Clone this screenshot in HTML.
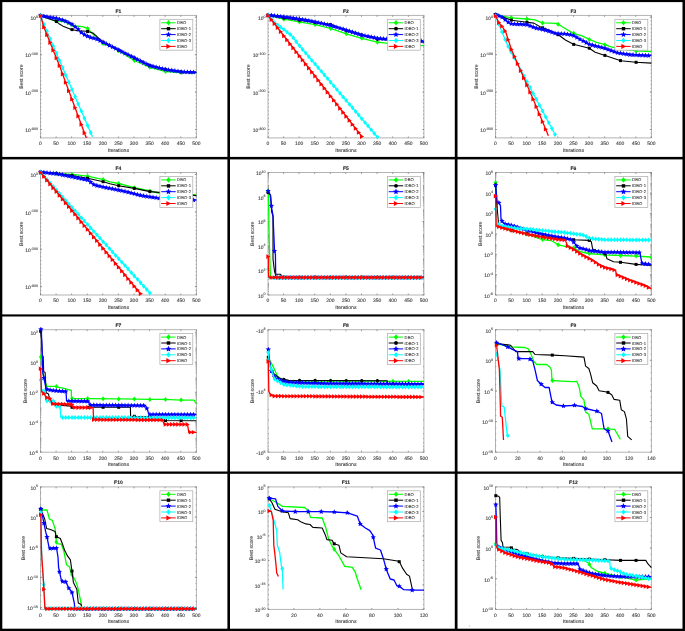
<!DOCTYPE html>
<html><head><meta charset="utf-8"><style>html,body{margin:0;padding:0;background:#fff;width:685px;height:631px;overflow:hidden}svg{will-change:transform}svg text{font-family:"Liberation Sans",sans-serif;text-rendering:geometricPrecision}</style></head><body>
<svg width="685" height="631" viewBox="0 0 685 631" style="position:absolute;left:0;top:0">
<rect x="0" y="0" width="685" height="631" fill="#fff"/>
<g>
<clipPath id="cF1"><rect x="37.5" y="12.4" width="161.9" height="128.5"/></clipPath>
<rect x="40.5" y="15.4" width="155.9" height="122.5" fill="none" stroke="#b0b0b0" stroke-width="0.95"/>
<path d="M40.5 137.9v-1.5M40.5 15.4v1.5M56.1 137.9v-1.5M56.1 15.4v1.5M71.6 137.9v-1.5M71.6 15.4v1.5M87.2 137.9v-1.5M87.2 15.4v1.5M102.8 137.9v-1.5M102.8 15.4v1.5M118.4 137.9v-1.5M118.4 15.4v1.5M134 137.9v-1.5M134 15.4v1.5M149.6 137.9v-1.5M149.6 15.4v1.5M165.2 137.9v-1.5M165.2 15.4v1.5M180.8 137.9v-1.5M180.8 15.4v1.5M196.4 137.9v-1.5M196.4 15.4v1.5M40.5 17.3h1.5M196.4 17.3h-1.5M40.5 54.7h1.5M196.4 54.7h-1.5M40.5 92.1h1.5M196.4 92.1h-1.5M40.5 129.5h1.5M196.4 129.5h-1.5M40.5 136.9h0.8M196.4 136.9h-0.8M40.5 133.2h0.8M196.4 133.2h-0.8M40.5 129.5h0.8M196.4 129.5h-0.8M40.5 125.7h0.8M196.4 125.7h-0.8M40.5 122h0.8M196.4 122h-0.8M40.5 118.2h0.8M196.4 118.2h-0.8M40.5 114.5h0.8M196.4 114.5h-0.8M40.5 110.8h0.8M196.4 110.8h-0.8M40.5 107h0.8M196.4 107h-0.8M40.5 103.3h0.8M196.4 103.3h-0.8M40.5 99.5h0.8M196.4 99.5h-0.8M40.5 95.8h0.8M196.4 95.8h-0.8M40.5 92.1h0.8M196.4 92.1h-0.8M40.5 88.3h0.8M196.4 88.3h-0.8M40.5 84.6h0.8M196.4 84.6h-0.8M40.5 80.9h0.8M196.4 80.9h-0.8M40.5 77.1h0.8M196.4 77.1h-0.8M40.5 73.4h0.8M196.4 73.4h-0.8M40.5 69.6h0.8M196.4 69.6h-0.8M40.5 65.9h0.8M196.4 65.9h-0.8M40.5 62.2h0.8M196.4 62.2h-0.8M40.5 58.4h0.8M196.4 58.4h-0.8M40.5 54.7h0.8M196.4 54.7h-0.8M40.5 50.9h0.8M196.4 50.9h-0.8M40.5 47.2h0.8M196.4 47.2h-0.8M40.5 43.5h0.8M196.4 43.5h-0.8M40.5 39.7h0.8M196.4 39.7h-0.8M40.5 36h0.8M196.4 36h-0.8M40.5 32.3h0.8M196.4 32.3h-0.8M40.5 28.5h0.8M196.4 28.5h-0.8M40.5 24.8h0.8M196.4 24.8h-0.8M40.5 21h0.8M196.4 21h-0.8M40.5 17.3h0.8M196.4 17.3h-0.8" stroke="#777" stroke-width="0.7" fill="none"/>
<text transform="translate(40.5 145.3) scale(0.1)" text-anchor="middle" font-size="50" fill="#3c3c3c" stroke="#3c3c3c" stroke-width="1">0</text>
<text transform="translate(56.1 145.3) scale(0.1)" text-anchor="middle" font-size="50" fill="#3c3c3c" stroke="#3c3c3c" stroke-width="1">50</text>
<text transform="translate(71.6 145.3) scale(0.1)" text-anchor="middle" font-size="50" fill="#3c3c3c" stroke="#3c3c3c" stroke-width="1">100</text>
<text transform="translate(87.2 145.3) scale(0.1)" text-anchor="middle" font-size="50" fill="#3c3c3c" stroke="#3c3c3c" stroke-width="1">150</text>
<text transform="translate(102.8 145.3) scale(0.1)" text-anchor="middle" font-size="50" fill="#3c3c3c" stroke="#3c3c3c" stroke-width="1">200</text>
<text transform="translate(118.4 145.3) scale(0.1)" text-anchor="middle" font-size="50" fill="#3c3c3c" stroke="#3c3c3c" stroke-width="1">250</text>
<text transform="translate(134 145.3) scale(0.1)" text-anchor="middle" font-size="50" fill="#3c3c3c" stroke="#3c3c3c" stroke-width="1">300</text>
<text transform="translate(149.6 145.3) scale(0.1)" text-anchor="middle" font-size="50" fill="#3c3c3c" stroke="#3c3c3c" stroke-width="1">350</text>
<text transform="translate(165.2 145.3) scale(0.1)" text-anchor="middle" font-size="50" fill="#3c3c3c" stroke="#3c3c3c" stroke-width="1">400</text>
<text transform="translate(180.8 145.3) scale(0.1)" text-anchor="middle" font-size="50" fill="#3c3c3c" stroke="#3c3c3c" stroke-width="1">450</text>
<text transform="translate(196.4 145.3) scale(0.1)" text-anchor="middle" font-size="50" fill="#3c3c3c" stroke="#3c3c3c" stroke-width="1">500</text>
<text transform="translate(38 20.1) scale(0.1)" text-anchor="end" font-size="50" fill="#3c3c3c" stroke="#3c3c3c" stroke-width="1">10<tspan font-size="36" dy="-24.5">0</tspan></text>
<text transform="translate(38 57.4) scale(0.1)" text-anchor="end" font-size="50" fill="#3c3c3c" stroke="#3c3c3c" stroke-width="1">10<tspan font-size="36" dy="-24.5">-100</tspan></text>
<text transform="translate(38 94.8) scale(0.1)" text-anchor="end" font-size="50" fill="#3c3c3c" stroke="#3c3c3c" stroke-width="1">10<tspan font-size="36" dy="-24.5">-200</tspan></text>
<text transform="translate(38 132.2) scale(0.1)" text-anchor="end" font-size="50" fill="#3c3c3c" stroke="#3c3c3c" stroke-width="1">10<tspan font-size="36" dy="-24.5">-300</tspan></text>
<text transform="translate(118.4 12.9) scale(0.1)" text-anchor="middle" font-size="50" fill="#222" stroke="#222" stroke-width="1" font-weight="bold">F1</text>
<text transform="translate(118.4 151.9) scale(0.1)" text-anchor="middle" font-size="51.5" fill="#3c3c3c" stroke="#3c3c3c" stroke-width="1">Iterations</text>
<text transform="translate(22.7 76.6) rotate(-90) scale(0.1)" text-anchor="middle" font-size="51.5" fill="#3c3c3c" stroke="#3c3c3c" stroke-width="1">Best score</text>
<g clip-path="url(#cF1)">
<path d="M40.6 15.6L49.7 19L55.5 20.8L63.7 21.5L70.7 24.8L75.4 26L82.4 26.6L87.6 28.4L91.7 33L96.4 37.1L103.4 43.7L110.4 46.3L118.5 50.6L134.3 60.5L150.1 67.3L165.8 71.5L181 72.6L196.4 73" stroke="#00ff00" stroke-width="1.3" fill="none" stroke-linejoin="round"/>
<polygon points="40.6,13.1 42.5,15.6 40.6,18.1 38.7,15.6" fill="#00ff00"/>
<polygon points="56.4,18.4 58.3,20.9 56.4,23.4 54.5,20.9" fill="#00ff00"/>
<polygon points="72,22.6 73.9,25.1 72,27.6 70.1,25.1" fill="#00ff00"/>
<polygon points="87.6,25.9 89.5,28.4 87.6,30.9 85.7,28.4" fill="#00ff00"/>
<polygon points="103.1,41 105,43.5 103.1,46 101.2,43.5" fill="#00ff00"/>
<polygon points="118.7,48.3 120.6,50.8 118.7,53.3 116.8,50.8" fill="#00ff00"/>
<polygon points="134.3,58 136.2,60.5 134.3,63 132.4,60.5" fill="#00ff00"/>
<polygon points="149.9,64.7 151.8,67.2 149.9,69.7 148,67.2" fill="#00ff00"/>
<polygon points="165.5,68.9 167.4,71.4 165.5,73.9 163.6,71.4" fill="#00ff00"/>
<polygon points="181.1,70.1 183,72.6 181.1,75.1 179.2,72.6" fill="#00ff00"/>
<path d="M40.6 15.6L49.7 19L56.1 21.3L59 23.7L63.7 26.6L71.3 29.5L77.7 30.7L87 31.3L92.9 33L97.6 37.1L103.4 42.4L110.4 45.9L117.9 49.7L133.7 57.6L149.4 65.5L165.2 69.4L181 71.8L196.4 72.4" stroke="#000000" stroke-width="1.1" fill="none" stroke-linejoin="round"/>
<rect x="39.1" y="14.1" width="3" height="3" fill="#000000"/>
<rect x="54.9" y="20" width="3" height="3" fill="#000000"/>
<rect x="70.5" y="28.1" width="3" height="3" fill="#000000"/>
<rect x="86.1" y="30" width="3" height="3" fill="#000000"/>
<rect x="101.6" y="40.7" width="3" height="3" fill="#000000"/>
<rect x="117.2" y="48.6" width="3" height="3" fill="#000000"/>
<rect x="132.8" y="56.4" width="3" height="3" fill="#000000"/>
<rect x="148.4" y="64.1" width="3" height="3" fill="#000000"/>
<rect x="164" y="67.9" width="3" height="3" fill="#000000"/>
<rect x="179.6" y="70.3" width="3" height="3" fill="#000000"/>
<path d="M40.6 15.5L49.7 17.3L56.7 18.4L64.9 20.8L71.9 24.3L77.7 28.9L82.4 33.6L89.4 37.1L96.4 38.9L103.4 42.4L110.4 45.9L117.9 49.7L133.7 57.6L149.4 65.5L165.2 69.4L181 71.8L196.4 72.4" stroke="#0000ff" stroke-width="1.3" fill="none" stroke-linejoin="round"/>
<polygon points="40.6,12.7 41.4,14.4 43.3,14.6 41.8,15.9 42.2,17.8 40.6,16.8 39,17.8 39.4,15.9 37.9,14.6 39.8,14.4" fill="#0000ff"/>
<polygon points="43.9,13.4 44.7,15.1 46.6,15.3 45.1,16.6 45.5,18.4 43.9,17.5 42.2,18.4 42.7,16.6 41.2,15.3 43.1,15.1" fill="#0000ff"/>
<polygon points="47,14 47.8,15.7 49.7,15.9 48.2,17.2 48.7,19 47,18.1 45.4,19 45.8,17.2 44.3,15.9 46.2,15.7" fill="#0000ff"/>
<polygon points="50.1,14.6 50.9,16.3 52.8,16.5 51.4,17.8 51.8,19.6 50.1,18.7 48.5,19.6 48.9,17.8 47.5,16.5 49.4,16.3" fill="#0000ff"/>
<polygon points="53.2,15.1 54,16.8 55.9,17 54.5,18.3 54.9,20.1 53.2,19.2 51.6,20.1 52,18.3 50.6,17 52.5,16.8" fill="#0000ff"/>
<polygon points="56.4,15.5 57.1,17.3 59,17.5 57.6,18.7 58,20.6 56.4,19.6 54.7,20.6 55.1,18.7 53.7,17.5 55.6,17.3" fill="#0000ff"/>
<polygon points="59.5,16.4 60.2,18.2 62.1,18.3 60.7,19.6 61.1,21.5 59.5,20.5 57.8,21.5 58.2,19.6 56.8,18.3 58.7,18.2" fill="#0000ff"/>
<polygon points="62.6,17.3 63.4,19.1 65.3,19.3 63.8,20.5 64.2,22.4 62.6,21.4 61,22.4 61.4,20.5 59.9,19.3 61.8,19.1" fill="#0000ff"/>
<polygon points="65.7,18.4 66.5,20.2 68.4,20.3 67,21.6 67.4,23.5 65.7,22.5 64.1,23.5 64.5,21.6 63.1,20.3 65,20.2" fill="#0000ff"/>
<polygon points="68.8,20 69.6,21.7 71.5,21.9 70.1,23.2 70.5,25 68.8,24.1 67.2,25 67.6,23.2 66.2,21.9 68.1,21.7" fill="#0000ff"/>
<polygon points="72,21.5 72.7,23.3 74.6,23.5 73.2,24.7 73.6,26.6 72,25.6 70.3,26.6 70.7,24.7 69.3,23.5 71.2,23.3" fill="#0000ff"/>
<polygon points="75.1,24 75.8,25.8 77.7,26 76.3,27.2 76.7,29.1 75.1,28.1 73.4,29.1 73.8,27.2 72.4,26 74.3,25.8" fill="#0000ff"/>
<polygon points="78.2,26.6 79,28.3 80.9,28.5 79.4,29.8 79.8,31.7 78.2,30.7 76.6,31.7 77,29.8 75.5,28.5 77.4,28.3" fill="#0000ff"/>
<polygon points="81.3,29.7 82.1,31.5 84,31.7 82.6,32.9 83,34.8 81.3,33.8 79.7,34.8 80.1,32.9 78.7,31.7 80.6,31.5" fill="#0000ff"/>
<polygon points="84.4,31.8 85.2,33.6 87.1,33.8 85.7,35 86.1,36.9 84.4,35.9 82.8,36.9 83.2,35 81.8,33.8 83.7,33.6" fill="#0000ff"/>
<polygon points="87.6,33.4 88.3,35.1 90.2,35.3 88.8,36.6 89.2,38.4 87.6,37.5 85.9,38.4 86.3,36.6 84.9,35.3 86.8,35.1" fill="#0000ff"/>
<polygon points="90.7,34.6 91.4,36.4 93.3,36.6 91.9,37.8 92.3,39.7 90.7,38.7 89,39.7 89.4,37.8 88,36.6 89.9,36.4" fill="#0000ff"/>
<polygon points="93.8,35.4 94.6,37.2 96.5,37.4 95,38.6 95.4,40.5 93.8,39.5 92.1,40.5 92.6,38.6 91.1,37.4 93,37.2" fill="#0000ff"/>
<polygon points="96.9,36.4 97.7,38.1 99.6,38.3 98.1,39.6 98.6,41.4 96.9,40.5 95.3,41.4 95.7,39.6 94.2,38.3 96.1,38.1" fill="#0000ff"/>
<polygon points="100,37.9 100.8,39.7 102.7,39.8 101.3,41.1 101.7,43 100,42 98.4,43 98.8,41.1 97.4,39.8 99.3,39.7" fill="#0000ff"/>
<polygon points="103.1,39.5 103.9,41.2 105.8,41.4 104.4,42.7 104.8,44.5 103.1,43.6 101.5,44.5 101.9,42.7 100.5,41.4 102.4,41.2" fill="#0000ff"/>
<polygon points="106.3,41 107,42.8 108.9,43 107.5,44.2 107.9,46.1 106.3,45.1 104.6,46.1 105,44.2 103.6,43 105.5,42.8" fill="#0000ff"/>
<polygon points="109.4,42.6 110.1,44.3 112,44.5 110.6,45.8 111,47.7 109.4,46.7 107.7,47.7 108.1,45.8 106.7,44.5 108.6,44.3" fill="#0000ff"/>
<polygon points="112.5,44.2 113.3,45.9 115.2,46.1 113.7,47.4 114.2,49.2 112.5,48.3 110.9,49.2 111.3,47.4 109.8,46.1 111.7,45.9" fill="#0000ff"/>
<polygon points="115.6,45.7 116.4,47.5 118.3,47.7 116.9,48.9 117.3,50.8 115.6,49.8 114,50.8 114.4,48.9 113,47.7 114.9,47.5" fill="#0000ff"/>
<polygon points="118.7,47.3 119.5,49.1 121.4,49.3 120,50.5 120.4,52.4 118.7,51.4 117.1,52.4 117.5,50.5 116.1,49.3 118,49.1" fill="#0000ff"/>
<polygon points="121.9,48.9 122.6,50.6 124.5,50.8 123.1,52.1 123.5,53.9 121.9,53 120.2,53.9 120.6,52.1 119.2,50.8 121.1,50.6" fill="#0000ff"/>
<polygon points="125,50.4 125.7,52.2 127.6,52.4 126.2,53.6 126.6,55.5 125,54.5 123.3,55.5 123.7,53.6 122.3,52.4 124.2,52.2" fill="#0000ff"/>
<polygon points="128.1,52 128.9,53.7 130.8,53.9 129.3,55.2 129.7,57.1 128.1,56.1 126.5,57.1 126.9,55.2 125.4,53.9 127.3,53.7" fill="#0000ff"/>
<polygon points="131.2,53.6 132,55.3 133.9,55.5 132.5,56.8 132.9,58.6 131.2,57.7 129.6,58.6 130,56.8 128.6,55.5 130.5,55.3" fill="#0000ff"/>
<polygon points="134.3,55.1 135.1,56.9 137,57.1 135.6,58.3 136,60.2 134.3,59.2 132.7,60.2 133.1,58.3 131.7,57.1 133.6,56.9" fill="#0000ff"/>
<polygon points="137.5,56.7 138.2,58.4 140.1,58.6 138.7,59.9 139.1,61.8 137.5,60.8 135.8,61.8 136.2,59.9 134.8,58.6 136.7,58.4" fill="#0000ff"/>
<polygon points="140.6,58.3 141.3,60 143.2,60.2 141.8,61.5 142.2,63.3 140.6,62.4 138.9,63.3 139.3,61.5 137.9,60.2 139.8,60" fill="#0000ff"/>
<polygon points="143.7,59.8 144.5,61.6 146.4,61.8 144.9,63 145.3,64.9 143.7,63.9 142,64.9 142.5,63 141,61.8 142.9,61.6" fill="#0000ff"/>
<polygon points="146.8,61.4 147.6,63.1 149.5,63.3 148,64.6 148.5,66.5 146.8,65.5 145.2,66.5 145.6,64.6 144.1,63.3 146,63.1" fill="#0000ff"/>
<polygon points="149.9,62.8 150.7,64.6 152.6,64.8 151.2,66 151.6,67.9 149.9,66.9 148.3,67.9 148.7,66 147.3,64.8 149.2,64.6" fill="#0000ff"/>
<polygon points="153,63.6 153.8,65.3 155.7,65.5 154.3,66.8 154.7,68.7 153,67.7 151.4,68.7 151.8,66.8 150.4,65.5 152.3,65.3" fill="#0000ff"/>
<polygon points="156.2,64.4 156.9,66.1 158.8,66.3 157.4,67.6 157.8,69.4 156.2,68.5 154.5,69.4 154.9,67.6 153.5,66.3 155.4,66.1" fill="#0000ff"/>
<polygon points="159.3,65.1 160.1,66.9 161.9,67.1 160.5,68.3 160.9,70.2 159.3,69.2 157.6,70.2 158,68.3 156.6,67.1 158.5,66.9" fill="#0000ff"/>
<polygon points="162.4,65.9 163.2,67.7 165.1,67.8 163.6,69.1 164.1,71 162.4,70 160.8,71 161.2,69.1 159.7,67.8 161.6,67.7" fill="#0000ff"/>
<polygon points="165.5,66.6 166.3,68.4 168.2,68.6 166.8,69.9 167.2,71.7 165.5,70.7 163.9,71.7 164.3,69.9 162.9,68.6 164.8,68.4" fill="#0000ff"/>
<polygon points="168.6,67.1 169.4,68.9 171.3,69.1 169.9,70.3 170.3,72.2 168.6,71.2 167,72.2 167.4,70.3 166,69.1 167.9,68.9" fill="#0000ff"/>
<polygon points="171.8,67.6 172.5,69.3 174.4,69.5 173,70.8 173.4,72.7 171.8,71.7 170.1,72.7 170.5,70.8 169.1,69.5 171,69.3" fill="#0000ff"/>
<polygon points="174.9,68.1 175.6,69.8 177.5,70 176.1,71.3 176.5,73.1 174.9,72.2 173.2,73.1 173.6,71.3 172.2,70 174.1,69.8" fill="#0000ff"/>
<polygon points="178,68.5 178.8,70.3 180.7,70.5 179.2,71.7 179.6,73.6 178,72.6 176.4,73.6 176.8,71.7 175.3,70.5 177.2,70.3" fill="#0000ff"/>
<polygon points="181.1,69 181.9,70.8 183.8,70.9 182.4,72.2 182.8,74.1 181.1,73.1 179.5,74.1 179.9,72.2 178.5,70.9 180.4,70.8" fill="#0000ff"/>
<polygon points="184.2,69.1 185,70.9 186.9,71.1 185.5,72.3 185.9,74.2 184.2,73.2 182.6,74.2 183,72.3 181.6,71.1 183.5,70.9" fill="#0000ff"/>
<polygon points="187.4,69.2 188.1,71 190,71.2 188.6,72.4 189,74.3 187.4,73.3 185.7,74.3 186.1,72.4 184.7,71.2 186.6,71" fill="#0000ff"/>
<polygon points="190.5,69.4 191.2,71.1 193.1,71.3 191.7,72.6 192.1,74.4 190.5,73.5 188.8,74.4 189.2,72.6 187.8,71.3 189.7,71.1" fill="#0000ff"/>
<polygon points="193.6,69.5 194.4,71.2 196.3,71.4 194.8,72.7 195.2,74.6 193.6,73.6 191.9,74.6 192.4,72.7 190.9,71.4 192.8,71.2" fill="#0000ff"/>
<path d="M40.6 15.8L45 27L62.1 66.5L75.4 97.5L92.5 136.7" stroke="#00ffff" stroke-width="1.3" fill="none" stroke-linejoin="round"/>
<polygon points="40.6,13.3 42.5,15.8 40.6,18.3 38.7,15.8" fill="#00ffff"/>
<polygon points="43.9,21.7 45.8,24.2 43.9,26.7 42,24.2" fill="#00ffff"/>
<polygon points="47,29.1 48.9,31.6 47,34.1 45.1,31.6" fill="#00ffff"/>
<polygon points="50.1,36.3 52,38.8 50.1,41.3 48.2,38.8" fill="#00ffff"/>
<polygon points="53.2,43.6 55.1,46.1 53.2,48.6 51.3,46.1" fill="#00ffff"/>
<polygon points="56.4,50.8 58.3,53.3 56.4,55.8 54.5,53.3" fill="#00ffff"/>
<polygon points="59.5,58 61.4,60.5 59.5,63 57.6,60.5" fill="#00ffff"/>
<polygon points="62.6,65.2 64.5,67.7 62.6,70.2 60.7,67.7" fill="#00ffff"/>
<polygon points="65.7,72.4 67.6,74.9 65.7,77.4 63.8,74.9" fill="#00ffff"/>
<polygon points="68.8,79.7 70.7,82.2 68.8,84.7 66.9,82.2" fill="#00ffff"/>
<polygon points="72,87 73.9,89.5 72,92 70.1,89.5" fill="#00ffff"/>
<polygon points="75.1,94.3 77,96.8 75.1,99.3 73.2,96.8" fill="#00ffff"/>
<polygon points="78.2,101.4 80.1,103.9 78.2,106.4 76.3,103.9" fill="#00ffff"/>
<polygon points="81.3,108.6 83.2,111.1 81.3,113.6 79.4,111.1" fill="#00ffff"/>
<polygon points="84.4,115.7 86.3,118.2 84.4,120.7 82.5,118.2" fill="#00ffff"/>
<polygon points="87.6,122.9 89.5,125.4 87.6,127.9 85.7,125.4" fill="#00ffff"/>
<polygon points="90.7,130 92.6,132.5 90.7,135 88.8,132.5" fill="#00ffff"/>
<path d="M40.6 15.8L43.8 27L59.5 65.7L86.3 137.9" stroke="#ff0000" stroke-width="1.3" fill="none" stroke-linejoin="round"/>
<polygon points="42.9,15.8 38.8,13.5 38.8,18.1" fill="#ff0000"/>
<polygon points="46.2,27.2 42.1,24.9 42.1,29.5" fill="#ff0000"/>
<polygon points="49.3,34.9 45.2,32.6 45.2,37.2" fill="#ff0000"/>
<polygon points="52.4,42.6 48.3,40.3 48.3,44.9" fill="#ff0000"/>
<polygon points="55.5,50.3 51.4,48 51.4,52.6" fill="#ff0000"/>
<polygon points="58.7,58 54.6,55.7 54.6,60.3" fill="#ff0000"/>
<polygon points="61.8,65.7 57.7,63.4 57.7,68" fill="#ff0000"/>
<polygon points="64.9,74.1 60.8,71.8 60.8,76.4" fill="#ff0000"/>
<polygon points="68,82.5 63.9,80.2 63.9,84.8" fill="#ff0000"/>
<polygon points="71.1,90.9 67,88.6 67,93.2" fill="#ff0000"/>
<polygon points="74.3,99.3 70.2,97 70.2,101.6" fill="#ff0000"/>
<polygon points="77.4,107.7 73.3,105.4 73.3,110" fill="#ff0000"/>
<polygon points="80.5,116.1 76.4,113.8 76.4,118.4" fill="#ff0000"/>
<polygon points="83.6,124.5 79.5,122.2 79.5,126.8" fill="#ff0000"/>
<polygon points="86.7,132.9 82.6,130.6 82.6,135.2" fill="#ff0000"/>
</g>
<rect x="159.9" y="19.3" width="32.9" height="30.9" fill="#fff" stroke="#aaa" stroke-width="0.7"/>
<path d="M161.2 22.8H175.7" stroke="#00ff00" stroke-width="1"/>
<polygon points="168.5,20 170.6,22.8 168.5,25.6 166.3,22.8" fill="#00ff00"/>
<text transform="translate(177.1 24.3) scale(0.1)" text-anchor="start" font-size="42" fill="#3c3c3c" stroke="#3c3c3c" stroke-width="1">DBO</text>
<path d="M161.2 28.7H175.7" stroke="#000000" stroke-width="1"/>
<rect x="166.8" y="27" width="3.4" height="3.4" fill="#000000"/>
<text transform="translate(177.1 30.2) scale(0.1)" text-anchor="start" font-size="42" fill="#3c3c3c" stroke="#3c3c3c" stroke-width="1">IDBO-1</text>
<path d="M161.2 34.6H175.7" stroke="#0000ff" stroke-width="1"/>
<polygon points="168.5,31.4 169.3,33.4 171.4,33.6 169.8,35 170.3,37.1 168.5,36 166.6,37.1 167.1,35 165.5,33.6 167.6,33.4" fill="#0000ff"/>
<text transform="translate(177.1 36.1) scale(0.1)" text-anchor="start" font-size="42" fill="#3c3c3c" stroke="#3c3c3c" stroke-width="1">IDBO-2</text>
<path d="M161.2 40.5H175.7" stroke="#00ffff" stroke-width="1"/>
<polygon points="168.5,37.7 170.6,40.5 168.5,43.3 166.3,40.5" fill="#00ffff"/>
<text transform="translate(177.1 42) scale(0.1)" text-anchor="start" font-size="42" fill="#3c3c3c" stroke="#3c3c3c" stroke-width="1">IDBO-3</text>
<path d="M161.2 46.4H175.7" stroke="#ff0000" stroke-width="1"/>
<polygon points="171,46.4 166.4,43.8 166.4,48.9" fill="#ff0000"/>
<text transform="translate(177.1 47.9) scale(0.1)" text-anchor="start" font-size="42" fill="#3c3c3c" stroke="#3c3c3c" stroke-width="1">IDBO</text>
</g>
<g>
<clipPath id="cF2"><rect x="265" y="12.4" width="161.9" height="128.5"/></clipPath>
<rect x="268" y="15.4" width="155.9" height="122.5" fill="none" stroke="#b0b0b0" stroke-width="0.95"/>
<path d="M268 137.9v-1.5M268 15.4v1.5M283.6 137.9v-1.5M283.6 15.4v1.5M299.1 137.9v-1.5M299.1 15.4v1.5M314.7 137.9v-1.5M314.7 15.4v1.5M330.3 137.9v-1.5M330.3 15.4v1.5M345.9 137.9v-1.5M345.9 15.4v1.5M361.5 137.9v-1.5M361.5 15.4v1.5M377.1 137.9v-1.5M377.1 15.4v1.5M392.7 137.9v-1.5M392.7 15.4v1.5M408.3 137.9v-1.5M408.3 15.4v1.5M423.9 137.9v-1.5M423.9 15.4v1.5M268 17.3h1.5M423.9 17.3h-1.5M268 54.7h1.5M423.9 54.7h-1.5M268 92.1h1.5M423.9 92.1h-1.5M268 129.5h1.5M423.9 129.5h-1.5M268 136.9h0.8M423.9 136.9h-0.8M268 133.2h0.8M423.9 133.2h-0.8M268 129.5h0.8M423.9 129.5h-0.8M268 125.7h0.8M423.9 125.7h-0.8M268 122h0.8M423.9 122h-0.8M268 118.2h0.8M423.9 118.2h-0.8M268 114.5h0.8M423.9 114.5h-0.8M268 110.8h0.8M423.9 110.8h-0.8M268 107h0.8M423.9 107h-0.8M268 103.3h0.8M423.9 103.3h-0.8M268 99.5h0.8M423.9 99.5h-0.8M268 95.8h0.8M423.9 95.8h-0.8M268 92.1h0.8M423.9 92.1h-0.8M268 88.3h0.8M423.9 88.3h-0.8M268 84.6h0.8M423.9 84.6h-0.8M268 80.9h0.8M423.9 80.9h-0.8M268 77.1h0.8M423.9 77.1h-0.8M268 73.4h0.8M423.9 73.4h-0.8M268 69.6h0.8M423.9 69.6h-0.8M268 65.9h0.8M423.9 65.9h-0.8M268 62.2h0.8M423.9 62.2h-0.8M268 58.4h0.8M423.9 58.4h-0.8M268 54.7h0.8M423.9 54.7h-0.8M268 50.9h0.8M423.9 50.9h-0.8M268 47.2h0.8M423.9 47.2h-0.8M268 43.5h0.8M423.9 43.5h-0.8M268 39.7h0.8M423.9 39.7h-0.8M268 36h0.8M423.9 36h-0.8M268 32.3h0.8M423.9 32.3h-0.8M268 28.5h0.8M423.9 28.5h-0.8M268 24.8h0.8M423.9 24.8h-0.8M268 21h0.8M423.9 21h-0.8M268 17.3h0.8M423.9 17.3h-0.8" stroke="#777" stroke-width="0.7" fill="none"/>
<text transform="translate(268 145.3) scale(0.1)" text-anchor="middle" font-size="50" fill="#3c3c3c" stroke="#3c3c3c" stroke-width="1">0</text>
<text transform="translate(283.6 145.3) scale(0.1)" text-anchor="middle" font-size="50" fill="#3c3c3c" stroke="#3c3c3c" stroke-width="1">50</text>
<text transform="translate(299.1 145.3) scale(0.1)" text-anchor="middle" font-size="50" fill="#3c3c3c" stroke="#3c3c3c" stroke-width="1">100</text>
<text transform="translate(314.7 145.3) scale(0.1)" text-anchor="middle" font-size="50" fill="#3c3c3c" stroke="#3c3c3c" stroke-width="1">150</text>
<text transform="translate(330.3 145.3) scale(0.1)" text-anchor="middle" font-size="50" fill="#3c3c3c" stroke="#3c3c3c" stroke-width="1">200</text>
<text transform="translate(345.9 145.3) scale(0.1)" text-anchor="middle" font-size="50" fill="#3c3c3c" stroke="#3c3c3c" stroke-width="1">250</text>
<text transform="translate(361.5 145.3) scale(0.1)" text-anchor="middle" font-size="50" fill="#3c3c3c" stroke="#3c3c3c" stroke-width="1">300</text>
<text transform="translate(377.1 145.3) scale(0.1)" text-anchor="middle" font-size="50" fill="#3c3c3c" stroke="#3c3c3c" stroke-width="1">350</text>
<text transform="translate(392.7 145.3) scale(0.1)" text-anchor="middle" font-size="50" fill="#3c3c3c" stroke="#3c3c3c" stroke-width="1">400</text>
<text transform="translate(408.3 145.3) scale(0.1)" text-anchor="middle" font-size="50" fill="#3c3c3c" stroke="#3c3c3c" stroke-width="1">450</text>
<text transform="translate(423.9 145.3) scale(0.1)" text-anchor="middle" font-size="50" fill="#3c3c3c" stroke="#3c3c3c" stroke-width="1">500</text>
<text transform="translate(265.5 20.1) scale(0.1)" text-anchor="end" font-size="50" fill="#3c3c3c" stroke="#3c3c3c" stroke-width="1">10<tspan font-size="36" dy="-24.5">0</tspan></text>
<text transform="translate(265.5 57.4) scale(0.1)" text-anchor="end" font-size="50" fill="#3c3c3c" stroke="#3c3c3c" stroke-width="1">10<tspan font-size="36" dy="-24.5">-100</tspan></text>
<text transform="translate(265.5 94.8) scale(0.1)" text-anchor="end" font-size="50" fill="#3c3c3c" stroke="#3c3c3c" stroke-width="1">10<tspan font-size="36" dy="-24.5">-200</tspan></text>
<text transform="translate(265.5 132.2) scale(0.1)" text-anchor="end" font-size="50" fill="#3c3c3c" stroke="#3c3c3c" stroke-width="1">10<tspan font-size="36" dy="-24.5">-300</tspan></text>
<text transform="translate(345.9 12.9) scale(0.1)" text-anchor="middle" font-size="50" fill="#222" stroke="#222" stroke-width="1" font-weight="bold">F2</text>
<text transform="translate(345.9 151.9) scale(0.1)" text-anchor="middle" font-size="51.5" fill="#3c3c3c" stroke="#3c3c3c" stroke-width="1">Iterations</text>
<text transform="translate(250.2 76.6) rotate(-90) scale(0.1)" text-anchor="middle" font-size="51.5" fill="#3c3c3c" stroke="#3c3c3c" stroke-width="1">Best score</text>
<g clip-path="url(#cF2)">
<path d="M268.1 15.3L283.7 19.2L298.9 21.9L315.2 24.6L330.4 28.4L346.4 33.8L361.8 38.3L377.3 42.2L392.9 43.8L408.4 44.8L424.1 45.7" stroke="#00ff00" stroke-width="1.3" fill="none" stroke-linejoin="round"/>
<polygon points="268.1,12.8 270,15.3 268.1,17.8 266.2,15.3" fill="#00ff00"/>
<polygon points="283.9,16.7 285.8,19.2 283.9,21.7 282,19.2" fill="#00ff00"/>
<polygon points="299.5,19.5 301.4,22 299.5,24.5 297.6,22" fill="#00ff00"/>
<polygon points="315.1,22.1 317,24.6 315.1,27.1 313.2,24.6" fill="#00ff00"/>
<polygon points="330.6,26 332.5,28.5 330.6,31 328.7,28.5" fill="#00ff00"/>
<polygon points="346.2,31.2 348.1,33.7 346.2,36.2 344.3,33.7" fill="#00ff00"/>
<polygon points="361.8,35.8 363.7,38.3 361.8,40.8 359.9,38.3" fill="#00ff00"/>
<polygon points="377.4,39.7 379.3,42.2 377.4,44.7 375.5,42.2" fill="#00ff00"/>
<polygon points="393,41.3 394.9,43.8 393,46.3 391.1,43.8" fill="#00ff00"/>
<polygon points="408.6,42.3 410.5,44.8 408.6,47.3 406.7,44.8" fill="#00ff00"/>
<path d="M268.1 15.3L283.7 18L298.9 20.2L315.2 22.5L330.4 24.3L346.4 30.8L361.8 34.9L377.3 39.2L392.9 40.5L408.4 41.5L424.1 42.2" stroke="#000000" stroke-width="1.1" fill="none" stroke-linejoin="round"/>
<circle cx="268.1" cy="15.3" r="1.7" fill="#000000"/>
<circle cx="283.9" cy="18" r="1.7" fill="#000000"/>
<circle cx="299.5" cy="20.3" r="1.7" fill="#000000"/>
<circle cx="315.1" cy="22.5" r="1.7" fill="#000000"/>
<circle cx="330.6" cy="24.4" r="1.7" fill="#000000"/>
<circle cx="346.2" cy="30.7" r="1.7" fill="#000000"/>
<circle cx="361.8" cy="34.9" r="1.7" fill="#000000"/>
<circle cx="377.4" cy="39.2" r="1.7" fill="#000000"/>
<circle cx="393" cy="40.5" r="1.7" fill="#000000"/>
<circle cx="408.6" cy="41.5" r="1.7" fill="#000000"/>
<path d="M268.1 15L282.5 16.7L300 19L315.2 21.9L330.4 25.4L344.4 29.5L347.7 30.6L361.8 35.1L377.3 38.3L386.2 39L400 40L420.9 40.9L424.1 41.3" stroke="#0000ff" stroke-width="1.3" fill="none" stroke-linejoin="round"/>
<polygon points="268.1,12.2 268.9,13.9 270.8,14.1 269.3,15.4 269.7,17.3 268.1,16.3 266.5,17.3 266.9,15.4 265.4,14.1 267.3,13.9" fill="#0000ff"/>
<polygon points="271.4,12.6 272.2,14.3 274.1,14.5 272.6,15.8 273,17.7 271.4,16.7 269.7,17.7 270.2,15.8 268.7,14.5 270.6,14.3" fill="#0000ff"/>
<polygon points="274.5,13 275.3,14.7 277.2,14.9 275.7,16.2 276.2,18 274.5,17.1 272.9,18 273.3,16.2 271.8,14.9 273.7,14.7" fill="#0000ff"/>
<polygon points="277.6,13.3 278.4,15.1 280.3,15.3 278.9,16.5 279.3,18.4 277.6,17.4 276,18.4 276.4,16.5 275,15.3 276.9,15.1" fill="#0000ff"/>
<polygon points="280.7,13.7 281.5,15.4 283.4,15.6 282,16.9 282.4,18.8 280.7,17.8 279.1,18.8 279.5,16.9 278.1,15.6 280,15.4" fill="#0000ff"/>
<polygon points="283.9,14.1 284.6,15.8 286.5,16 285.1,17.3 285.5,19.1 283.9,18.2 282.2,19.1 282.6,17.3 281.2,16 283.1,15.8" fill="#0000ff"/>
<polygon points="287,14.5 287.7,16.2 289.6,16.4 288.2,17.7 288.6,19.6 287,18.6 285.3,19.6 285.7,17.7 284.3,16.4 286.2,16.2" fill="#0000ff"/>
<polygon points="290.1,14.9 290.9,16.6 292.8,16.8 291.3,18.1 291.7,20 290.1,19 288.5,20 288.9,18.1 287.4,16.8 289.3,16.6" fill="#0000ff"/>
<polygon points="293.2,15.3 294,17.1 295.9,17.2 294.5,18.5 294.9,20.4 293.2,19.4 291.6,20.4 292,18.5 290.6,17.2 292.5,17.1" fill="#0000ff"/>
<polygon points="296.3,15.7 297.1,17.5 299,17.7 297.6,18.9 298,20.8 296.3,19.8 294.7,20.8 295.1,18.9 293.7,17.7 295.6,17.5" fill="#0000ff"/>
<polygon points="299.5,16.1 300.2,17.9 302.1,18.1 300.7,19.3 301.1,21.2 299.5,20.2 297.8,21.2 298.2,19.3 296.8,18.1 298.7,17.9" fill="#0000ff"/>
<polygon points="302.6,16.7 303.3,18.4 305.2,18.6 303.8,19.9 304.2,21.8 302.6,20.8 300.9,21.8 301.3,19.9 299.9,18.6 301.8,18.4" fill="#0000ff"/>
<polygon points="305.7,17.3 306.5,19 308.4,19.2 306.9,20.5 307.3,22.4 305.7,21.4 304.1,22.4 304.5,20.5 303,19.2 304.9,19" fill="#0000ff"/>
<polygon points="308.8,17.9 309.6,19.6 311.5,19.8 310.1,21.1 310.5,22.9 308.8,22 307.2,22.9 307.6,21.1 306.2,19.8 308.1,19.6" fill="#0000ff"/>
<polygon points="311.9,18.5 312.7,20.2 314.6,20.4 313.2,21.7 313.6,23.5 311.9,22.6 310.3,23.5 310.7,21.7 309.3,20.4 311.2,20.2" fill="#0000ff"/>
<polygon points="315.1,19.1 315.8,20.8 317.7,21 316.3,22.3 316.7,24.1 315.1,23.2 313.4,24.1 313.8,22.3 312.4,21 314.3,20.8" fill="#0000ff"/>
<polygon points="318.2,19.8 318.9,21.5 320.8,21.7 319.4,23 319.8,24.8 318.2,23.9 316.5,24.8 316.9,23 315.5,21.7 317.4,21.5" fill="#0000ff"/>
<polygon points="321.3,20.5 322.1,22.3 324,22.4 322.5,23.7 322.9,25.6 321.3,24.6 319.6,25.6 320.1,23.7 318.6,22.4 320.5,22.3" fill="#0000ff"/>
<polygon points="324.4,21.2 325.2,23 327.1,23.2 325.6,24.4 326.1,26.3 324.4,25.3 322.8,26.3 323.2,24.4 321.7,23.2 323.6,23" fill="#0000ff"/>
<polygon points="327.5,21.9 328.3,23.7 330.2,23.9 328.8,25.1 329.2,27 327.5,26 325.9,27 326.3,25.1 324.9,23.9 326.8,23.7" fill="#0000ff"/>
<polygon points="330.6,22.7 331.4,24.4 333.3,24.6 331.9,25.9 332.3,27.7 330.6,26.8 329,27.7 329.4,25.9 328,24.6 329.9,24.4" fill="#0000ff"/>
<polygon points="333.8,23.6 334.5,25.3 336.4,25.5 335,26.8 335.4,28.7 333.8,27.7 332.1,28.7 332.5,26.8 331.1,25.5 333,25.3" fill="#0000ff"/>
<polygon points="336.9,24.5 337.6,26.2 339.5,26.4 338.1,27.7 338.5,29.6 336.9,28.6 335.2,29.6 335.6,27.7 334.2,26.4 336.1,26.2" fill="#0000ff"/>
<polygon points="340,25.4 340.8,27.2 342.7,27.3 341.2,28.6 341.7,30.5 340,29.5 338.4,30.5 338.8,28.6 337.3,27.3 339.2,27.2" fill="#0000ff"/>
<polygon points="343.1,26.3 343.9,28.1 345.8,28.3 344.4,29.5 344.8,31.4 343.1,30.4 341.5,31.4 341.9,29.5 340.5,28.3 342.4,28.1" fill="#0000ff"/>
<polygon points="346.2,27.3 347,29.1 348.9,29.2 347.5,30.5 347.9,32.4 346.2,31.4 344.6,32.4 345,30.5 343.6,29.2 345.5,29.1" fill="#0000ff"/>
<polygon points="349.4,28.3 350.1,30.1 352,30.3 350.6,31.5 351,33.4 349.4,32.4 347.7,33.4 348.1,31.5 346.7,30.3 348.6,30.1" fill="#0000ff"/>
<polygon points="352.5,29.3 353.2,31.1 355.1,31.3 353.7,32.5 354.1,34.4 352.5,33.4 350.8,34.4 351.2,32.5 349.8,31.3 351.7,31.1" fill="#0000ff"/>
<polygon points="355.6,30.3 356.4,32.1 358.3,32.3 356.8,33.5 357.2,35.4 355.6,34.4 354,35.4 354.4,33.5 352.9,32.3 354.8,32.1" fill="#0000ff"/>
<polygon points="358.7,31.3 359.5,33.1 361.4,33.3 360,34.5 360.4,36.4 358.7,35.4 357.1,36.4 357.5,34.5 356.1,33.3 358,33.1" fill="#0000ff"/>
<polygon points="361.8,32.3 362.6,34.1 364.5,34.2 363.1,35.5 363.5,37.4 361.8,36.4 360.2,37.4 360.6,35.5 359.2,34.2 361.1,34.1" fill="#0000ff"/>
<polygon points="365,33 365.7,34.7 367.6,34.9 366.2,36.2 366.6,38 365,37.1 363.3,38 363.7,36.2 362.3,34.9 364.2,34.7" fill="#0000ff"/>
<polygon points="368.1,33.6 368.8,35.3 370.7,35.5 369.3,36.8 369.7,38.7 368.1,37.7 366.4,38.7 366.8,36.8 365.4,35.5 367.3,35.3" fill="#0000ff"/>
<polygon points="371.2,34.2 372,36 373.9,36.2 372.4,37.4 372.8,39.3 371.2,38.3 369.5,39.3 370,37.4 368.5,36.2 370.4,36" fill="#0000ff"/>
<polygon points="374.3,34.9 375.1,36.6 377,36.8 375.5,38.1 376,39.9 374.3,39 372.7,39.9 373.1,38.1 371.6,36.8 373.5,36.6" fill="#0000ff"/>
<polygon points="377.4,35.5 378.2,37.3 380.1,37.4 378.7,38.7 379.1,40.6 377.4,39.6 375.8,40.6 376.2,38.7 374.8,37.4 376.7,37.3" fill="#0000ff"/>
<polygon points="380.5,35.8 381.3,37.5 383.2,37.7 381.8,39 382.2,40.8 380.5,39.9 378.9,40.8 379.3,39 377.9,37.7 379.8,37.5" fill="#0000ff"/>
<polygon points="383.7,36 384.4,37.7 386.3,37.9 384.9,39.2 385.3,41.1 383.7,40.1 382,41.1 382.4,39.2 381,37.9 382.9,37.7" fill="#0000ff"/>
<polygon points="386.8,36.2 387.6,38 389.4,38.2 388,39.4 388.4,41.3 386.8,40.3 385.1,41.3 385.5,39.4 384.1,38.2 386,38" fill="#0000ff"/>
<polygon points="389.9,36.5 390.7,38.2 392.6,38.4 391.1,39.7 391.6,41.5 389.9,40.6 388.3,41.5 388.7,39.7 387.2,38.4 389.1,38.2" fill="#0000ff"/>
<polygon points="393,36.7 393.8,38.4 395.7,38.6 394.3,39.9 394.7,41.8 393,40.8 391.4,41.8 391.8,39.9 390.4,38.6 392.3,38.4" fill="#0000ff"/>
<polygon points="396.1,36.9 396.9,38.7 398.8,38.9 397.4,40.1 397.8,42 396.1,41 394.5,42 394.9,40.1 393.5,38.9 395.4,38.7" fill="#0000ff"/>
<polygon points="399.3,37.1 400,38.9 401.9,39.1 400.5,40.3 400.9,42.2 399.3,41.2 397.6,42.2 398,40.3 396.6,39.1 398.5,38.9" fill="#0000ff"/>
<polygon points="402.4,37.3 403.1,39.1 405,39.2 403.6,40.5 404,42.4 402.4,41.4 400.7,42.4 401.1,40.5 399.7,39.2 401.6,39.1" fill="#0000ff"/>
<polygon points="405.5,37.4 406.3,39.2 408.2,39.4 406.7,40.6 407.1,42.5 405.5,41.5 403.9,42.5 404.3,40.6 402.8,39.4 404.7,39.2" fill="#0000ff"/>
<polygon points="408.6,37.6 409.4,39.3 411.3,39.5 409.9,40.8 410.3,42.6 408.6,41.7 407,42.6 407.4,40.8 406,39.5 407.9,39.3" fill="#0000ff"/>
<polygon points="411.7,37.7 412.5,39.5 414.4,39.6 413,40.9 413.4,42.8 411.7,41.8 410.1,42.8 410.5,40.9 409.1,39.6 411,39.5" fill="#0000ff"/>
<polygon points="414.9,37.8 415.6,39.6 417.5,39.8 416.1,41 416.5,42.9 414.9,41.9 413.2,42.9 413.6,41 412.2,39.8 414.1,39.6" fill="#0000ff"/>
<polygon points="418,38 418.7,39.7 420.6,39.9 419.2,41.2 419.6,43 418,42.1 416.3,43 416.7,41.2 415.3,39.9 417.2,39.7" fill="#0000ff"/>
<polygon points="421.1,38.1 421.9,39.9 423.8,40.1 422.3,41.3 422.7,43.2 421.1,42.2 419.4,43.2 419.9,41.3 418.4,40.1 420.3,39.9" fill="#0000ff"/>
<path d="M268.1 15.5L274.3 22.5L283.7 29.5L291.4 35.4L298.8 45L377.9 137.6" stroke="#00ffff" stroke-width="1.3" fill="none" stroke-linejoin="round"/>
<polygon points="268.1,13 270,15.5 268.1,18 266.2,15.5" fill="#00ffff"/>
<polygon points="271.4,16.7 273.3,19.2 271.4,21.7 269.5,19.2" fill="#00ffff"/>
<polygon points="274.5,20.2 276.4,22.7 274.5,25.2 272.6,22.7" fill="#00ffff"/>
<polygon points="277.6,22.5 279.5,25 277.6,27.5 275.7,25" fill="#00ffff"/>
<polygon points="280.7,24.8 282.6,27.3 280.7,29.8 278.8,27.3" fill="#00ffff"/>
<polygon points="283.9,27.1 285.8,29.6 283.9,32.1 282,29.6" fill="#00ffff"/>
<polygon points="287,29.5 288.9,32 287,34.5 285.1,32" fill="#00ffff"/>
<polygon points="290.1,31.9 292,34.4 290.1,36.9 288.2,34.4" fill="#00ffff"/>
<polygon points="293.2,35.3 295.1,37.8 293.2,40.3 291.3,37.8" fill="#00ffff"/>
<polygon points="296.3,39.3 298.2,41.8 296.3,44.3 294.4,41.8" fill="#00ffff"/>
<polygon points="299.5,43.3 301.4,45.8 299.5,48.3 297.6,45.8" fill="#00ffff"/>
<polygon points="302.6,46.9 304.5,49.4 302.6,51.9 300.7,49.4" fill="#00ffff"/>
<polygon points="305.7,50.6 307.6,53.1 305.7,55.6 303.8,53.1" fill="#00ffff"/>
<polygon points="308.8,54.2 310.7,56.7 308.8,59.2 306.9,56.7" fill="#00ffff"/>
<polygon points="311.9,57.9 313.8,60.4 311.9,62.9 310,60.4" fill="#00ffff"/>
<polygon points="315.1,61.5 317,64 315.1,66.5 313.2,64" fill="#00ffff"/>
<polygon points="318.2,65.2 320.1,67.7 318.2,70.2 316.3,67.7" fill="#00ffff"/>
<polygon points="321.3,68.8 323.2,71.3 321.3,73.8 319.4,71.3" fill="#00ffff"/>
<polygon points="324.4,72.5 326.3,75 324.4,77.5 322.5,75" fill="#00ffff"/>
<polygon points="327.5,76.1 329.4,78.6 327.5,81.1 325.6,78.6" fill="#00ffff"/>
<polygon points="330.6,79.8 332.5,82.3 330.6,84.8 328.7,82.3" fill="#00ffff"/>
<polygon points="333.8,83.4 335.7,85.9 333.8,88.4 331.9,85.9" fill="#00ffff"/>
<polygon points="336.9,87.1 338.8,89.6 336.9,92.1 335,89.6" fill="#00ffff"/>
<polygon points="340,90.7 341.9,93.2 340,95.7 338.1,93.2" fill="#00ffff"/>
<polygon points="343.1,94.4 345,96.9 343.1,99.4 341.2,96.9" fill="#00ffff"/>
<polygon points="346.2,98 348.1,100.5 346.2,103 344.3,100.5" fill="#00ffff"/>
<polygon points="349.4,101.7 351.3,104.2 349.4,106.7 347.5,104.2" fill="#00ffff"/>
<polygon points="352.5,105.3 354.4,107.8 352.5,110.3 350.6,107.8" fill="#00ffff"/>
<polygon points="355.6,109 357.5,111.5 355.6,114 353.7,111.5" fill="#00ffff"/>
<polygon points="358.7,112.6 360.6,115.1 358.7,117.6 356.8,115.1" fill="#00ffff"/>
<polygon points="361.8,116.3 363.7,118.8 361.8,121.3 359.9,118.8" fill="#00ffff"/>
<polygon points="365,119.9 366.9,122.4 365,124.9 363.1,122.4" fill="#00ffff"/>
<polygon points="368.1,123.6 370,126.1 368.1,128.6 366.2,126.1" fill="#00ffff"/>
<polygon points="371.2,127.2 373.1,129.7 371.2,132.2 369.3,129.7" fill="#00ffff"/>
<polygon points="374.3,130.9 376.2,133.4 374.3,135.9 372.4,133.4" fill="#00ffff"/>
<polygon points="377.4,134.5 379.3,137 377.4,139.5 375.5,137" fill="#00ffff"/>
<path d="M268.1 15.5L362.1 136.9" stroke="#ff0000" stroke-width="1.3" fill="none" stroke-linejoin="round"/>
<polygon points="270.4,15.5 266.3,13.2 266.3,17.8" fill="#ff0000"/>
<polygon points="273.7,19.7 269.6,17.4 269.6,22" fill="#ff0000"/>
<polygon points="276.8,23.8 272.7,21.5 272.7,26.1" fill="#ff0000"/>
<polygon points="279.9,27.8 275.8,25.5 275.8,30.1" fill="#ff0000"/>
<polygon points="283,31.8 278.9,29.5 278.9,34.1" fill="#ff0000"/>
<polygon points="286.2,35.9 282.1,33.6 282.1,38.2" fill="#ff0000"/>
<polygon points="289.3,39.9 285.2,37.6 285.2,42.2" fill="#ff0000"/>
<polygon points="292.4,43.9 288.3,41.6 288.3,46.2" fill="#ff0000"/>
<polygon points="295.5,47.9 291.4,45.6 291.4,50.2" fill="#ff0000"/>
<polygon points="298.6,52 294.5,49.7 294.5,54.3" fill="#ff0000"/>
<polygon points="301.8,56 297.7,53.7 297.7,58.3" fill="#ff0000"/>
<polygon points="304.9,60 300.8,57.7 300.8,62.3" fill="#ff0000"/>
<polygon points="308,64.1 303.9,61.8 303.9,66.4" fill="#ff0000"/>
<polygon points="311.1,68.1 307,65.8 307,70.4" fill="#ff0000"/>
<polygon points="314.2,72.1 310.1,69.8 310.1,74.4" fill="#ff0000"/>
<polygon points="317.4,76.1 313.3,73.8 313.3,78.4" fill="#ff0000"/>
<polygon points="320.5,80.2 316.4,77.9 316.4,82.5" fill="#ff0000"/>
<polygon points="323.6,84.2 319.5,81.9 319.5,86.5" fill="#ff0000"/>
<polygon points="326.7,88.2 322.6,85.9 322.6,90.5" fill="#ff0000"/>
<polygon points="329.8,92.3 325.7,90 325.7,94.6" fill="#ff0000"/>
<polygon points="332.9,96.3 328.8,94 328.8,98.6" fill="#ff0000"/>
<polygon points="336.1,100.3 332,98 332,102.6" fill="#ff0000"/>
<polygon points="339.2,104.3 335.1,102 335.1,106.6" fill="#ff0000"/>
<polygon points="342.3,108.4 338.2,106.1 338.2,110.7" fill="#ff0000"/>
<polygon points="345.4,112.4 341.3,110.1 341.3,114.7" fill="#ff0000"/>
<polygon points="348.5,116.4 344.4,114.1 344.4,118.7" fill="#ff0000"/>
<polygon points="351.7,120.4 347.6,118.1 347.6,122.7" fill="#ff0000"/>
<polygon points="354.8,124.5 350.7,122.2 350.7,126.8" fill="#ff0000"/>
<polygon points="357.9,128.5 353.8,126.2 353.8,130.8" fill="#ff0000"/>
<polygon points="361,132.5 356.9,130.2 356.9,134.8" fill="#ff0000"/>
<polygon points="364.1,136.6 360,134.3 360,138.9" fill="#ff0000"/>
</g>
<rect x="387.4" y="19.3" width="32.9" height="30.9" fill="#fff" stroke="#aaa" stroke-width="0.7"/>
<path d="M388.7 22.8H403.2" stroke="#00ff00" stroke-width="1"/>
<polygon points="396,20 398.1,22.8 396,25.6 393.8,22.8" fill="#00ff00"/>
<text transform="translate(404.6 24.3) scale(0.1)" text-anchor="start" font-size="42" fill="#3c3c3c" stroke="#3c3c3c" stroke-width="1">DBO</text>
<path d="M388.7 28.7H403.2" stroke="#000000" stroke-width="1"/>
<circle cx="396" cy="28.7" r="1.9" fill="#000000"/>
<text transform="translate(404.6 30.2) scale(0.1)" text-anchor="start" font-size="42" fill="#3c3c3c" stroke="#3c3c3c" stroke-width="1">IDBO-1</text>
<path d="M388.7 34.6H403.2" stroke="#0000ff" stroke-width="1"/>
<polygon points="396,31.4 396.8,33.4 398.9,33.6 397.3,35 397.8,37.1 396,36 394.1,37.1 394.6,35 393,33.6 395.1,33.4" fill="#0000ff"/>
<text transform="translate(404.6 36.1) scale(0.1)" text-anchor="start" font-size="42" fill="#3c3c3c" stroke="#3c3c3c" stroke-width="1">IDBO-2</text>
<path d="M388.7 40.5H403.2" stroke="#00ffff" stroke-width="1"/>
<polygon points="396,37.7 398.1,40.5 396,43.3 393.8,40.5" fill="#00ffff"/>
<text transform="translate(404.6 42) scale(0.1)" text-anchor="start" font-size="42" fill="#3c3c3c" stroke="#3c3c3c" stroke-width="1">IDBO-3</text>
<path d="M388.7 46.4H403.2" stroke="#ff0000" stroke-width="1"/>
<polygon points="398.5,46.4 393.9,43.8 393.9,48.9" fill="#ff0000"/>
<text transform="translate(404.6 47.9) scale(0.1)" text-anchor="start" font-size="42" fill="#3c3c3c" stroke="#3c3c3c" stroke-width="1">IDBO</text>
</g>
<g>
<clipPath id="cF3"><rect x="492.5" y="12.4" width="161.9" height="128.5"/></clipPath>
<rect x="495.5" y="15.4" width="155.9" height="122.5" fill="none" stroke="#b0b0b0" stroke-width="0.95"/>
<path d="M495.5 137.9v-1.5M495.5 15.4v1.5M511.1 137.9v-1.5M511.1 15.4v1.5M526.6 137.9v-1.5M526.6 15.4v1.5M542.2 137.9v-1.5M542.2 15.4v1.5M557.8 137.9v-1.5M557.8 15.4v1.5M573.4 137.9v-1.5M573.4 15.4v1.5M589 137.9v-1.5M589 15.4v1.5M604.6 137.9v-1.5M604.6 15.4v1.5M620.2 137.9v-1.5M620.2 15.4v1.5M635.8 137.9v-1.5M635.8 15.4v1.5M651.4 137.9v-1.5M651.4 15.4v1.5M495.5 17.3h1.5M651.4 17.3h-1.5M495.5 54.7h1.5M651.4 54.7h-1.5M495.5 92.1h1.5M651.4 92.1h-1.5M495.5 129.5h1.5M651.4 129.5h-1.5M495.5 136.9h0.8M651.4 136.9h-0.8M495.5 133.2h0.8M651.4 133.2h-0.8M495.5 129.5h0.8M651.4 129.5h-0.8M495.5 125.7h0.8M651.4 125.7h-0.8M495.5 122h0.8M651.4 122h-0.8M495.5 118.2h0.8M651.4 118.2h-0.8M495.5 114.5h0.8M651.4 114.5h-0.8M495.5 110.8h0.8M651.4 110.8h-0.8M495.5 107h0.8M651.4 107h-0.8M495.5 103.3h0.8M651.4 103.3h-0.8M495.5 99.5h0.8M651.4 99.5h-0.8M495.5 95.8h0.8M651.4 95.8h-0.8M495.5 92.1h0.8M651.4 92.1h-0.8M495.5 88.3h0.8M651.4 88.3h-0.8M495.5 84.6h0.8M651.4 84.6h-0.8M495.5 80.9h0.8M651.4 80.9h-0.8M495.5 77.1h0.8M651.4 77.1h-0.8M495.5 73.4h0.8M651.4 73.4h-0.8M495.5 69.6h0.8M651.4 69.6h-0.8M495.5 65.9h0.8M651.4 65.9h-0.8M495.5 62.2h0.8M651.4 62.2h-0.8M495.5 58.4h0.8M651.4 58.4h-0.8M495.5 54.7h0.8M651.4 54.7h-0.8M495.5 50.9h0.8M651.4 50.9h-0.8M495.5 47.2h0.8M651.4 47.2h-0.8M495.5 43.5h0.8M651.4 43.5h-0.8M495.5 39.7h0.8M651.4 39.7h-0.8M495.5 36h0.8M651.4 36h-0.8M495.5 32.3h0.8M651.4 32.3h-0.8M495.5 28.5h0.8M651.4 28.5h-0.8M495.5 24.8h0.8M651.4 24.8h-0.8M495.5 21h0.8M651.4 21h-0.8M495.5 17.3h0.8M651.4 17.3h-0.8" stroke="#777" stroke-width="0.7" fill="none"/>
<text transform="translate(495.5 145.3) scale(0.1)" text-anchor="middle" font-size="50" fill="#3c3c3c" stroke="#3c3c3c" stroke-width="1">0</text>
<text transform="translate(511.1 145.3) scale(0.1)" text-anchor="middle" font-size="50" fill="#3c3c3c" stroke="#3c3c3c" stroke-width="1">50</text>
<text transform="translate(526.6 145.3) scale(0.1)" text-anchor="middle" font-size="50" fill="#3c3c3c" stroke="#3c3c3c" stroke-width="1">100</text>
<text transform="translate(542.2 145.3) scale(0.1)" text-anchor="middle" font-size="50" fill="#3c3c3c" stroke="#3c3c3c" stroke-width="1">150</text>
<text transform="translate(557.8 145.3) scale(0.1)" text-anchor="middle" font-size="50" fill="#3c3c3c" stroke="#3c3c3c" stroke-width="1">200</text>
<text transform="translate(573.4 145.3) scale(0.1)" text-anchor="middle" font-size="50" fill="#3c3c3c" stroke="#3c3c3c" stroke-width="1">250</text>
<text transform="translate(589 145.3) scale(0.1)" text-anchor="middle" font-size="50" fill="#3c3c3c" stroke="#3c3c3c" stroke-width="1">300</text>
<text transform="translate(604.6 145.3) scale(0.1)" text-anchor="middle" font-size="50" fill="#3c3c3c" stroke="#3c3c3c" stroke-width="1">350</text>
<text transform="translate(620.2 145.3) scale(0.1)" text-anchor="middle" font-size="50" fill="#3c3c3c" stroke="#3c3c3c" stroke-width="1">400</text>
<text transform="translate(635.8 145.3) scale(0.1)" text-anchor="middle" font-size="50" fill="#3c3c3c" stroke="#3c3c3c" stroke-width="1">450</text>
<text transform="translate(651.4 145.3) scale(0.1)" text-anchor="middle" font-size="50" fill="#3c3c3c" stroke="#3c3c3c" stroke-width="1">500</text>
<text transform="translate(493 20.1) scale(0.1)" text-anchor="end" font-size="50" fill="#3c3c3c" stroke="#3c3c3c" stroke-width="1">10<tspan font-size="36" dy="-24.5">0</tspan></text>
<text transform="translate(493 57.4) scale(0.1)" text-anchor="end" font-size="50" fill="#3c3c3c" stroke="#3c3c3c" stroke-width="1">10<tspan font-size="36" dy="-24.5">-100</tspan></text>
<text transform="translate(493 94.8) scale(0.1)" text-anchor="end" font-size="50" fill="#3c3c3c" stroke="#3c3c3c" stroke-width="1">10<tspan font-size="36" dy="-24.5">-200</tspan></text>
<text transform="translate(493 132.2) scale(0.1)" text-anchor="end" font-size="50" fill="#3c3c3c" stroke="#3c3c3c" stroke-width="1">10<tspan font-size="36" dy="-24.5">-300</tspan></text>
<text transform="translate(573.4 12.9) scale(0.1)" text-anchor="middle" font-size="50" fill="#222" stroke="#222" stroke-width="1" font-weight="bold">F3</text>
<text transform="translate(573.4 151.9) scale(0.1)" text-anchor="middle" font-size="51.5" fill="#3c3c3c" stroke="#3c3c3c" stroke-width="1">Iterations</text>
<text transform="translate(477.7 76.6) rotate(-90) scale(0.1)" text-anchor="middle" font-size="51.5" fill="#3c3c3c" stroke="#3c3c3c" stroke-width="1">Best score</text>
<g clip-path="url(#cF3)">
<path d="M495.6 14.5L511.1 17.8L526.9 19L535 19.9L539.7 21.9L542.6 22.9L556.1 23.4L558.4 24.3L563.1 27.2L572.9 33.1L582.1 35.8L589.3 39.4L596.5 42.3L605.1 44.7L611 46.9L620 48.5L636 50.9L651.4 51.5" stroke="#00ff00" stroke-width="1.3" fill="none" stroke-linejoin="round"/>
<polygon points="495.6,12 497.5,14.5 495.6,17 493.7,14.5" fill="#00ff00"/>
<polygon points="511.4,15.3 513.3,17.8 511.4,20.3 509.5,17.8" fill="#00ff00"/>
<polygon points="527,16.5 528.9,19 527,21.5 525.1,19" fill="#00ff00"/>
<polygon points="542.6,20.4 544.5,22.9 542.6,25.4 540.7,22.9" fill="#00ff00"/>
<polygon points="558.1,21.7 560,24.2 558.1,26.7 556.2,24.2" fill="#00ff00"/>
<polygon points="573.7,30.8 575.6,33.3 573.7,35.8 571.8,33.3" fill="#00ff00"/>
<polygon points="589.3,36.9 591.2,39.4 589.3,41.9 587.4,39.4" fill="#00ff00"/>
<polygon points="604.9,42.2 606.8,44.7 604.9,47.2 603,44.7" fill="#00ff00"/>
<polygon points="620.5,46.1 622.4,48.6 620.5,51.1 618.6,48.6" fill="#00ff00"/>
<polygon points="636.1,48.4 638,50.9 636.1,53.4 634.2,50.9" fill="#00ff00"/>
<path d="M495.6 14.5L511.7 20.2L526.9 22.3L533.9 23.1L540.9 27.2L549.1 30.1L558.4 34.8L565.4 40L573.5 44.3L589.3 48.2L595.2 52.2L605.1 55.5L620.8 60.7L636 62.3L651.4 63.1" stroke="#000000" stroke-width="1.1" fill="none" stroke-linejoin="round"/>
<rect x="494.1" y="13" width="3" height="3" fill="#000000"/>
<rect x="509.9" y="18.6" width="3" height="3" fill="#000000"/>
<rect x="525.5" y="20.8" width="3" height="3" fill="#000000"/>
<rect x="541.1" y="26.3" width="3" height="3" fill="#000000"/>
<rect x="556.6" y="33.2" width="3" height="3" fill="#000000"/>
<rect x="572.2" y="42.9" width="3" height="3" fill="#000000"/>
<rect x="587.8" y="46.7" width="3" height="3" fill="#000000"/>
<rect x="603.4" y="53.9" width="3" height="3" fill="#000000"/>
<rect x="619" y="59.1" width="3" height="3" fill="#000000"/>
<rect x="634.6" y="60.8" width="3" height="3" fill="#000000"/>
<path d="M495.6 14.5L502.3 17.3L509.9 23.7L526.9 24.6L535 27.8L545.6 30.1L556.1 33.6L565 33.8L572.9 35.1L580.8 39.7L589.3 44.3L604.4 48.2L617.6 52.8L630.7 54.8L651.4 55.7" stroke="#0000ff" stroke-width="1.3" fill="none" stroke-linejoin="round"/>
<polygon points="495.6,11.7 496.4,13.4 498.3,13.6 496.8,14.9 497.2,16.8 495.6,15.8 494,16.8 494.4,14.9 492.9,13.6 494.8,13.4" fill="#0000ff"/>
<polygon points="498.9,13.1 499.7,14.8 501.6,15 500.1,16.3 500.5,18.1 498.9,17.2 497.2,18.1 497.7,16.3 496.2,15 498.1,14.8" fill="#0000ff"/>
<polygon points="502,14.4 502.8,16.1 504.7,16.3 503.2,17.6 503.7,19.4 502,18.5 500.4,19.4 500.8,17.6 499.3,16.3 501.2,16.1" fill="#0000ff"/>
<polygon points="505.1,16.9 505.9,18.6 507.8,18.8 506.4,20.1 506.8,21.9 505.1,21 503.5,21.9 503.9,20.1 502.5,18.8 504.4,18.6" fill="#0000ff"/>
<polygon points="508.2,19.5 509,21.3 510.9,21.4 509.5,22.7 509.9,24.6 508.2,23.6 506.6,24.6 507,22.7 505.6,21.4 507.5,21.3" fill="#0000ff"/>
<polygon points="511.4,21 512.1,22.7 514,22.9 512.6,24.2 513,26 511.4,25.1 509.7,26 510.1,24.2 508.7,22.9 510.6,22.7" fill="#0000ff"/>
<polygon points="514.5,21.1 515.2,22.9 517.1,23.1 515.7,24.3 516.1,26.2 514.5,25.2 512.8,26.2 513.2,24.3 511.8,23.1 513.7,22.9" fill="#0000ff"/>
<polygon points="517.6,21.3 518.4,23.1 520.3,23.2 518.8,24.5 519.2,26.4 517.6,25.4 516,26.4 516.4,24.5 514.9,23.2 516.8,23.1" fill="#0000ff"/>
<polygon points="520.7,21.5 521.5,23.2 523.4,23.4 522,24.7 522.4,26.5 520.7,25.6 519.1,26.5 519.5,24.7 518.1,23.4 520,23.2" fill="#0000ff"/>
<polygon points="523.8,21.6 524.6,23.4 526.5,23.6 525.1,24.8 525.5,26.7 523.8,25.7 522.2,26.7 522.6,24.8 521.2,23.6 523.1,23.4" fill="#0000ff"/>
<polygon points="527,21.8 527.7,23.6 529.6,23.8 528.2,25 528.6,26.9 527,25.9 525.3,26.9 525.7,25 524.3,23.8 526.2,23.6" fill="#0000ff"/>
<polygon points="530.1,23.1 530.8,24.8 532.7,25 531.3,26.3 531.7,28.1 530.1,27.2 528.4,28.1 528.8,26.3 527.4,25 529.3,24.8" fill="#0000ff"/>
<polygon points="533.2,24.3 534,26 535.9,26.2 534.4,27.5 534.8,29.4 533.2,28.4 531.6,29.4 532,27.5 530.5,26.2 532.4,26" fill="#0000ff"/>
<polygon points="536.3,25.3 537.1,27 539,27.2 537.6,28.5 538,30.4 536.3,29.4 534.7,30.4 535.1,28.5 533.7,27.2 535.6,27" fill="#0000ff"/>
<polygon points="539.4,26 540.2,27.7 542.1,27.9 540.7,29.2 541.1,31 539.4,30.1 537.8,31 538.2,29.2 536.8,27.9 538.7,27.7" fill="#0000ff"/>
<polygon points="542.6,26.6 543.3,28.4 545.2,28.6 543.8,29.8 544.2,31.7 542.6,30.7 540.9,31.7 541.3,29.8 539.9,28.6 541.8,28.4" fill="#0000ff"/>
<polygon points="545.7,27.3 546.4,29.1 548.3,29.3 546.9,30.5 547.3,32.4 545.7,31.4 544,32.4 544.4,30.5 543,29.3 544.9,29.1" fill="#0000ff"/>
<polygon points="548.8,28.4 549.6,30.1 551.5,30.3 550,31.6 550.4,33.4 548.8,32.5 547.1,33.4 547.6,31.6 546.1,30.3 548,30.1" fill="#0000ff"/>
<polygon points="551.9,29.4 552.7,31.2 554.6,31.3 553.1,32.6 553.6,34.5 551.9,33.5 550.3,34.5 550.7,32.6 549.2,31.3 551.1,31.2" fill="#0000ff"/>
<polygon points="555,30.4 555.8,32.2 557.7,32.4 556.3,33.6 556.7,35.5 555,34.5 553.4,35.5 553.8,33.6 552.4,32.4 554.3,32.2" fill="#0000ff"/>
<polygon points="558.1,30.8 558.9,32.6 560.8,32.8 559.4,34 559.8,35.9 558.1,34.9 556.5,35.9 556.9,34 555.5,32.8 557.4,32.6" fill="#0000ff"/>
<polygon points="561.3,30.9 562,32.7 563.9,32.9 562.5,34.1 562.9,36 561.3,35 559.6,36 560,34.1 558.6,32.9 560.5,32.7" fill="#0000ff"/>
<polygon points="564.4,31 565.1,32.7 567,32.9 565.6,34.2 566,36.1 564.4,35.1 562.7,36.1 563.1,34.2 561.7,32.9 563.6,32.7" fill="#0000ff"/>
<polygon points="567.5,31.4 568.3,33.2 570.2,33.3 568.7,34.6 569.2,36.5 567.5,35.5 565.9,36.5 566.3,34.6 564.8,33.3 566.7,33.2" fill="#0000ff"/>
<polygon points="570.6,31.9 571.4,33.7 573.3,33.9 571.9,35.1 572.3,37 570.6,36 569,37 569.4,35.1 568,33.9 569.9,33.7" fill="#0000ff"/>
<polygon points="573.7,32.8 574.5,34.5 576.4,34.7 575,36 575.4,37.9 573.7,36.9 572.1,37.9 572.5,36 571.1,34.7 573,34.5" fill="#0000ff"/>
<polygon points="576.9,34.6 577.6,36.4 579.5,36.5 578.1,37.8 578.5,39.7 576.9,38.7 575.2,39.7 575.6,37.8 574.2,36.5 576.1,36.4" fill="#0000ff"/>
<polygon points="580,36.4 580.7,38.2 582.6,38.4 581.2,39.6 581.6,41.5 580,40.5 578.3,41.5 578.7,39.6 577.3,38.4 579.2,38.2" fill="#0000ff"/>
<polygon points="583.1,38.1 583.9,39.9 585.8,40.1 584.3,41.3 584.7,43.2 583.1,42.2 581.5,43.2 581.9,41.3 580.4,40.1 582.3,39.9" fill="#0000ff"/>
<polygon points="586.2,39.8 587,41.6 588.9,41.8 587.5,43 587.9,44.9 586.2,43.9 584.6,44.9 585,43 583.6,41.8 585.5,41.6" fill="#0000ff"/>
<polygon points="589.3,41.5 590.1,43.3 592,43.4 590.6,44.7 591,46.6 589.3,45.6 587.7,46.6 588.1,44.7 586.7,43.4 588.6,43.3" fill="#0000ff"/>
<polygon points="592.5,42.3 593.2,44.1 595.1,44.2 593.7,45.5 594.1,47.4 592.5,46.4 590.8,47.4 591.2,45.5 589.8,44.2 591.7,44.1" fill="#0000ff"/>
<polygon points="595.6,43.1 596.3,44.9 598.2,45.1 596.8,46.3 597.2,48.2 595.6,47.2 593.9,48.2 594.3,46.3 592.9,45.1 594.8,44.9" fill="#0000ff"/>
<polygon points="598.7,43.9 599.5,45.7 601.4,45.9 599.9,47.1 600.3,49 598.7,48 597,49 597.5,47.1 596,45.9 597.9,45.7" fill="#0000ff"/>
<polygon points="601.8,44.7 602.6,46.5 604.5,46.7 603,47.9 603.5,49.8 601.8,48.8 600.2,49.8 600.6,47.9 599.1,46.7 601,46.5" fill="#0000ff"/>
<polygon points="604.9,45.6 605.7,47.3 607.6,47.5 606.2,48.8 606.6,50.6 604.9,49.7 603.3,50.6 603.7,48.8 602.3,47.5 604.2,47.3" fill="#0000ff"/>
<polygon points="608,46.7 608.8,48.4 610.7,48.6 609.3,49.9 609.7,51.7 608,50.8 606.4,51.7 606.8,49.9 605.4,48.6 607.3,48.4" fill="#0000ff"/>
<polygon points="611.2,47.8 611.9,49.5 613.8,49.7 612.4,51 612.8,52.8 611.2,51.9 609.5,52.8 609.9,51 608.5,49.7 610.4,49.5" fill="#0000ff"/>
<polygon points="614.3,48.8 615.1,50.6 616.9,50.8 615.5,52 615.9,53.9 614.3,52.9 612.6,53.9 613,52 611.6,50.8 613.5,50.6" fill="#0000ff"/>
<polygon points="617.4,49.9 618.2,51.7 620.1,51.9 618.6,53.1 619.1,55 617.4,54 615.8,55 616.2,53.1 614.7,51.9 616.6,51.7" fill="#0000ff"/>
<polygon points="620.5,50.4 621.3,52.2 623.2,52.4 621.8,53.6 622.2,55.5 620.5,54.5 618.9,55.5 619.3,53.6 617.9,52.4 619.8,52.2" fill="#0000ff"/>
<polygon points="623.6,50.9 624.4,52.7 626.3,52.9 624.9,54.1 625.3,56 623.6,55 622,56 622.4,54.1 621,52.9 622.9,52.7" fill="#0000ff"/>
<polygon points="626.8,51.4 627.5,53.1 629.4,53.3 628,54.6 628.4,56.5 626.8,55.5 625.1,56.5 625.5,54.6 624.1,53.3 626,53.1" fill="#0000ff"/>
<polygon points="629.9,51.9 630.6,53.6 632.5,53.8 631.1,55.1 631.5,56.9 629.9,56 628.2,56.9 628.6,55.1 627.2,53.8 629.1,53.6" fill="#0000ff"/>
<polygon points="633,52.1 633.8,53.8 635.7,54 634.2,55.3 634.6,57.2 633,56.2 631.4,57.2 631.8,55.3 630.3,54 632.2,53.8" fill="#0000ff"/>
<polygon points="636.1,52.2 636.9,54 638.8,54.2 637.4,55.4 637.8,57.3 636.1,56.3 634.5,57.3 634.9,55.4 633.5,54.2 635.4,54" fill="#0000ff"/>
<polygon points="639.2,52.4 640,54.1 641.9,54.3 640.5,55.6 640.9,57.4 639.2,56.5 637.6,57.4 638,55.6 636.6,54.3 638.5,54.1" fill="#0000ff"/>
<polygon points="642.4,52.5 643.1,54.3 645,54.4 643.6,55.7 644,57.6 642.4,56.6 640.7,57.6 641.1,55.7 639.7,54.4 641.6,54.3" fill="#0000ff"/>
<polygon points="645.5,52.6 646.2,54.4 648.1,54.6 646.7,55.8 647.1,57.7 645.5,56.7 643.8,57.7 644.2,55.8 642.8,54.6 644.7,54.4" fill="#0000ff"/>
<polygon points="648.6,52.8 649.4,54.5 651.3,54.7 649.8,56 650.2,57.8 648.6,56.9 646.9,57.8 647.4,56 645.9,54.7 647.8,54.5" fill="#0000ff"/>
<path d="M495.6 16L501.2 30L507 44L536.4 99.5L555.6 135.5" stroke="#00ffff" stroke-width="1.3" fill="none" stroke-linejoin="round"/>
<polygon points="495.6,13.5 497.5,16 495.6,18.5 493.7,16" fill="#00ffff"/>
<polygon points="498.9,21.7 500.8,24.2 498.9,26.7 497,24.2" fill="#00ffff"/>
<polygon points="502,29.5 503.9,32 502,34.5 500.1,32" fill="#00ffff"/>
<polygon points="505.1,37 507,39.5 505.1,42 503.2,39.5" fill="#00ffff"/>
<polygon points="508.2,43.9 510.1,46.4 508.2,48.9 506.3,46.4" fill="#00ffff"/>
<polygon points="511.4,49.7 513.3,52.2 511.4,54.7 509.5,52.2" fill="#00ffff"/>
<polygon points="514.5,55.6 516.4,58.1 514.5,60.6 512.6,58.1" fill="#00ffff"/>
<polygon points="517.6,61.5 519.5,64 517.6,66.5 515.7,64" fill="#00ffff"/>
<polygon points="520.7,67.4 522.6,69.9 520.7,72.4 518.8,69.9" fill="#00ffff"/>
<polygon points="523.8,73.3 525.7,75.8 523.8,78.3 521.9,75.8" fill="#00ffff"/>
<polygon points="527,79.2 528.9,81.7 527,84.2 525.1,81.7" fill="#00ffff"/>
<polygon points="530.1,85.1 532,87.6 530.1,90.1 528.2,87.6" fill="#00ffff"/>
<polygon points="533.2,91 535.1,93.5 533.2,96 531.3,93.5" fill="#00ffff"/>
<polygon points="536.3,96.8 538.2,99.3 536.3,101.8 534.4,99.3" fill="#00ffff"/>
<polygon points="539.4,102.7 541.3,105.2 539.4,107.7 537.5,105.2" fill="#00ffff"/>
<polygon points="542.6,108.5 544.5,111 542.6,113.5 540.7,111" fill="#00ffff"/>
<polygon points="545.7,114.4 547.6,116.9 545.7,119.4 543.8,116.9" fill="#00ffff"/>
<polygon points="548.8,120.2 550.7,122.7 548.8,125.2 546.9,122.7" fill="#00ffff"/>
<polygon points="551.9,126.1 553.8,128.6 551.9,131.1 550,128.6" fill="#00ffff"/>
<polygon points="555,131.9 556.9,134.4 555,136.9 553.1,134.4" fill="#00ffff"/>
<path d="M495.6 16L499 22.8L502.5 26.9L505.7 32L508.5 40.5L511.5 49.8L532.9 98.6L548.4 135.8" stroke="#ff0000" stroke-width="1.3" fill="none" stroke-linejoin="round"/>
<polygon points="497.9,16 493.8,13.7 493.8,18.3" fill="#ff0000"/>
<polygon points="501.2,22.6 497.1,20.3 497.1,24.9" fill="#ff0000"/>
<polygon points="504.3,26.3 500.2,24 500.2,28.6" fill="#ff0000"/>
<polygon points="507.4,31.1 503.3,28.8 503.3,33.4" fill="#ff0000"/>
<polygon points="510.5,39.7 506.4,37.4 506.4,42" fill="#ff0000"/>
<polygon points="513.7,49.4 509.6,47.1 509.6,51.7" fill="#ff0000"/>
<polygon points="516.8,56.6 512.7,54.3 512.7,58.9" fill="#ff0000"/>
<polygon points="519.9,63.7 515.8,61.4 515.8,66" fill="#ff0000"/>
<polygon points="523,70.8 518.9,68.5 518.9,73.1" fill="#ff0000"/>
<polygon points="526.1,77.9 522,75.6 522,80.2" fill="#ff0000"/>
<polygon points="529.3,85.1 525.2,82.8 525.2,87.4" fill="#ff0000"/>
<polygon points="532.4,92.2 528.3,89.9 528.3,94.5" fill="#ff0000"/>
<polygon points="535.5,99.3 531.4,97 531.4,101.6" fill="#ff0000"/>
<polygon points="538.6,106.8 534.5,104.5 534.5,109.1" fill="#ff0000"/>
<polygon points="541.7,114.3 537.6,112 537.6,116.6" fill="#ff0000"/>
<polygon points="544.9,121.8 540.8,119.5 540.8,124.1" fill="#ff0000"/>
<polygon points="548,129.3 543.9,127 543.9,131.6" fill="#ff0000"/>
</g>
<rect x="614.9" y="19.3" width="32.9" height="30.9" fill="#fff" stroke="#aaa" stroke-width="0.7"/>
<path d="M616.2 22.8H630.7" stroke="#00ff00" stroke-width="1"/>
<polygon points="623.5,20 625.6,22.8 623.5,25.6 621.3,22.8" fill="#00ff00"/>
<text transform="translate(632.1 24.3) scale(0.1)" text-anchor="start" font-size="42" fill="#3c3c3c" stroke="#3c3c3c" stroke-width="1">DBO</text>
<path d="M616.2 28.7H630.7" stroke="#000000" stroke-width="1"/>
<rect x="621.8" y="27" width="3.4" height="3.4" fill="#000000"/>
<text transform="translate(632.1 30.2) scale(0.1)" text-anchor="start" font-size="42" fill="#3c3c3c" stroke="#3c3c3c" stroke-width="1">IDBO-1</text>
<path d="M616.2 34.6H630.7" stroke="#0000ff" stroke-width="1"/>
<polygon points="623.5,31.4 624.3,33.4 626.4,33.6 624.8,35 625.3,37.1 623.5,36 621.6,37.1 622.1,35 620.5,33.6 622.6,33.4" fill="#0000ff"/>
<text transform="translate(632.1 36.1) scale(0.1)" text-anchor="start" font-size="42" fill="#3c3c3c" stroke="#3c3c3c" stroke-width="1">IDBO-2</text>
<path d="M616.2 40.5H630.7" stroke="#00ffff" stroke-width="1"/>
<polygon points="623.5,37.7 625.6,40.5 623.5,43.3 621.3,40.5" fill="#00ffff"/>
<text transform="translate(632.1 42) scale(0.1)" text-anchor="start" font-size="42" fill="#3c3c3c" stroke="#3c3c3c" stroke-width="1">IDBO-3</text>
<path d="M616.2 46.4H630.7" stroke="#ff0000" stroke-width="1"/>
<polygon points="626,46.4 621.4,43.8 621.4,48.9" fill="#ff0000"/>
<text transform="translate(632.1 47.9) scale(0.1)" text-anchor="start" font-size="42" fill="#3c3c3c" stroke="#3c3c3c" stroke-width="1">IDBO</text>
</g>
<g>
<clipPath id="cF4"><rect x="37.5" y="169.5" width="161.9" height="128.5"/></clipPath>
<rect x="40.5" y="172.5" width="155.9" height="122.5" fill="none" stroke="#b0b0b0" stroke-width="0.95"/>
<path d="M40.5 295v-1.5M40.5 172.5v1.5M56.1 295v-1.5M56.1 172.5v1.5M71.6 295v-1.5M71.6 172.5v1.5M87.2 295v-1.5M87.2 172.5v1.5M102.8 295v-1.5M102.8 172.5v1.5M118.4 295v-1.5M118.4 172.5v1.5M134 295v-1.5M134 172.5v1.5M149.6 295v-1.5M149.6 172.5v1.5M165.2 295v-1.5M165.2 172.5v1.5M180.8 295v-1.5M180.8 172.5v1.5M196.4 295v-1.5M196.4 172.5v1.5M40.5 174.5h1.5M196.4 174.5h-1.5M40.5 211.9h1.5M196.4 211.9h-1.5M40.5 249.2h1.5M196.4 249.2h-1.5M40.5 286.6h1.5M196.4 286.6h-1.5M40.5 294.1h0.8M196.4 294.1h-0.8M40.5 290.4h0.8M196.4 290.4h-0.8M40.5 286.6h0.8M196.4 286.6h-0.8M40.5 282.9h0.8M196.4 282.9h-0.8M40.5 279.1h0.8M196.4 279.1h-0.8M40.5 275.4h0.8M196.4 275.4h-0.8M40.5 271.7h0.8M196.4 271.7h-0.8M40.5 267.9h0.8M196.4 267.9h-0.8M40.5 264.2h0.8M196.4 264.2h-0.8M40.5 260.5h0.8M196.4 260.5h-0.8M40.5 256.7h0.8M196.4 256.7h-0.8M40.5 253h0.8M196.4 253h-0.8M40.5 249.2h0.8M196.4 249.2h-0.8M40.5 245.5h0.8M196.4 245.5h-0.8M40.5 241.8h0.8M196.4 241.8h-0.8M40.5 238h0.8M196.4 238h-0.8M40.5 234.3h0.8M196.4 234.3h-0.8M40.5 230.5h0.8M196.4 230.5h-0.8M40.5 226.8h0.8M196.4 226.8h-0.8M40.5 223.1h0.8M196.4 223.1h-0.8M40.5 219.3h0.8M196.4 219.3h-0.8M40.5 215.6h0.8M196.4 215.6h-0.8M40.5 211.9h0.8M196.4 211.9h-0.8M40.5 208.1h0.8M196.4 208.1h-0.8M40.5 204.4h0.8M196.4 204.4h-0.8M40.5 200.6h0.8M196.4 200.6h-0.8M40.5 196.9h0.8M196.4 196.9h-0.8M40.5 193.2h0.8M196.4 193.2h-0.8M40.5 189.4h0.8M196.4 189.4h-0.8M40.5 185.7h0.8M196.4 185.7h-0.8M40.5 181.9h0.8M196.4 181.9h-0.8M40.5 178.2h0.8M196.4 178.2h-0.8M40.5 174.5h0.8M196.4 174.5h-0.8" stroke="#777" stroke-width="0.7" fill="none"/>
<text transform="translate(40.5 302.4) scale(0.1)" text-anchor="middle" font-size="50" fill="#3c3c3c" stroke="#3c3c3c" stroke-width="1">0</text>
<text transform="translate(56.1 302.4) scale(0.1)" text-anchor="middle" font-size="50" fill="#3c3c3c" stroke="#3c3c3c" stroke-width="1">50</text>
<text transform="translate(71.6 302.4) scale(0.1)" text-anchor="middle" font-size="50" fill="#3c3c3c" stroke="#3c3c3c" stroke-width="1">100</text>
<text transform="translate(87.2 302.4) scale(0.1)" text-anchor="middle" font-size="50" fill="#3c3c3c" stroke="#3c3c3c" stroke-width="1">150</text>
<text transform="translate(102.8 302.4) scale(0.1)" text-anchor="middle" font-size="50" fill="#3c3c3c" stroke="#3c3c3c" stroke-width="1">200</text>
<text transform="translate(118.4 302.4) scale(0.1)" text-anchor="middle" font-size="50" fill="#3c3c3c" stroke="#3c3c3c" stroke-width="1">250</text>
<text transform="translate(134 302.4) scale(0.1)" text-anchor="middle" font-size="50" fill="#3c3c3c" stroke="#3c3c3c" stroke-width="1">300</text>
<text transform="translate(149.6 302.4) scale(0.1)" text-anchor="middle" font-size="50" fill="#3c3c3c" stroke="#3c3c3c" stroke-width="1">350</text>
<text transform="translate(165.2 302.4) scale(0.1)" text-anchor="middle" font-size="50" fill="#3c3c3c" stroke="#3c3c3c" stroke-width="1">400</text>
<text transform="translate(180.8 302.4) scale(0.1)" text-anchor="middle" font-size="50" fill="#3c3c3c" stroke="#3c3c3c" stroke-width="1">450</text>
<text transform="translate(196.4 302.4) scale(0.1)" text-anchor="middle" font-size="50" fill="#3c3c3c" stroke="#3c3c3c" stroke-width="1">500</text>
<text transform="translate(38 177.2) scale(0.1)" text-anchor="end" font-size="50" fill="#3c3c3c" stroke="#3c3c3c" stroke-width="1">10<tspan font-size="36" dy="-24.5">0</tspan></text>
<text transform="translate(38 214.6) scale(0.1)" text-anchor="end" font-size="50" fill="#3c3c3c" stroke="#3c3c3c" stroke-width="1">10<tspan font-size="36" dy="-24.5">-100</tspan></text>
<text transform="translate(38 252) scale(0.1)" text-anchor="end" font-size="50" fill="#3c3c3c" stroke="#3c3c3c" stroke-width="1">10<tspan font-size="36" dy="-24.5">-200</tspan></text>
<text transform="translate(38 289.4) scale(0.1)" text-anchor="end" font-size="50" fill="#3c3c3c" stroke="#3c3c3c" stroke-width="1">10<tspan font-size="36" dy="-24.5">-300</tspan></text>
<text transform="translate(118.4 170) scale(0.1)" text-anchor="middle" font-size="50" fill="#222" stroke="#222" stroke-width="1" font-weight="bold">F4</text>
<text transform="translate(118.4 309) scale(0.1)" text-anchor="middle" font-size="51.5" fill="#3c3c3c" stroke="#3c3c3c" stroke-width="1">Iterations</text>
<text transform="translate(22.7 233.8) rotate(-90) scale(0.1)" text-anchor="middle" font-size="51.5" fill="#3c3c3c" stroke="#3c3c3c" stroke-width="1">Best score</text>
<g clip-path="url(#cF4)">
<path d="M40.6 172.1L55.5 173.3L71.9 174.4L87.6 176.2L103.4 179.7L110 181.8L118.5 183.5L134.3 187.7L150.1 191L158.6 193L196.4 194.9" stroke="#00ff00" stroke-width="1.3" fill="none" stroke-linejoin="round"/>
<polygon points="40.6,169.6 42.5,172.1 40.6,174.6 38.7,172.1" fill="#00ff00"/>
<polygon points="56.4,170.9 58.3,173.4 56.4,175.9 54.5,173.4" fill="#00ff00"/>
<polygon points="72,171.9 73.9,174.4 72,176.9 70.1,174.4" fill="#00ff00"/>
<polygon points="87.6,173.7 89.5,176.2 87.6,178.7 85.7,176.2" fill="#00ff00"/>
<polygon points="103.1,177.1 105,179.6 103.1,182.1 101.2,179.6" fill="#00ff00"/>
<polygon points="118.7,181.1 120.6,183.6 118.7,186.1 116.8,183.6" fill="#00ff00"/>
<polygon points="134.3,185.2 136.2,187.7 134.3,190.2 132.4,187.7" fill="#00ff00"/>
<polygon points="149.9,188.5 151.8,191 149.9,193.5 148,191" fill="#00ff00"/>
<polygon points="165.5,190.8 167.4,193.3 165.5,195.8 163.6,193.3" fill="#00ff00"/>
<polygon points="181.1,191.6 183,194.1 181.1,196.6 179.2,194.1" fill="#00ff00"/>
<path d="M40.6 172.1L55.5 173.3L71.9 175.5L87.6 178.3L103.4 181.8L110 183.8L118.5 185.7L134.3 188.4L150.1 191.6L196.4 195.6" stroke="#000000" stroke-width="1.1" fill="none" stroke-linejoin="round"/>
<rect x="39.1" y="170.6" width="3" height="3" fill="#000000"/>
<rect x="54.9" y="171.9" width="3" height="3" fill="#000000"/>
<rect x="70.5" y="174" width="3" height="3" fill="#000000"/>
<rect x="86.1" y="176.8" width="3" height="3" fill="#000000"/>
<rect x="101.6" y="180.2" width="3" height="3" fill="#000000"/>
<rect x="117.2" y="184.2" width="3" height="3" fill="#000000"/>
<rect x="132.8" y="186.9" width="3" height="3" fill="#000000"/>
<rect x="148.4" y="190.1" width="3" height="3" fill="#000000"/>
<rect x="164" y="191.4" width="3" height="3" fill="#000000"/>
<rect x="179.6" y="192.8" width="3" height="3" fill="#000000"/>
<path d="M40.6 172.1L57.7 173.9L77.4 177.9L87.9 180.1L94.5 185.1L106.3 187.7L116.8 189.7L125.8 191.6L141.5 195.6L158.6 198.2L196.4 200.2" stroke="#0000ff" stroke-width="1.3" fill="none" stroke-linejoin="round"/>
<polygon points="40.6,169.3 41.4,171 43.3,171.2 41.8,172.5 42.2,174.4 40.6,173.4 39,174.4 39.4,172.5 37.9,171.2 39.8,171" fill="#0000ff"/>
<polygon points="43.9,169.6 44.7,171.4 46.6,171.6 45.1,172.8 45.5,174.7 43.9,173.7 42.2,174.7 42.7,172.8 41.2,171.6 43.1,171.4" fill="#0000ff"/>
<polygon points="47,170 47.8,171.7 49.7,171.9 48.2,173.2 48.7,175 47,174.1 45.4,175 45.8,173.2 44.3,171.9 46.2,171.7" fill="#0000ff"/>
<polygon points="50.1,170.3 50.9,172.1 52.8,172.2 51.4,173.5 51.8,175.4 50.1,174.4 48.5,175.4 48.9,173.5 47.5,172.2 49.4,172.1" fill="#0000ff"/>
<polygon points="53.2,170.6 54,172.4 55.9,172.6 54.5,173.8 54.9,175.7 53.2,174.7 51.6,175.7 52,173.8 50.6,172.6 52.5,172.4" fill="#0000ff"/>
<polygon points="56.4,171 57.1,172.7 59,172.9 57.6,174.2 58,176 56.4,175.1 54.7,176 55.1,174.2 53.7,172.9 55.6,172.7" fill="#0000ff"/>
<polygon points="59.5,171.5 60.2,173.2 62.1,173.4 60.7,174.7 61.1,176.5 59.5,175.6 57.8,176.5 58.2,174.7 56.8,173.4 58.7,173.2" fill="#0000ff"/>
<polygon points="62.6,172.1 63.4,173.8 65.3,174 63.8,175.3 64.2,177.2 62.6,176.2 61,177.2 61.4,175.3 59.9,174 61.8,173.8" fill="#0000ff"/>
<polygon points="65.7,172.7 66.5,174.5 68.4,174.7 67,175.9 67.4,177.8 65.7,176.8 64.1,177.8 64.5,175.9 63.1,174.7 65,174.5" fill="#0000ff"/>
<polygon points="68.8,173.4 69.6,175.1 71.5,175.3 70.1,176.6 70.5,178.4 68.8,177.5 67.2,178.4 67.6,176.6 66.2,175.3 68.1,175.1" fill="#0000ff"/>
<polygon points="72,174 72.7,175.7 74.6,175.9 73.2,177.2 73.6,179.1 72,178.1 70.3,179.1 70.7,177.2 69.3,175.9 71.2,175.7" fill="#0000ff"/>
<polygon points="75.1,174.6 75.8,176.4 77.7,176.6 76.3,177.8 76.7,179.7 75.1,178.7 73.4,179.7 73.8,177.8 72.4,176.6 74.3,176.4" fill="#0000ff"/>
<polygon points="78.2,175.3 79,177 80.9,177.2 79.4,178.5 79.8,180.3 78.2,179.4 76.6,180.3 77,178.5 75.5,177.2 77.4,177" fill="#0000ff"/>
<polygon points="81.3,175.9 82.1,177.7 84,177.9 82.6,179.1 83,181 81.3,180 79.7,181 80.1,179.1 78.7,177.9 80.6,177.7" fill="#0000ff"/>
<polygon points="84.4,176.6 85.2,178.3 87.1,178.5 85.7,179.8 86.1,181.6 84.4,180.7 82.8,181.6 83.2,179.8 81.8,178.5 83.7,178.3" fill="#0000ff"/>
<polygon points="87.6,177.2 88.3,179 90.2,179.2 88.8,180.4 89.2,182.3 87.6,181.3 85.9,182.3 86.3,180.4 84.9,179.2 86.8,179" fill="#0000ff"/>
<polygon points="90.7,179.4 91.4,181.1 93.3,181.3 91.9,182.6 92.3,184.5 90.7,183.5 89,184.5 89.4,182.6 88,181.3 89.9,181.1" fill="#0000ff"/>
<polygon points="93.8,181.8 94.6,183.5 96.5,183.7 95,185 95.4,186.8 93.8,185.9 92.1,186.8 92.6,185 91.1,183.7 93,183.5" fill="#0000ff"/>
<polygon points="96.9,182.8 97.7,184.6 99.6,184.8 98.1,186 98.6,187.9 96.9,186.9 95.3,187.9 95.7,186 94.2,184.8 96.1,184.6" fill="#0000ff"/>
<polygon points="100,183.5 100.8,185.3 102.7,185.5 101.3,186.7 101.7,188.6 100,187.6 98.4,188.6 98.8,186.7 97.4,185.5 99.3,185.3" fill="#0000ff"/>
<polygon points="103.1,184.2 103.9,186 105.8,186.1 104.4,187.4 104.8,189.3 103.1,188.3 101.5,189.3 101.9,187.4 100.5,186.1 102.4,186" fill="#0000ff"/>
<polygon points="106.3,184.9 107,186.6 108.9,186.8 107.5,188.1 107.9,190 106.3,189 104.6,190 105,188.1 103.6,186.8 105.5,186.6" fill="#0000ff"/>
<polygon points="109.4,185.5 110.1,187.2 112,187.4 110.6,188.7 111,190.6 109.4,189.6 107.7,190.6 108.1,188.7 106.7,187.4 108.6,187.2" fill="#0000ff"/>
<polygon points="112.5,186.1 113.3,187.8 115.2,188 113.7,189.3 114.2,191.1 112.5,190.2 110.9,191.1 111.3,189.3 109.8,188 111.7,187.8" fill="#0000ff"/>
<polygon points="115.6,186.7 116.4,188.4 118.3,188.6 116.9,189.9 117.3,191.7 115.6,190.8 114,191.7 114.4,189.9 113,188.6 114.9,188.4" fill="#0000ff"/>
<polygon points="118.7,187.3 119.5,189.1 121.4,189.2 120,190.5 120.4,192.4 118.7,191.4 117.1,192.4 117.5,190.5 116.1,189.2 118,189.1" fill="#0000ff"/>
<polygon points="121.9,188 122.6,189.7 124.5,189.9 123.1,191.2 123.5,193 121.9,192.1 120.2,193 120.6,191.2 119.2,189.9 121.1,189.7" fill="#0000ff"/>
<polygon points="125,188.6 125.7,190.4 127.6,190.6 126.2,191.8 126.6,193.7 125,192.7 123.3,193.7 123.7,191.8 122.3,190.6 124.2,190.4" fill="#0000ff"/>
<polygon points="128.1,189.4 128.9,191.1 130.8,191.3 129.3,192.6 129.7,194.5 128.1,193.5 126.5,194.5 126.9,192.6 125.4,191.3 127.3,191.1" fill="#0000ff"/>
<polygon points="131.2,190.2 132,191.9 133.9,192.1 132.5,193.4 132.9,195.2 131.2,194.3 129.6,195.2 130,193.4 128.6,192.1 130.5,191.9" fill="#0000ff"/>
<polygon points="134.3,191 135.1,192.7 137,192.9 135.6,194.2 136,196 134.3,195.1 132.7,196 133.1,194.2 131.7,192.9 133.6,192.7" fill="#0000ff"/>
<polygon points="137.5,191.8 138.2,193.5 140.1,193.7 138.7,195 139.1,196.8 137.5,195.9 135.8,196.8 136.2,195 134.8,193.7 136.7,193.5" fill="#0000ff"/>
<polygon points="140.6,192.6 141.3,194.3 143.2,194.5 141.8,195.8 142.2,197.6 140.6,196.7 138.9,197.6 139.3,195.8 137.9,194.5 139.8,194.3" fill="#0000ff"/>
<polygon points="143.7,193.1 144.5,194.9 146.4,195.1 144.9,196.3 145.3,198.2 143.7,197.2 142,198.2 142.5,196.3 141,195.1 142.9,194.9" fill="#0000ff"/>
<polygon points="146.8,193.6 147.6,195.4 149.5,195.5 148,196.8 148.5,198.7 146.8,197.7 145.2,198.7 145.6,196.8 144.1,195.5 146,195.4" fill="#0000ff"/>
<polygon points="149.9,194.1 150.7,195.8 152.6,196 151.2,197.3 151.6,199.1 149.9,198.2 148.3,199.1 148.7,197.3 147.3,196 149.2,195.8" fill="#0000ff"/>
<polygon points="153,194.6 153.8,196.3 155.7,196.5 154.3,197.8 154.7,199.6 153,198.7 151.4,199.6 151.8,197.8 150.4,196.5 152.3,196.3" fill="#0000ff"/>
<polygon points="156.2,195 156.9,196.8 158.8,197 157.4,198.2 157.8,200.1 156.2,199.1 154.5,200.1 154.9,198.2 153.5,197 155.4,196.8" fill="#0000ff"/>
<polygon points="159.3,195.4 160.1,197.2 161.9,197.4 160.5,198.6 160.9,200.5 159.3,199.5 157.6,200.5 158,198.6 156.6,197.4 158.5,197.2" fill="#0000ff"/>
<polygon points="162.4,195.6 163.2,197.3 165.1,197.5 163.6,198.8 164.1,200.7 162.4,199.7 160.8,200.7 161.2,198.8 159.7,197.5 161.6,197.3" fill="#0000ff"/>
<polygon points="165.5,195.8 166.3,197.5 168.2,197.7 166.8,199 167.2,200.8 165.5,199.9 163.9,200.8 164.3,199 162.9,197.7 164.8,197.5" fill="#0000ff"/>
<polygon points="168.6,195.9 169.4,197.7 171.3,197.9 169.9,199.1 170.3,201 168.6,200 167,201 167.4,199.1 166,197.9 167.9,197.7" fill="#0000ff"/>
<polygon points="171.8,196.1 172.5,197.8 174.4,198 173,199.3 173.4,201.2 171.8,200.2 170.1,201.2 170.5,199.3 169.1,198 171,197.8" fill="#0000ff"/>
<polygon points="174.9,196.3 175.6,198 177.5,198.2 176.1,199.5 176.5,201.3 174.9,200.4 173.2,201.3 173.6,199.5 172.2,198.2 174.1,198" fill="#0000ff"/>
<polygon points="178,196.4 178.8,198.2 180.7,198.4 179.2,199.6 179.6,201.5 178,200.5 176.4,201.5 176.8,199.6 175.3,198.4 177.2,198.2" fill="#0000ff"/>
<polygon points="181.1,196.6 181.9,198.3 183.8,198.5 182.4,199.8 182.8,201.7 181.1,200.7 179.5,201.7 179.9,199.8 178.5,198.5 180.4,198.3" fill="#0000ff"/>
<polygon points="184.2,196.8 185,198.5 186.9,198.7 185.5,200 185.9,201.8 184.2,200.9 182.6,201.8 183,200 181.6,198.7 183.5,198.5" fill="#0000ff"/>
<polygon points="187.4,196.9 188.1,198.7 190,198.9 188.6,200.1 189,202 187.4,201 185.7,202 186.1,200.1 184.7,198.9 186.6,198.7" fill="#0000ff"/>
<polygon points="190.5,197.1 191.2,198.8 193.1,199 191.7,200.3 192.1,202.2 190.5,201.2 188.8,202.2 189.2,200.3 187.8,199 189.7,198.8" fill="#0000ff"/>
<polygon points="193.6,197.3 194.4,199 196.3,199.2 194.8,200.5 195.2,202.3 193.6,201.4 191.9,202.3 192.4,200.5 190.9,199.2 192.8,199" fill="#0000ff"/>
<path d="M40.6 172.5L75.6 211.4L150.8 294" stroke="#00ffff" stroke-width="1.3" fill="none" stroke-linejoin="round"/>
<polygon points="40.6,170 42.5,172.5 40.6,175 38.7,172.5" fill="#00ffff"/>
<polygon points="43.9,173.7 45.8,176.2 43.9,178.7 42,176.2" fill="#00ffff"/>
<polygon points="47,177.1 48.9,179.6 47,182.1 45.1,179.6" fill="#00ffff"/>
<polygon points="50.1,180.6 52,183.1 50.1,185.6 48.2,183.1" fill="#00ffff"/>
<polygon points="53.2,184.1 55.1,186.6 53.2,189.1 51.3,186.6" fill="#00ffff"/>
<polygon points="56.4,187.5 58.3,190 56.4,192.5 54.5,190" fill="#00ffff"/>
<polygon points="59.5,191 61.4,193.5 59.5,196 57.6,193.5" fill="#00ffff"/>
<polygon points="62.6,194.5 64.5,197 62.6,199.5 60.7,197" fill="#00ffff"/>
<polygon points="65.7,197.9 67.6,200.4 65.7,202.9 63.8,200.4" fill="#00ffff"/>
<polygon points="68.8,201.4 70.7,203.9 68.8,206.4 66.9,203.9" fill="#00ffff"/>
<polygon points="72,204.9 73.9,207.4 72,209.9 70.1,207.4" fill="#00ffff"/>
<polygon points="75.1,208.3 77,210.8 75.1,213.3 73.2,210.8" fill="#00ffff"/>
<polygon points="78.2,211.8 80.1,214.3 78.2,216.8 76.3,214.3" fill="#00ffff"/>
<polygon points="81.3,215.2 83.2,217.7 81.3,220.2 79.4,217.7" fill="#00ffff"/>
<polygon points="84.4,218.6 86.3,221.1 84.4,223.6 82.5,221.1" fill="#00ffff"/>
<polygon points="87.6,222 89.5,224.5 87.6,227 85.7,224.5" fill="#00ffff"/>
<polygon points="90.7,225.5 92.6,228 90.7,230.5 88.8,228" fill="#00ffff"/>
<polygon points="93.8,228.9 95.7,231.4 93.8,233.9 91.9,231.4" fill="#00ffff"/>
<polygon points="96.9,232.3 98.8,234.8 96.9,237.3 95,234.8" fill="#00ffff"/>
<polygon points="100,235.7 101.9,238.2 100,240.7 98.1,238.2" fill="#00ffff"/>
<polygon points="103.1,239.2 105,241.7 103.1,244.2 101.2,241.7" fill="#00ffff"/>
<polygon points="106.3,242.6 108.2,245.1 106.3,247.6 104.4,245.1" fill="#00ffff"/>
<polygon points="109.4,246 111.3,248.5 109.4,251 107.5,248.5" fill="#00ffff"/>
<polygon points="112.5,249.4 114.4,251.9 112.5,254.4 110.6,251.9" fill="#00ffff"/>
<polygon points="115.6,252.9 117.5,255.4 115.6,257.9 113.7,255.4" fill="#00ffff"/>
<polygon points="118.7,256.3 120.6,258.8 118.7,261.3 116.8,258.8" fill="#00ffff"/>
<polygon points="121.9,259.7 123.8,262.2 121.9,264.7 120,262.2" fill="#00ffff"/>
<polygon points="125,263.1 126.9,265.6 125,268.1 123.1,265.6" fill="#00ffff"/>
<polygon points="128.1,266.6 130,269.1 128.1,271.6 126.2,269.1" fill="#00ffff"/>
<polygon points="131.2,270 133.1,272.5 131.2,275 129.3,272.5" fill="#00ffff"/>
<polygon points="134.3,273.4 136.2,275.9 134.3,278.4 132.4,275.9" fill="#00ffff"/>
<polygon points="137.5,276.8 139.4,279.3 137.5,281.8 135.6,279.3" fill="#00ffff"/>
<polygon points="140.6,280.3 142.5,282.8 140.6,285.3 138.7,282.8" fill="#00ffff"/>
<polygon points="143.7,283.7 145.6,286.2 143.7,288.7 141.8,286.2" fill="#00ffff"/>
<polygon points="146.8,287.1 148.7,289.6 146.8,292.1 144.9,289.6" fill="#00ffff"/>
<polygon points="149.9,290.5 151.8,293 149.9,295.5 148,293" fill="#00ffff"/>
<path d="M40.6 172.5L140.7 294" stroke="#ff0000" stroke-width="1.3" fill="none" stroke-linejoin="round"/>
<polygon points="42.9,172.5 38.8,170.2 38.8,174.8" fill="#ff0000"/>
<polygon points="46.2,176.5 42.1,174.2 42.1,178.8" fill="#ff0000"/>
<polygon points="49.3,180.3 45.2,178 45.2,182.6" fill="#ff0000"/>
<polygon points="52.4,184.1 48.3,181.8 48.3,186.4" fill="#ff0000"/>
<polygon points="55.5,187.9 51.4,185.6 51.4,190.2" fill="#ff0000"/>
<polygon points="58.7,191.6 54.6,189.3 54.6,193.9" fill="#ff0000"/>
<polygon points="61.8,195.4 57.7,193.1 57.7,197.7" fill="#ff0000"/>
<polygon points="64.9,199.2 60.8,196.9 60.8,201.5" fill="#ff0000"/>
<polygon points="68,203 63.9,200.7 63.9,205.3" fill="#ff0000"/>
<polygon points="71.1,206.8 67,204.5 67,209.1" fill="#ff0000"/>
<polygon points="74.3,210.6 70.2,208.3 70.2,212.9" fill="#ff0000"/>
<polygon points="77.4,214.3 73.3,212 73.3,216.6" fill="#ff0000"/>
<polygon points="80.5,218.1 76.4,215.8 76.4,220.4" fill="#ff0000"/>
<polygon points="83.6,221.9 79.5,219.6 79.5,224.2" fill="#ff0000"/>
<polygon points="86.7,225.7 82.6,223.4 82.6,228" fill="#ff0000"/>
<polygon points="89.9,229.5 85.8,227.2 85.8,231.8" fill="#ff0000"/>
<polygon points="93,233.3 88.9,231 88.9,235.6" fill="#ff0000"/>
<polygon points="96.1,237.1 92,234.8 92,239.4" fill="#ff0000"/>
<polygon points="99.2,240.8 95.1,238.5 95.1,243.1" fill="#ff0000"/>
<polygon points="102.3,244.6 98.2,242.3 98.2,246.9" fill="#ff0000"/>
<polygon points="105.4,248.4 101.3,246.1 101.3,250.7" fill="#ff0000"/>
<polygon points="108.6,252.2 104.5,249.9 104.5,254.5" fill="#ff0000"/>
<polygon points="111.7,256 107.6,253.7 107.6,258.3" fill="#ff0000"/>
<polygon points="114.8,259.8 110.7,257.5 110.7,262.1" fill="#ff0000"/>
<polygon points="117.9,263.6 113.8,261.3 113.8,265.9" fill="#ff0000"/>
<polygon points="121,267.3 116.9,265 116.9,269.6" fill="#ff0000"/>
<polygon points="124.2,271.1 120.1,268.8 120.1,273.4" fill="#ff0000"/>
<polygon points="127.3,274.9 123.2,272.6 123.2,277.2" fill="#ff0000"/>
<polygon points="130.4,278.7 126.3,276.4 126.3,281" fill="#ff0000"/>
<polygon points="133.5,282.5 129.4,280.2 129.4,284.8" fill="#ff0000"/>
<polygon points="136.6,286.3 132.5,284 132.5,288.6" fill="#ff0000"/>
<polygon points="139.8,290.1 135.7,287.8 135.7,292.4" fill="#ff0000"/>
<polygon points="142.9,293.8 138.8,291.5 138.8,296.1" fill="#ff0000"/>
</g>
<rect x="159.9" y="176.5" width="32.9" height="30.9" fill="#fff" stroke="#aaa" stroke-width="0.7"/>
<path d="M161.2 179.9H175.7" stroke="#00ff00" stroke-width="1"/>
<polygon points="168.5,177.1 170.6,179.9 168.5,182.7 166.3,179.9" fill="#00ff00"/>
<text transform="translate(177.1 181.4) scale(0.1)" text-anchor="start" font-size="42" fill="#3c3c3c" stroke="#3c3c3c" stroke-width="1">DBO</text>
<path d="M161.2 185.8H175.7" stroke="#000000" stroke-width="1"/>
<rect x="166.8" y="184.2" width="3.4" height="3.4" fill="#000000"/>
<text transform="translate(177.1 187.3) scale(0.1)" text-anchor="start" font-size="42" fill="#3c3c3c" stroke="#3c3c3c" stroke-width="1">IDBO-1</text>
<path d="M161.2 191.7H175.7" stroke="#0000ff" stroke-width="1"/>
<polygon points="168.5,188.6 169.3,190.6 171.4,190.8 169.8,192.2 170.3,194.3 168.5,193.2 166.6,194.3 167.1,192.2 165.5,190.8 167.6,190.6" fill="#0000ff"/>
<text transform="translate(177.1 193.2) scale(0.1)" text-anchor="start" font-size="42" fill="#3c3c3c" stroke="#3c3c3c" stroke-width="1">IDBO-2</text>
<path d="M161.2 197.6H175.7" stroke="#00ffff" stroke-width="1"/>
<polygon points="168.5,194.8 170.6,197.6 168.5,200.4 166.3,197.6" fill="#00ffff"/>
<text transform="translate(177.1 199.1) scale(0.1)" text-anchor="start" font-size="42" fill="#3c3c3c" stroke="#3c3c3c" stroke-width="1">IDBO-3</text>
<path d="M161.2 203.5H175.7" stroke="#ff0000" stroke-width="1"/>
<polygon points="171,203.5 166.4,201 166.4,206.1" fill="#ff0000"/>
<text transform="translate(177.1 205) scale(0.1)" text-anchor="start" font-size="42" fill="#3c3c3c" stroke="#3c3c3c" stroke-width="1">IDBO</text>
</g>
<g>
<clipPath id="cF5"><rect x="265" y="169.5" width="161.9" height="128.5"/></clipPath>
<rect x="268" y="172.5" width="155.9" height="122.5" fill="none" stroke="#b0b0b0" stroke-width="0.95"/>
<path d="M268 295v-1.5M268 172.5v1.5M283.6 295v-1.5M283.6 172.5v1.5M299.1 295v-1.5M299.1 172.5v1.5M314.7 295v-1.5M314.7 172.5v1.5M330.3 295v-1.5M330.3 172.5v1.5M345.9 295v-1.5M345.9 172.5v1.5M361.5 295v-1.5M361.5 172.5v1.5M377.1 295v-1.5M377.1 172.5v1.5M392.7 295v-1.5M392.7 172.5v1.5M408.3 295v-1.5M408.3 172.5v1.5M423.9 295v-1.5M423.9 172.5v1.5M268 172.5h1.5M423.9 172.5h-1.5M268 197h1.5M423.9 197h-1.5M268 221.5h1.5M423.9 221.5h-1.5M268 246h1.5M423.9 246h-1.5M268 270.5h1.5M423.9 270.5h-1.5M268 295h1.5M423.9 295h-1.5M268 291.4h0.8M423.9 291.4h-0.8M268 289.2h0.8M423.9 289.2h-0.8M268 287.7h0.8M423.9 287.7h-0.8M268 286.5h0.8M423.9 286.5h-0.8M268 285.5h0.8M423.9 285.5h-0.8M268 284.7h0.8M423.9 284.7h-0.8M268 284h0.8M423.9 284h-0.8M268 283.4h0.8M423.9 283.4h-0.8M268 279.1h0.8M423.9 279.1h-0.8M268 276.9h0.8M423.9 276.9h-0.8M268 275.4h0.8M423.9 275.4h-0.8M268 274.2h0.8M423.9 274.2h-0.8M268 273.3h0.8M423.9 273.3h-0.8M268 272.4h0.8M423.9 272.4h-0.8M268 271.7h0.8M423.9 271.7h-0.8M268 271.1h0.8M423.9 271.1h-0.8M268 266.9h0.8M423.9 266.9h-0.8M268 264.7h0.8M423.9 264.7h-0.8M268 263.2h0.8M423.9 263.2h-0.8M268 262h0.8M423.9 262h-0.8M268 261h0.8M423.9 261h-0.8M268 260.2h0.8M423.9 260.2h-0.8M268 259.5h0.8M423.9 259.5h-0.8M268 258.9h0.8M423.9 258.9h-0.8M268 254.6h0.8M423.9 254.6h-0.8M268 252.4h0.8M423.9 252.4h-0.8M268 250.9h0.8M423.9 250.9h-0.8M268 249.7h0.8M423.9 249.7h-0.8M268 248.8h0.8M423.9 248.8h-0.8M268 247.9h0.8M423.9 247.9h-0.8M268 247.2h0.8M423.9 247.2h-0.8M268 246.6h0.8M423.9 246.6h-0.8M268 242.4h0.8M423.9 242.4h-0.8M268 240.2h0.8M423.9 240.2h-0.8M268 238.7h0.8M423.9 238.7h-0.8M268 237.5h0.8M423.9 237.5h-0.8M268 236.5h0.8M423.9 236.5h-0.8M268 235.7h0.8M423.9 235.7h-0.8M268 235h0.8M423.9 235h-0.8M268 234.4h0.8M423.9 234.4h-0.8M268 230.1h0.8M423.9 230.1h-0.8M268 227.9h0.8M423.9 227.9h-0.8M268 226.4h0.8M423.9 226.4h-0.8M268 225.2h0.8M423.9 225.2h-0.8M268 224.3h0.8M423.9 224.3h-0.8M268 223.4h0.8M423.9 223.4h-0.8M268 222.7h0.8M423.9 222.7h-0.8M268 222.1h0.8M423.9 222.1h-0.8M268 217.9h0.8M423.9 217.9h-0.8M268 215.7h0.8M423.9 215.7h-0.8M268 214.2h0.8M423.9 214.2h-0.8M268 213h0.8M423.9 213h-0.8M268 212h0.8M423.9 212h-0.8M268 211.2h0.8M423.9 211.2h-0.8M268 210.5h0.8M423.9 210.5h-0.8M268 209.9h0.8M423.9 209.9h-0.8M268 205.6h0.8M423.9 205.6h-0.8M268 203.4h0.8M423.9 203.4h-0.8M268 201.9h0.8M423.9 201.9h-0.8M268 200.7h0.8M423.9 200.7h-0.8M268 199.8h0.8M423.9 199.8h-0.8M268 198.9h0.8M423.9 198.9h-0.8M268 198.2h0.8M423.9 198.2h-0.8M268 197.6h0.8M423.9 197.6h-0.8M268 193.4h0.8M423.9 193.4h-0.8M268 191.2h0.8M423.9 191.2h-0.8M268 189.7h0.8M423.9 189.7h-0.8M268 188.5h0.8M423.9 188.5h-0.8M268 187.5h0.8M423.9 187.5h-0.8M268 186.7h0.8M423.9 186.7h-0.8M268 186h0.8M423.9 186h-0.8M268 185.4h0.8M423.9 185.4h-0.8M268 181.1h0.8M423.9 181.1h-0.8M268 178.9h0.8M423.9 178.9h-0.8M268 177.4h0.8M423.9 177.4h-0.8M268 176.2h0.8M423.9 176.2h-0.8M268 175.3h0.8M423.9 175.3h-0.8M268 174.4h0.8M423.9 174.4h-0.8M268 173.7h0.8M423.9 173.7h-0.8M268 173.1h0.8M423.9 173.1h-0.8" stroke="#777" stroke-width="0.7" fill="none"/>
<text transform="translate(268 302.4) scale(0.1)" text-anchor="middle" font-size="50" fill="#3c3c3c" stroke="#3c3c3c" stroke-width="1">0</text>
<text transform="translate(283.6 302.4) scale(0.1)" text-anchor="middle" font-size="50" fill="#3c3c3c" stroke="#3c3c3c" stroke-width="1">50</text>
<text transform="translate(299.1 302.4) scale(0.1)" text-anchor="middle" font-size="50" fill="#3c3c3c" stroke="#3c3c3c" stroke-width="1">100</text>
<text transform="translate(314.7 302.4) scale(0.1)" text-anchor="middle" font-size="50" fill="#3c3c3c" stroke="#3c3c3c" stroke-width="1">150</text>
<text transform="translate(330.3 302.4) scale(0.1)" text-anchor="middle" font-size="50" fill="#3c3c3c" stroke="#3c3c3c" stroke-width="1">200</text>
<text transform="translate(345.9 302.4) scale(0.1)" text-anchor="middle" font-size="50" fill="#3c3c3c" stroke="#3c3c3c" stroke-width="1">250</text>
<text transform="translate(361.5 302.4) scale(0.1)" text-anchor="middle" font-size="50" fill="#3c3c3c" stroke="#3c3c3c" stroke-width="1">300</text>
<text transform="translate(377.1 302.4) scale(0.1)" text-anchor="middle" font-size="50" fill="#3c3c3c" stroke="#3c3c3c" stroke-width="1">350</text>
<text transform="translate(392.7 302.4) scale(0.1)" text-anchor="middle" font-size="50" fill="#3c3c3c" stroke="#3c3c3c" stroke-width="1">400</text>
<text transform="translate(408.3 302.4) scale(0.1)" text-anchor="middle" font-size="50" fill="#3c3c3c" stroke="#3c3c3c" stroke-width="1">450</text>
<text transform="translate(423.9 302.4) scale(0.1)" text-anchor="middle" font-size="50" fill="#3c3c3c" stroke="#3c3c3c" stroke-width="1">500</text>
<text transform="translate(265.5 175.3) scale(0.1)" text-anchor="end" font-size="50" fill="#3c3c3c" stroke="#3c3c3c" stroke-width="1">10<tspan font-size="36" dy="-24.5">10</tspan></text>
<text transform="translate(265.5 199.8) scale(0.1)" text-anchor="end" font-size="50" fill="#3c3c3c" stroke="#3c3c3c" stroke-width="1">10<tspan font-size="36" dy="-24.5">8</tspan></text>
<text transform="translate(265.5 224.3) scale(0.1)" text-anchor="end" font-size="50" fill="#3c3c3c" stroke="#3c3c3c" stroke-width="1">10<tspan font-size="36" dy="-24.5">6</tspan></text>
<text transform="translate(265.5 248.8) scale(0.1)" text-anchor="end" font-size="50" fill="#3c3c3c" stroke="#3c3c3c" stroke-width="1">10<tspan font-size="36" dy="-24.5">4</tspan></text>
<text transform="translate(265.5 273.3) scale(0.1)" text-anchor="end" font-size="50" fill="#3c3c3c" stroke="#3c3c3c" stroke-width="1">10<tspan font-size="36" dy="-24.5">2</tspan></text>
<text transform="translate(265.5 297.8) scale(0.1)" text-anchor="end" font-size="50" fill="#3c3c3c" stroke="#3c3c3c" stroke-width="1">10<tspan font-size="36" dy="-24.5">0</tspan></text>
<text transform="translate(345.9 170) scale(0.1)" text-anchor="middle" font-size="50" fill="#222" stroke="#222" stroke-width="1" font-weight="bold">F5</text>
<text transform="translate(345.9 309) scale(0.1)" text-anchor="middle" font-size="51.5" fill="#3c3c3c" stroke="#3c3c3c" stroke-width="1">Iterations</text>
<text transform="translate(253.7 233.8) rotate(-90) scale(0.1)" text-anchor="middle" font-size="51.5" fill="#3c3c3c" stroke="#3c3c3c" stroke-width="1">Best score</text>
<g clip-path="url(#cF5)">
<path d="M268.1 191L268.4 192L269.2 240L270.5 277L271.5 277.5L423.9 277.5" stroke="#00ff00" stroke-width="1.3" fill="none" stroke-linejoin="round"/>
<polygon points="268.1,188.5 270,191 268.1,193.5 266.2,191" fill="#00ff00"/>
<polygon points="283.9,275 285.8,277.5 283.9,280 282,277.5" fill="#00ff00"/>
<polygon points="299.5,275 301.4,277.5 299.5,280 297.6,277.5" fill="#00ff00"/>
<polygon points="315.1,275 317,277.5 315.1,280 313.2,277.5" fill="#00ff00"/>
<polygon points="330.6,275 332.5,277.5 330.6,280 328.7,277.5" fill="#00ff00"/>
<polygon points="346.2,275 348.1,277.5 346.2,280 344.3,277.5" fill="#00ff00"/>
<polygon points="361.8,275 363.7,277.5 361.8,280 359.9,277.5" fill="#00ff00"/>
<polygon points="377.4,275 379.3,277.5 377.4,280 375.5,277.5" fill="#00ff00"/>
<polygon points="393,275 394.9,277.5 393,280 391.1,277.5" fill="#00ff00"/>
<polygon points="408.6,275 410.5,277.5 408.6,280 406.7,277.5" fill="#00ff00"/>
<path d="M268.1 192.5L270.7 195.5L271.6 211.6L273 216.4L273 259L274.5 271.4L275.4 274.3L280.8 274.3L281.6 277.2L423.9 277.4" stroke="#000000" stroke-width="1.1" fill="none" stroke-linejoin="round"/>
<circle cx="268.1" cy="192.5" r="1.7" fill="#000000"/>
<circle cx="283.9" cy="277.2" r="1.7" fill="#000000"/>
<circle cx="299.5" cy="277.2" r="1.7" fill="#000000"/>
<circle cx="315.1" cy="277.2" r="1.7" fill="#000000"/>
<circle cx="330.6" cy="277.3" r="1.7" fill="#000000"/>
<circle cx="346.2" cy="277.3" r="1.7" fill="#000000"/>
<circle cx="361.8" cy="277.3" r="1.7" fill="#000000"/>
<circle cx="377.4" cy="277.3" r="1.7" fill="#000000"/>
<circle cx="393" cy="277.4" r="1.7" fill="#000000"/>
<circle cx="408.6" cy="277.4" r="1.7" fill="#000000"/>
<path d="M268.1 191.2L270.2 194.5L271.6 207.8L273 215.4L274.5 250.9L275.4 254.3L275.7 277L276.5 277.5L423.9 277.5" stroke="#0000ff" stroke-width="1.3" fill="none" stroke-linejoin="round"/>
<polygon points="268.1,188.4 268.9,190.1 270.8,190.3 269.3,191.6 269.7,193.5 268.1,192.5 266.5,193.5 266.9,191.6 265.4,190.3 267.3,190.1" fill="#0000ff"/>
<polygon points="271.4,203 272.2,204.8 274.1,204.9 272.6,206.2 273,208.1 271.4,207.1 269.7,208.1 270.2,206.2 268.7,204.9 270.6,204.8" fill="#0000ff"/>
<polygon points="274.5,248.1 275.3,249.9 277.2,250.1 275.7,251.3 276.2,253.2 274.5,252.2 272.9,253.2 273.3,251.3 271.8,250.1 273.7,249.9" fill="#0000ff"/>
<polygon points="277.6,274.7 278.4,276.4 280.3,276.6 278.9,277.9 279.3,279.8 277.6,278.8 276,279.8 276.4,277.9 275,276.6 276.9,276.4" fill="#0000ff"/>
<polygon points="280.7,274.7 281.5,276.4 283.4,276.6 282,277.9 282.4,279.8 280.7,278.8 279.1,279.8 279.5,277.9 278.1,276.6 280,276.4" fill="#0000ff"/>
<polygon points="283.9,274.7 284.6,276.4 286.5,276.6 285.1,277.9 285.5,279.8 283.9,278.8 282.2,279.8 282.6,277.9 281.2,276.6 283.1,276.4" fill="#0000ff"/>
<polygon points="287,274.7 287.7,276.4 289.6,276.6 288.2,277.9 288.6,279.8 287,278.8 285.3,279.8 285.7,277.9 284.3,276.6 286.2,276.4" fill="#0000ff"/>
<polygon points="290.1,274.7 290.9,276.4 292.8,276.6 291.3,277.9 291.7,279.8 290.1,278.8 288.5,279.8 288.9,277.9 287.4,276.6 289.3,276.4" fill="#0000ff"/>
<polygon points="293.2,274.7 294,276.4 295.9,276.6 294.5,277.9 294.9,279.8 293.2,278.8 291.6,279.8 292,277.9 290.6,276.6 292.5,276.4" fill="#0000ff"/>
<polygon points="296.3,274.7 297.1,276.4 299,276.6 297.6,277.9 298,279.8 296.3,278.8 294.7,279.8 295.1,277.9 293.7,276.6 295.6,276.4" fill="#0000ff"/>
<polygon points="299.5,274.7 300.2,276.4 302.1,276.6 300.7,277.9 301.1,279.8 299.5,278.8 297.8,279.8 298.2,277.9 296.8,276.6 298.7,276.4" fill="#0000ff"/>
<polygon points="302.6,274.7 303.3,276.4 305.2,276.6 303.8,277.9 304.2,279.8 302.6,278.8 300.9,279.8 301.3,277.9 299.9,276.6 301.8,276.4" fill="#0000ff"/>
<polygon points="305.7,274.7 306.5,276.4 308.4,276.6 306.9,277.9 307.3,279.8 305.7,278.8 304.1,279.8 304.5,277.9 303,276.6 304.9,276.4" fill="#0000ff"/>
<polygon points="308.8,274.7 309.6,276.4 311.5,276.6 310.1,277.9 310.5,279.8 308.8,278.8 307.2,279.8 307.6,277.9 306.2,276.6 308.1,276.4" fill="#0000ff"/>
<polygon points="311.9,274.7 312.7,276.4 314.6,276.6 313.2,277.9 313.6,279.8 311.9,278.8 310.3,279.8 310.7,277.9 309.3,276.6 311.2,276.4" fill="#0000ff"/>
<polygon points="315.1,274.7 315.8,276.4 317.7,276.6 316.3,277.9 316.7,279.8 315.1,278.8 313.4,279.8 313.8,277.9 312.4,276.6 314.3,276.4" fill="#0000ff"/>
<polygon points="318.2,274.7 318.9,276.4 320.8,276.6 319.4,277.9 319.8,279.8 318.2,278.8 316.5,279.8 316.9,277.9 315.5,276.6 317.4,276.4" fill="#0000ff"/>
<polygon points="321.3,274.7 322.1,276.4 324,276.6 322.5,277.9 322.9,279.8 321.3,278.8 319.6,279.8 320.1,277.9 318.6,276.6 320.5,276.4" fill="#0000ff"/>
<polygon points="324.4,274.7 325.2,276.4 327.1,276.6 325.6,277.9 326.1,279.8 324.4,278.8 322.8,279.8 323.2,277.9 321.7,276.6 323.6,276.4" fill="#0000ff"/>
<polygon points="327.5,274.7 328.3,276.4 330.2,276.6 328.8,277.9 329.2,279.8 327.5,278.8 325.9,279.8 326.3,277.9 324.9,276.6 326.8,276.4" fill="#0000ff"/>
<polygon points="330.6,274.7 331.4,276.4 333.3,276.6 331.9,277.9 332.3,279.8 330.6,278.8 329,279.8 329.4,277.9 328,276.6 329.9,276.4" fill="#0000ff"/>
<polygon points="333.8,274.7 334.5,276.4 336.4,276.6 335,277.9 335.4,279.8 333.8,278.8 332.1,279.8 332.5,277.9 331.1,276.6 333,276.4" fill="#0000ff"/>
<polygon points="336.9,274.7 337.6,276.4 339.5,276.6 338.1,277.9 338.5,279.8 336.9,278.8 335.2,279.8 335.6,277.9 334.2,276.6 336.1,276.4" fill="#0000ff"/>
<polygon points="340,274.7 340.8,276.4 342.7,276.6 341.2,277.9 341.7,279.8 340,278.8 338.4,279.8 338.8,277.9 337.3,276.6 339.2,276.4" fill="#0000ff"/>
<polygon points="343.1,274.7 343.9,276.4 345.8,276.6 344.4,277.9 344.8,279.8 343.1,278.8 341.5,279.8 341.9,277.9 340.5,276.6 342.4,276.4" fill="#0000ff"/>
<polygon points="346.2,274.7 347,276.4 348.9,276.6 347.5,277.9 347.9,279.8 346.2,278.8 344.6,279.8 345,277.9 343.6,276.6 345.5,276.4" fill="#0000ff"/>
<polygon points="349.4,274.7 350.1,276.4 352,276.6 350.6,277.9 351,279.8 349.4,278.8 347.7,279.8 348.1,277.9 346.7,276.6 348.6,276.4" fill="#0000ff"/>
<polygon points="352.5,274.7 353.2,276.4 355.1,276.6 353.7,277.9 354.1,279.8 352.5,278.8 350.8,279.8 351.2,277.9 349.8,276.6 351.7,276.4" fill="#0000ff"/>
<polygon points="355.6,274.7 356.4,276.4 358.3,276.6 356.8,277.9 357.2,279.8 355.6,278.8 354,279.8 354.4,277.9 352.9,276.6 354.8,276.4" fill="#0000ff"/>
<polygon points="358.7,274.7 359.5,276.4 361.4,276.6 360,277.9 360.4,279.8 358.7,278.8 357.1,279.8 357.5,277.9 356.1,276.6 358,276.4" fill="#0000ff"/>
<polygon points="361.8,274.7 362.6,276.4 364.5,276.6 363.1,277.9 363.5,279.8 361.8,278.8 360.2,279.8 360.6,277.9 359.2,276.6 361.1,276.4" fill="#0000ff"/>
<polygon points="365,274.7 365.7,276.4 367.6,276.6 366.2,277.9 366.6,279.8 365,278.8 363.3,279.8 363.7,277.9 362.3,276.6 364.2,276.4" fill="#0000ff"/>
<polygon points="368.1,274.7 368.8,276.4 370.7,276.6 369.3,277.9 369.7,279.8 368.1,278.8 366.4,279.8 366.8,277.9 365.4,276.6 367.3,276.4" fill="#0000ff"/>
<polygon points="371.2,274.7 372,276.4 373.9,276.6 372.4,277.9 372.8,279.8 371.2,278.8 369.5,279.8 370,277.9 368.5,276.6 370.4,276.4" fill="#0000ff"/>
<polygon points="374.3,274.7 375.1,276.4 377,276.6 375.5,277.9 376,279.8 374.3,278.8 372.7,279.8 373.1,277.9 371.6,276.6 373.5,276.4" fill="#0000ff"/>
<polygon points="377.4,274.7 378.2,276.4 380.1,276.6 378.7,277.9 379.1,279.8 377.4,278.8 375.8,279.8 376.2,277.9 374.8,276.6 376.7,276.4" fill="#0000ff"/>
<polygon points="380.5,274.7 381.3,276.4 383.2,276.6 381.8,277.9 382.2,279.8 380.5,278.8 378.9,279.8 379.3,277.9 377.9,276.6 379.8,276.4" fill="#0000ff"/>
<polygon points="383.7,274.7 384.4,276.4 386.3,276.6 384.9,277.9 385.3,279.8 383.7,278.8 382,279.8 382.4,277.9 381,276.6 382.9,276.4" fill="#0000ff"/>
<polygon points="386.8,274.7 387.6,276.4 389.4,276.6 388,277.9 388.4,279.8 386.8,278.8 385.1,279.8 385.5,277.9 384.1,276.6 386,276.4" fill="#0000ff"/>
<polygon points="389.9,274.7 390.7,276.4 392.6,276.6 391.1,277.9 391.6,279.8 389.9,278.8 388.3,279.8 388.7,277.9 387.2,276.6 389.1,276.4" fill="#0000ff"/>
<polygon points="393,274.7 393.8,276.4 395.7,276.6 394.3,277.9 394.7,279.8 393,278.8 391.4,279.8 391.8,277.9 390.4,276.6 392.3,276.4" fill="#0000ff"/>
<polygon points="396.1,274.7 396.9,276.4 398.8,276.6 397.4,277.9 397.8,279.8 396.1,278.8 394.5,279.8 394.9,277.9 393.5,276.6 395.4,276.4" fill="#0000ff"/>
<polygon points="399.3,274.7 400,276.4 401.9,276.6 400.5,277.9 400.9,279.8 399.3,278.8 397.6,279.8 398,277.9 396.6,276.6 398.5,276.4" fill="#0000ff"/>
<polygon points="402.4,274.7 403.1,276.4 405,276.6 403.6,277.9 404,279.8 402.4,278.8 400.7,279.8 401.1,277.9 399.7,276.6 401.6,276.4" fill="#0000ff"/>
<polygon points="405.5,274.7 406.3,276.4 408.2,276.6 406.7,277.9 407.1,279.8 405.5,278.8 403.9,279.8 404.3,277.9 402.8,276.6 404.7,276.4" fill="#0000ff"/>
<polygon points="408.6,274.7 409.4,276.4 411.3,276.6 409.9,277.9 410.3,279.8 408.6,278.8 407,279.8 407.4,277.9 406,276.6 407.9,276.4" fill="#0000ff"/>
<polygon points="411.7,274.7 412.5,276.4 414.4,276.6 413,277.9 413.4,279.8 411.7,278.8 410.1,279.8 410.5,277.9 409.1,276.6 411,276.4" fill="#0000ff"/>
<polygon points="414.9,274.7 415.6,276.4 417.5,276.6 416.1,277.9 416.5,279.8 414.9,278.8 413.2,279.8 413.6,277.9 412.2,276.6 414.1,276.4" fill="#0000ff"/>
<polygon points="418,274.7 418.7,276.4 420.6,276.6 419.2,277.9 419.6,279.8 418,278.8 416.3,279.8 416.7,277.9 415.3,276.6 417.2,276.4" fill="#0000ff"/>
<polygon points="421.1,274.7 421.9,276.4 423.8,276.6 422.3,277.9 422.7,279.8 421.1,278.8 419.4,279.8 419.9,277.9 418.4,276.6 420.3,276.4" fill="#0000ff"/>
<path d="M268.1 269L268.4 270L268.8 277.5L270 277.8L423.9 277.8" stroke="#00ffff" stroke-width="1.3" fill="none" stroke-linejoin="round"/>
<polygon points="268.1,266.5 270,269 268.1,271.5 266.2,269" fill="#00ffff"/>
<polygon points="271.4,275.3 273.3,277.8 271.4,280.3 269.5,277.8" fill="#00ffff"/>
<polygon points="274.5,275.3 276.4,277.8 274.5,280.3 272.6,277.8" fill="#00ffff"/>
<polygon points="277.6,275.3 279.5,277.8 277.6,280.3 275.7,277.8" fill="#00ffff"/>
<polygon points="280.7,275.3 282.6,277.8 280.7,280.3 278.8,277.8" fill="#00ffff"/>
<polygon points="283.9,275.3 285.8,277.8 283.9,280.3 282,277.8" fill="#00ffff"/>
<polygon points="287,275.3 288.9,277.8 287,280.3 285.1,277.8" fill="#00ffff"/>
<polygon points="290.1,275.3 292,277.8 290.1,280.3 288.2,277.8" fill="#00ffff"/>
<polygon points="293.2,275.3 295.1,277.8 293.2,280.3 291.3,277.8" fill="#00ffff"/>
<polygon points="296.3,275.3 298.2,277.8 296.3,280.3 294.4,277.8" fill="#00ffff"/>
<polygon points="299.5,275.3 301.4,277.8 299.5,280.3 297.6,277.8" fill="#00ffff"/>
<polygon points="302.6,275.3 304.5,277.8 302.6,280.3 300.7,277.8" fill="#00ffff"/>
<polygon points="305.7,275.3 307.6,277.8 305.7,280.3 303.8,277.8" fill="#00ffff"/>
<polygon points="308.8,275.3 310.7,277.8 308.8,280.3 306.9,277.8" fill="#00ffff"/>
<polygon points="311.9,275.3 313.8,277.8 311.9,280.3 310,277.8" fill="#00ffff"/>
<polygon points="315.1,275.3 317,277.8 315.1,280.3 313.2,277.8" fill="#00ffff"/>
<polygon points="318.2,275.3 320.1,277.8 318.2,280.3 316.3,277.8" fill="#00ffff"/>
<polygon points="321.3,275.3 323.2,277.8 321.3,280.3 319.4,277.8" fill="#00ffff"/>
<polygon points="324.4,275.3 326.3,277.8 324.4,280.3 322.5,277.8" fill="#00ffff"/>
<polygon points="327.5,275.3 329.4,277.8 327.5,280.3 325.6,277.8" fill="#00ffff"/>
<polygon points="330.6,275.3 332.5,277.8 330.6,280.3 328.7,277.8" fill="#00ffff"/>
<polygon points="333.8,275.3 335.7,277.8 333.8,280.3 331.9,277.8" fill="#00ffff"/>
<polygon points="336.9,275.3 338.8,277.8 336.9,280.3 335,277.8" fill="#00ffff"/>
<polygon points="340,275.3 341.9,277.8 340,280.3 338.1,277.8" fill="#00ffff"/>
<polygon points="343.1,275.3 345,277.8 343.1,280.3 341.2,277.8" fill="#00ffff"/>
<polygon points="346.2,275.3 348.1,277.8 346.2,280.3 344.3,277.8" fill="#00ffff"/>
<polygon points="349.4,275.3 351.3,277.8 349.4,280.3 347.5,277.8" fill="#00ffff"/>
<polygon points="352.5,275.3 354.4,277.8 352.5,280.3 350.6,277.8" fill="#00ffff"/>
<polygon points="355.6,275.3 357.5,277.8 355.6,280.3 353.7,277.8" fill="#00ffff"/>
<polygon points="358.7,275.3 360.6,277.8 358.7,280.3 356.8,277.8" fill="#00ffff"/>
<polygon points="361.8,275.3 363.7,277.8 361.8,280.3 359.9,277.8" fill="#00ffff"/>
<polygon points="365,275.3 366.9,277.8 365,280.3 363.1,277.8" fill="#00ffff"/>
<polygon points="368.1,275.3 370,277.8 368.1,280.3 366.2,277.8" fill="#00ffff"/>
<polygon points="371.2,275.3 373.1,277.8 371.2,280.3 369.3,277.8" fill="#00ffff"/>
<polygon points="374.3,275.3 376.2,277.8 374.3,280.3 372.4,277.8" fill="#00ffff"/>
<polygon points="377.4,275.3 379.3,277.8 377.4,280.3 375.5,277.8" fill="#00ffff"/>
<polygon points="380.5,275.3 382.4,277.8 380.5,280.3 378.6,277.8" fill="#00ffff"/>
<polygon points="383.7,275.3 385.6,277.8 383.7,280.3 381.8,277.8" fill="#00ffff"/>
<polygon points="386.8,275.3 388.7,277.8 386.8,280.3 384.9,277.8" fill="#00ffff"/>
<polygon points="389.9,275.3 391.8,277.8 389.9,280.3 388,277.8" fill="#00ffff"/>
<polygon points="393,275.3 394.9,277.8 393,280.3 391.1,277.8" fill="#00ffff"/>
<polygon points="396.1,275.3 398,277.8 396.1,280.3 394.2,277.8" fill="#00ffff"/>
<polygon points="399.3,275.3 401.2,277.8 399.3,280.3 397.4,277.8" fill="#00ffff"/>
<polygon points="402.4,275.3 404.3,277.8 402.4,280.3 400.5,277.8" fill="#00ffff"/>
<polygon points="405.5,275.3 407.4,277.8 405.5,280.3 403.6,277.8" fill="#00ffff"/>
<polygon points="408.6,275.3 410.5,277.8 408.6,280.3 406.7,277.8" fill="#00ffff"/>
<polygon points="411.7,275.3 413.6,277.8 411.7,280.3 409.8,277.8" fill="#00ffff"/>
<polygon points="414.9,275.3 416.8,277.8 414.9,280.3 413,277.8" fill="#00ffff"/>
<polygon points="418,275.3 419.9,277.8 418,280.3 416.1,277.8" fill="#00ffff"/>
<polygon points="421.1,275.3 423,277.8 421.1,280.3 419.2,277.8" fill="#00ffff"/>
<path d="M268.1 256.6L268.3 258L268.6 277L269.5 277.5L423.9 277.5" stroke="#ff0000" stroke-width="1.3" fill="none" stroke-linejoin="round"/>
<polygon points="270.4,256.6 266.3,254.3 266.3,258.9" fill="#ff0000"/>
<polygon points="273.7,277.5 269.6,275.2 269.6,279.8" fill="#ff0000"/>
<polygon points="276.8,277.5 272.7,275.2 272.7,279.8" fill="#ff0000"/>
<polygon points="279.9,277.5 275.8,275.2 275.8,279.8" fill="#ff0000"/>
<polygon points="283,277.5 278.9,275.2 278.9,279.8" fill="#ff0000"/>
<polygon points="286.2,277.5 282.1,275.2 282.1,279.8" fill="#ff0000"/>
<polygon points="289.3,277.5 285.2,275.2 285.2,279.8" fill="#ff0000"/>
<polygon points="292.4,277.5 288.3,275.2 288.3,279.8" fill="#ff0000"/>
<polygon points="295.5,277.5 291.4,275.2 291.4,279.8" fill="#ff0000"/>
<polygon points="298.6,277.5 294.5,275.2 294.5,279.8" fill="#ff0000"/>
<polygon points="301.8,277.5 297.7,275.2 297.7,279.8" fill="#ff0000"/>
<polygon points="304.9,277.5 300.8,275.2 300.8,279.8" fill="#ff0000"/>
<polygon points="308,277.5 303.9,275.2 303.9,279.8" fill="#ff0000"/>
<polygon points="311.1,277.5 307,275.2 307,279.8" fill="#ff0000"/>
<polygon points="314.2,277.5 310.1,275.2 310.1,279.8" fill="#ff0000"/>
<polygon points="317.4,277.5 313.3,275.2 313.3,279.8" fill="#ff0000"/>
<polygon points="320.5,277.5 316.4,275.2 316.4,279.8" fill="#ff0000"/>
<polygon points="323.6,277.5 319.5,275.2 319.5,279.8" fill="#ff0000"/>
<polygon points="326.7,277.5 322.6,275.2 322.6,279.8" fill="#ff0000"/>
<polygon points="329.8,277.5 325.7,275.2 325.7,279.8" fill="#ff0000"/>
<polygon points="332.9,277.5 328.8,275.2 328.8,279.8" fill="#ff0000"/>
<polygon points="336.1,277.5 332,275.2 332,279.8" fill="#ff0000"/>
<polygon points="339.2,277.5 335.1,275.2 335.1,279.8" fill="#ff0000"/>
<polygon points="342.3,277.5 338.2,275.2 338.2,279.8" fill="#ff0000"/>
<polygon points="345.4,277.5 341.3,275.2 341.3,279.8" fill="#ff0000"/>
<polygon points="348.5,277.5 344.4,275.2 344.4,279.8" fill="#ff0000"/>
<polygon points="351.7,277.5 347.6,275.2 347.6,279.8" fill="#ff0000"/>
<polygon points="354.8,277.5 350.7,275.2 350.7,279.8" fill="#ff0000"/>
<polygon points="357.9,277.5 353.8,275.2 353.8,279.8" fill="#ff0000"/>
<polygon points="361,277.5 356.9,275.2 356.9,279.8" fill="#ff0000"/>
<polygon points="364.1,277.5 360,275.2 360,279.8" fill="#ff0000"/>
<polygon points="367.3,277.5 363.2,275.2 363.2,279.8" fill="#ff0000"/>
<polygon points="370.4,277.5 366.3,275.2 366.3,279.8" fill="#ff0000"/>
<polygon points="373.5,277.5 369.4,275.2 369.4,279.8" fill="#ff0000"/>
<polygon points="376.6,277.5 372.5,275.2 372.5,279.8" fill="#ff0000"/>
<polygon points="379.7,277.5 375.6,275.2 375.6,279.8" fill="#ff0000"/>
<polygon points="382.8,277.5 378.7,275.2 378.7,279.8" fill="#ff0000"/>
<polygon points="386,277.5 381.9,275.2 381.9,279.8" fill="#ff0000"/>
<polygon points="389.1,277.5 385,275.2 385,279.8" fill="#ff0000"/>
<polygon points="392.2,277.5 388.1,275.2 388.1,279.8" fill="#ff0000"/>
<polygon points="395.3,277.5 391.2,275.2 391.2,279.8" fill="#ff0000"/>
<polygon points="398.4,277.5 394.3,275.2 394.3,279.8" fill="#ff0000"/>
<polygon points="401.6,277.5 397.5,275.2 397.5,279.8" fill="#ff0000"/>
<polygon points="404.7,277.5 400.6,275.2 400.6,279.8" fill="#ff0000"/>
<polygon points="407.8,277.5 403.7,275.2 403.7,279.8" fill="#ff0000"/>
<polygon points="410.9,277.5 406.8,275.2 406.8,279.8" fill="#ff0000"/>
<polygon points="414,277.5 409.9,275.2 409.9,279.8" fill="#ff0000"/>
<polygon points="417.2,277.5 413.1,275.2 413.1,279.8" fill="#ff0000"/>
<polygon points="420.3,277.5 416.2,275.2 416.2,279.8" fill="#ff0000"/>
<polygon points="423.4,277.5 419.3,275.2 419.3,279.8" fill="#ff0000"/>
</g>
<rect x="387.4" y="176.5" width="32.9" height="30.9" fill="#fff" stroke="#aaa" stroke-width="0.7"/>
<path d="M388.7 179.9H403.2" stroke="#00ff00" stroke-width="1"/>
<polygon points="396,177.1 398.1,179.9 396,182.7 393.8,179.9" fill="#00ff00"/>
<text transform="translate(404.6 181.4) scale(0.1)" text-anchor="start" font-size="42" fill="#3c3c3c" stroke="#3c3c3c" stroke-width="1">DBO</text>
<path d="M388.7 185.8H403.2" stroke="#000000" stroke-width="1"/>
<circle cx="396" cy="185.8" r="1.9" fill="#000000"/>
<text transform="translate(404.6 187.3) scale(0.1)" text-anchor="start" font-size="42" fill="#3c3c3c" stroke="#3c3c3c" stroke-width="1">IDBO-1</text>
<path d="M388.7 191.7H403.2" stroke="#0000ff" stroke-width="1"/>
<polygon points="396,188.6 396.8,190.6 398.9,190.8 397.3,192.2 397.8,194.3 396,193.2 394.1,194.3 394.6,192.2 393,190.8 395.1,190.6" fill="#0000ff"/>
<text transform="translate(404.6 193.2) scale(0.1)" text-anchor="start" font-size="42" fill="#3c3c3c" stroke="#3c3c3c" stroke-width="1">IDBO-2</text>
<path d="M388.7 197.6H403.2" stroke="#00ffff" stroke-width="1"/>
<polygon points="396,194.8 398.1,197.6 396,200.4 393.8,197.6" fill="#00ffff"/>
<text transform="translate(404.6 199.1) scale(0.1)" text-anchor="start" font-size="42" fill="#3c3c3c" stroke="#3c3c3c" stroke-width="1">IDBO-3</text>
<path d="M388.7 203.5H403.2" stroke="#ff0000" stroke-width="1"/>
<polygon points="398.5,203.5 393.9,201 393.9,206.1" fill="#ff0000"/>
<text transform="translate(404.6 205) scale(0.1)" text-anchor="start" font-size="42" fill="#3c3c3c" stroke="#3c3c3c" stroke-width="1">IDBO</text>
</g>
<g>
<clipPath id="cF6"><rect x="492.5" y="169.5" width="161.9" height="128.5"/></clipPath>
<rect x="495.5" y="172.5" width="155.9" height="122.5" fill="none" stroke="#b0b0b0" stroke-width="0.95"/>
<path d="M495.5 295v-1.5M495.5 172.5v1.5M511.1 295v-1.5M511.1 172.5v1.5M526.6 295v-1.5M526.6 172.5v1.5M542.2 295v-1.5M542.2 172.5v1.5M557.8 295v-1.5M557.8 172.5v1.5M573.4 295v-1.5M573.4 172.5v1.5M589 295v-1.5M589 172.5v1.5M604.6 295v-1.5M604.6 172.5v1.5M620.2 295v-1.5M620.2 172.5v1.5M635.8 295v-1.5M635.8 172.5v1.5M651.4 295v-1.5M651.4 172.5v1.5M495.5 172.5h1.5M651.4 172.5h-1.5M495.5 193h1.5M651.4 193h-1.5M495.5 213.4h1.5M651.4 213.4h-1.5M495.5 233.8h1.5M651.4 233.8h-1.5M495.5 254.2h1.5M651.4 254.2h-1.5M495.5 274.6h1.5M651.4 274.6h-1.5M495.5 295h1.5M651.4 295h-1.5M495.5 292h0.8M651.4 292h-0.8M495.5 290.2h0.8M651.4 290.2h-0.8M495.5 288.9h0.8M651.4 288.9h-0.8M495.5 287.9h0.8M651.4 287.9h-0.8M495.5 287.1h0.8M651.4 287.1h-0.8M495.5 286.4h0.8M651.4 286.4h-0.8M495.5 285.8h0.8M651.4 285.8h-0.8M495.5 285.3h0.8M651.4 285.3h-0.8M495.5 281.8h0.8M651.4 281.8h-0.8M495.5 280h0.8M651.4 280h-0.8M495.5 278.7h0.8M651.4 278.7h-0.8M495.5 277.7h0.8M651.4 277.7h-0.8M495.5 276.9h0.8M651.4 276.9h-0.8M495.5 276.2h0.8M651.4 276.2h-0.8M495.5 275.6h0.8M651.4 275.6h-0.8M495.5 275.1h0.8M651.4 275.1h-0.8M495.5 271.6h0.8M651.4 271.6h-0.8M495.5 269.8h0.8M651.4 269.8h-0.8M495.5 268.5h0.8M651.4 268.5h-0.8M495.5 267.5h0.8M651.4 267.5h-0.8M495.5 266.7h0.8M651.4 266.7h-0.8M495.5 266h0.8M651.4 266h-0.8M495.5 265.4h0.8M651.4 265.4h-0.8M495.5 264.9h0.8M651.4 264.9h-0.8M495.5 261.3h0.8M651.4 261.3h-0.8M495.5 259.5h0.8M651.4 259.5h-0.8M495.5 258.3h0.8M651.4 258.3h-0.8M495.5 257.3h0.8M651.4 257.3h-0.8M495.5 256.5h0.8M651.4 256.5h-0.8M495.5 255.8h0.8M651.4 255.8h-0.8M495.5 255.2h0.8M651.4 255.2h-0.8M495.5 254.7h0.8M651.4 254.7h-0.8M495.5 251.1h0.8M651.4 251.1h-0.8M495.5 249.3h0.8M651.4 249.3h-0.8M495.5 248.1h0.8M651.4 248.1h-0.8M495.5 247.1h0.8M651.4 247.1h-0.8M495.5 246.3h0.8M651.4 246.3h-0.8M495.5 245.6h0.8M651.4 245.6h-0.8M495.5 245h0.8M651.4 245h-0.8M495.5 244.5h0.8M651.4 244.5h-0.8M495.5 240.9h0.8M651.4 240.9h-0.8M495.5 239.1h0.8M651.4 239.1h-0.8M495.5 237.9h0.8M651.4 237.9h-0.8M495.5 236.9h0.8M651.4 236.9h-0.8M495.5 236.1h0.8M651.4 236.1h-0.8M495.5 235.4h0.8M651.4 235.4h-0.8M495.5 234.8h0.8M651.4 234.8h-0.8M495.5 234.3h0.8M651.4 234.3h-0.8M495.5 230.7h0.8M651.4 230.7h-0.8M495.5 228.9h0.8M651.4 228.9h-0.8M495.5 227.6h0.8M651.4 227.6h-0.8M495.5 226.7h0.8M651.4 226.7h-0.8M495.5 225.8h0.8M651.4 225.8h-0.8M495.5 225.2h0.8M651.4 225.2h-0.8M495.5 224.6h0.8M651.4 224.6h-0.8M495.5 224h0.8M651.4 224h-0.8M495.5 220.5h0.8M651.4 220.5h-0.8M495.5 218.7h0.8M651.4 218.7h-0.8M495.5 217.4h0.8M651.4 217.4h-0.8M495.5 216.4h0.8M651.4 216.4h-0.8M495.5 215.6h0.8M651.4 215.6h-0.8M495.5 215h0.8M651.4 215h-0.8M495.5 214.4h0.8M651.4 214.4h-0.8M495.5 213.8h0.8M651.4 213.8h-0.8M495.5 210.3h0.8M651.4 210.3h-0.8M495.5 208.5h0.8M651.4 208.5h-0.8M495.5 207.2h0.8M651.4 207.2h-0.8M495.5 206.2h0.8M651.4 206.2h-0.8M495.5 205.4h0.8M651.4 205.4h-0.8M495.5 204.7h0.8M651.4 204.7h-0.8M495.5 204.2h0.8M651.4 204.2h-0.8M495.5 203.6h0.8M651.4 203.6h-0.8M495.5 200.1h0.8M651.4 200.1h-0.8M495.5 198.3h0.8M651.4 198.3h-0.8M495.5 197h0.8M651.4 197h-0.8M495.5 196h0.8M651.4 196h-0.8M495.5 195.2h0.8M651.4 195.2h-0.8M495.5 194.5h0.8M651.4 194.5h-0.8M495.5 193.9h0.8M651.4 193.9h-0.8M495.5 193.4h0.8M651.4 193.4h-0.8M495.5 189.9h0.8M651.4 189.9h-0.8M495.5 188.1h0.8M651.4 188.1h-0.8M495.5 186.8h0.8M651.4 186.8h-0.8M495.5 185.8h0.8M651.4 185.8h-0.8M495.5 185h0.8M651.4 185h-0.8M495.5 184.3h0.8M651.4 184.3h-0.8M495.5 183.7h0.8M651.4 183.7h-0.8M495.5 183.2h0.8M651.4 183.2h-0.8M495.5 179.7h0.8M651.4 179.7h-0.8M495.5 177.9h0.8M651.4 177.9h-0.8M495.5 176.6h0.8M651.4 176.6h-0.8M495.5 175.6h0.8M651.4 175.6h-0.8M495.5 174.8h0.8M651.4 174.8h-0.8M495.5 174.1h0.8M651.4 174.1h-0.8M495.5 173.5h0.8M651.4 173.5h-0.8M495.5 173h0.8M651.4 173h-0.8" stroke="#777" stroke-width="0.7" fill="none"/>
<text transform="translate(495.5 302.4) scale(0.1)" text-anchor="middle" font-size="50" fill="#3c3c3c" stroke="#3c3c3c" stroke-width="1">0</text>
<text transform="translate(511.1 302.4) scale(0.1)" text-anchor="middle" font-size="50" fill="#3c3c3c" stroke="#3c3c3c" stroke-width="1">50</text>
<text transform="translate(526.6 302.4) scale(0.1)" text-anchor="middle" font-size="50" fill="#3c3c3c" stroke="#3c3c3c" stroke-width="1">100</text>
<text transform="translate(542.2 302.4) scale(0.1)" text-anchor="middle" font-size="50" fill="#3c3c3c" stroke="#3c3c3c" stroke-width="1">150</text>
<text transform="translate(557.8 302.4) scale(0.1)" text-anchor="middle" font-size="50" fill="#3c3c3c" stroke="#3c3c3c" stroke-width="1">200</text>
<text transform="translate(573.4 302.4) scale(0.1)" text-anchor="middle" font-size="50" fill="#3c3c3c" stroke="#3c3c3c" stroke-width="1">250</text>
<text transform="translate(589 302.4) scale(0.1)" text-anchor="middle" font-size="50" fill="#3c3c3c" stroke="#3c3c3c" stroke-width="1">300</text>
<text transform="translate(604.6 302.4) scale(0.1)" text-anchor="middle" font-size="50" fill="#3c3c3c" stroke="#3c3c3c" stroke-width="1">350</text>
<text transform="translate(620.2 302.4) scale(0.1)" text-anchor="middle" font-size="50" fill="#3c3c3c" stroke="#3c3c3c" stroke-width="1">400</text>
<text transform="translate(635.8 302.4) scale(0.1)" text-anchor="middle" font-size="50" fill="#3c3c3c" stroke="#3c3c3c" stroke-width="1">450</text>
<text transform="translate(651.4 302.4) scale(0.1)" text-anchor="middle" font-size="50" fill="#3c3c3c" stroke="#3c3c3c" stroke-width="1">500</text>
<text transform="translate(493 175.3) scale(0.1)" text-anchor="end" font-size="50" fill="#3c3c3c" stroke="#3c3c3c" stroke-width="1">10<tspan font-size="36" dy="-24.5">6</tspan></text>
<text transform="translate(493 195.7) scale(0.1)" text-anchor="end" font-size="50" fill="#3c3c3c" stroke="#3c3c3c" stroke-width="1">10<tspan font-size="36" dy="-24.5">4</tspan></text>
<text transform="translate(493 216.1) scale(0.1)" text-anchor="end" font-size="50" fill="#3c3c3c" stroke="#3c3c3c" stroke-width="1">10<tspan font-size="36" dy="-24.5">2</tspan></text>
<text transform="translate(493 236.5) scale(0.1)" text-anchor="end" font-size="50" fill="#3c3c3c" stroke="#3c3c3c" stroke-width="1">10<tspan font-size="36" dy="-24.5">0</tspan></text>
<text transform="translate(493 257) scale(0.1)" text-anchor="end" font-size="50" fill="#3c3c3c" stroke="#3c3c3c" stroke-width="1">10<tspan font-size="36" dy="-24.5">-2</tspan></text>
<text transform="translate(493 277.4) scale(0.1)" text-anchor="end" font-size="50" fill="#3c3c3c" stroke="#3c3c3c" stroke-width="1">10<tspan font-size="36" dy="-24.5">-4</tspan></text>
<text transform="translate(493 297.8) scale(0.1)" text-anchor="end" font-size="50" fill="#3c3c3c" stroke="#3c3c3c" stroke-width="1">10<tspan font-size="36" dy="-24.5">-6</tspan></text>
<text transform="translate(573.4 170) scale(0.1)" text-anchor="middle" font-size="50" fill="#222" stroke="#222" stroke-width="1" font-weight="bold">F6</text>
<text transform="translate(573.4 309) scale(0.1)" text-anchor="middle" font-size="51.5" fill="#3c3c3c" stroke="#3c3c3c" stroke-width="1">Iterations</text>
<text transform="translate(482.2 233.8) rotate(-90) scale(0.1)" text-anchor="middle" font-size="51.5" fill="#3c3c3c" stroke="#3c3c3c" stroke-width="1">Best score</text>
<g clip-path="url(#cF6)">
<path d="M495.6 182.4L496.7 198.5L497.7 222L498.6 226L505 229L516.4 231.5L528 234.3L537.4 237.8L542 239.5L551.4 240.7L558.4 244.8L565 246.3L573.5 247.6L579.5 251.5L588.6 253.5L604.4 254.8L620.8 255.5L636 256.1L642.5 256.5L650.5 257L651.4 259" stroke="#00ff00" stroke-width="1.3" fill="none" stroke-linejoin="round"/>
<polygon points="495.6,179.9 497.5,182.4 495.6,184.9 493.7,182.4" fill="#00ff00"/>
<polygon points="511.4,227.9 513.3,230.4 511.4,232.9 509.5,230.4" fill="#00ff00"/>
<polygon points="527,231.5 528.9,234 527,236.5 525.1,234" fill="#00ff00"/>
<polygon points="542.6,237.1 544.5,239.6 542.6,242.1 540.7,239.6" fill="#00ff00"/>
<polygon points="558.1,242.2 560,244.7 558.1,247.2 556.2,244.7" fill="#00ff00"/>
<polygon points="573.7,245.3 575.6,247.8 573.7,250.3 571.8,247.8" fill="#00ff00"/>
<polygon points="589.3,251.1 591.2,253.6 589.3,256.1 587.4,253.6" fill="#00ff00"/>
<polygon points="604.9,252.3 606.8,254.8 604.9,257.3 603,254.8" fill="#00ff00"/>
<polygon points="620.5,253 622.4,255.5 620.5,258 618.6,255.5" fill="#00ff00"/>
<polygon points="636.1,253.6 638,256.1 636.1,258.6 634.2,256.1" fill="#00ff00"/>
<path d="M495.6 185L496.5 200L498.6 225.1L505 228.3L516.4 231.4L528 234L540 236.3L551.4 237.6L565 238.4L573.5 239.7L589.3 240.4L591.3 241.7L592.6 248.9L604.4 253.5L605.7 254.2L607 258.8L613.6 261.8L620.8 262.3L636 264.4L641.2 264.7L651.4 265.3" stroke="#000000" stroke-width="1.1" fill="none" stroke-linejoin="round"/>
<rect x="494.1" y="183.5" width="3" height="3" fill="#000000"/>
<rect x="509.9" y="228.5" width="3" height="3" fill="#000000"/>
<rect x="525.5" y="232.3" width="3" height="3" fill="#000000"/>
<rect x="541.1" y="235.1" width="3" height="3" fill="#000000"/>
<rect x="556.6" y="236.5" width="3" height="3" fill="#000000"/>
<rect x="572.2" y="238.2" width="3" height="3" fill="#000000"/>
<rect x="587.8" y="238.9" width="3" height="3" fill="#000000"/>
<rect x="603.4" y="252.3" width="3" height="3" fill="#000000"/>
<rect x="619" y="260.8" width="3" height="3" fill="#000000"/>
<rect x="634.6" y="262.9" width="3" height="3" fill="#000000"/>
<path d="M495.6 185.2L497.1 202.3L499 202.8L500.5 206.1L501 219.4L502.4 221.8L504.7 223.8L514 226.1L528 230.5L540 233.5L551.4 236L563.1 237.8L571.6 239.7L578.1 247.6L591.3 250.9L604.4 252.2L639.9 252.6L641.9 263.4L651.4 264.7" stroke="#0000ff" stroke-width="1.3" fill="none" stroke-linejoin="round"/>
<polygon points="495.6,182.4 496.4,184.1 498.3,184.3 496.8,185.6 497.2,187.5 495.6,186.5 494,187.5 494.4,185.6 492.9,184.3 494.8,184.1" fill="#0000ff"/>
<polygon points="498.9,200 499.7,201.7 501.6,201.9 500.1,203.2 500.5,205 498.9,204.1 497.2,205 497.7,203.2 496.2,201.9 498.1,201.7" fill="#0000ff"/>
<polygon points="502,218.3 502.8,220.1 504.7,220.3 503.2,221.5 503.7,223.4 502,222.4 500.4,223.4 500.8,221.5 499.3,220.3 501.2,220.1" fill="#0000ff"/>
<polygon points="505.1,221.1 505.9,222.9 507.8,223 506.4,224.3 506.8,226.2 505.1,225.2 503.5,226.2 503.9,224.3 502.5,223 504.4,222.9" fill="#0000ff"/>
<polygon points="508.2,221.9 509,223.6 510.9,223.8 509.5,225.1 509.9,226.9 508.2,226 506.6,226.9 507,225.1 505.6,223.8 507.5,223.6" fill="#0000ff"/>
<polygon points="511.4,222.6 512.1,224.4 514,224.6 512.6,225.9 513,227.7 511.4,226.7 509.7,227.7 510.1,225.9 508.7,224.6 510.6,224.4" fill="#0000ff"/>
<polygon points="514.5,223.5 515.2,225.2 517.1,225.4 515.7,226.7 516.1,228.5 514.5,227.6 512.8,228.5 513.2,226.7 511.8,225.4 513.7,225.2" fill="#0000ff"/>
<polygon points="517.6,224.4 518.4,226.2 520.3,226.4 518.8,227.6 519.2,229.5 517.6,228.5 516,229.5 516.4,227.6 514.9,226.4 516.8,226.2" fill="#0000ff"/>
<polygon points="520.7,225.4 521.5,227.2 523.4,227.3 522,228.6 522.4,230.5 520.7,229.5 519.1,230.5 519.5,228.6 518.1,227.3 520,227.2" fill="#0000ff"/>
<polygon points="523.8,226.4 524.6,228.1 526.5,228.3 525.1,229.6 525.5,231.5 523.8,230.5 522.2,231.5 522.6,229.6 521.2,228.3 523.1,228.1" fill="#0000ff"/>
<polygon points="527,227.4 527.7,229.1 529.6,229.3 528.2,230.6 528.6,232.4 527,231.5 525.3,232.4 525.7,230.6 524.3,229.3 526.2,229.1" fill="#0000ff"/>
<polygon points="530.1,228.2 530.8,230 532.7,230.2 531.3,231.4 531.7,233.3 530.1,232.3 528.4,233.3 528.8,231.4 527.4,230.2 529.3,230" fill="#0000ff"/>
<polygon points="533.2,229 534,230.7 535.9,230.9 534.4,232.2 534.8,234.1 533.2,233.1 531.6,234.1 532,232.2 530.5,230.9 532.4,230.7" fill="#0000ff"/>
<polygon points="536.3,229.8 537.1,231.5 539,231.7 537.6,233 538,234.8 536.3,233.9 534.7,234.8 535.1,233 533.7,231.7 535.6,231.5" fill="#0000ff"/>
<polygon points="539.4,230.6 540.2,232.3 542.1,232.5 540.7,233.8 541.1,235.6 539.4,234.7 537.8,235.6 538.2,233.8 536.8,232.5 538.7,232.3" fill="#0000ff"/>
<polygon points="542.6,231.3 543.3,233 545.2,233.2 543.8,234.5 544.2,236.3 542.6,235.4 540.9,236.3 541.3,234.5 539.9,233.2 541.8,233" fill="#0000ff"/>
<polygon points="545.7,231.9 546.4,233.7 548.3,233.9 546.9,235.1 547.3,237 545.7,236 544,237 544.4,235.1 543,233.9 544.9,233.7" fill="#0000ff"/>
<polygon points="548.8,232.6 549.6,234.4 551.5,234.6 550,235.8 550.4,237.7 548.8,236.7 547.1,237.7 547.6,235.8 546.1,234.6 548,234.4" fill="#0000ff"/>
<polygon points="551.9,233.3 552.7,235 554.6,235.2 553.1,236.5 553.6,238.3 551.9,237.4 550.3,238.3 550.7,236.5 549.2,235.2 551.1,235" fill="#0000ff"/>
<polygon points="555,233.8 555.8,235.5 557.7,235.7 556.3,237 556.7,238.8 555,237.9 553.4,238.8 553.8,237 552.4,235.7 554.3,235.5" fill="#0000ff"/>
<polygon points="558.1,234.2 558.9,236 560.8,236.2 559.4,237.4 559.8,239.3 558.1,238.3 556.5,239.3 556.9,237.4 555.5,236.2 557.4,236" fill="#0000ff"/>
<polygon points="561.3,234.7 562,236.5 563.9,236.7 562.5,237.9 562.9,239.8 561.3,238.8 559.6,239.8 560,237.9 558.6,236.7 560.5,236.5" fill="#0000ff"/>
<polygon points="564.4,235.3 565.1,237 567,237.2 565.6,238.5 566,240.4 564.4,239.4 562.7,240.4 563.1,238.5 561.7,237.2 563.6,237" fill="#0000ff"/>
<polygon points="567.5,236 568.3,237.7 570.2,237.9 568.7,239.2 569.2,241 567.5,240.1 565.9,241 566.3,239.2 564.8,237.9 566.7,237.7" fill="#0000ff"/>
<polygon points="570.6,236.7 571.4,238.4 573.3,238.6 571.9,239.9 572.3,241.7 570.6,240.8 569,241.7 569.4,239.9 568,238.6 569.9,238.4" fill="#0000ff"/>
<polygon points="573.7,239.5 574.5,241.3 576.4,241.4 575,242.7 575.4,244.6 573.7,243.6 572.1,244.6 572.5,242.7 571.1,241.4 573,241.3" fill="#0000ff"/>
<polygon points="576.9,243.3 577.6,245 579.5,245.2 578.1,246.5 578.5,248.4 576.9,247.4 575.2,248.4 575.6,246.5 574.2,245.2 576.1,245" fill="#0000ff"/>
<polygon points="580,245.3 580.7,247 582.6,247.2 581.2,248.5 581.6,250.3 580,249.4 578.3,250.3 578.7,248.5 577.3,247.2 579.2,247" fill="#0000ff"/>
<polygon points="583.1,246 583.9,247.8 585.8,248 584.3,249.3 584.7,251.1 583.1,250.1 581.5,251.1 581.9,249.3 580.4,248 582.3,247.8" fill="#0000ff"/>
<polygon points="586.2,246.8 587,248.6 588.9,248.8 587.5,250 587.9,251.9 586.2,250.9 584.6,251.9 585,250 583.6,248.8 585.5,248.6" fill="#0000ff"/>
<polygon points="589.3,247.6 590.1,249.4 592,249.5 590.6,250.8 591,252.7 589.3,251.7 587.7,252.7 588.1,250.8 586.7,249.5 588.6,249.4" fill="#0000ff"/>
<polygon points="592.5,248.2 593.2,250 595.1,250.1 593.7,251.4 594.1,253.3 592.5,252.3 590.8,253.3 591.2,251.4 589.8,250.1 591.7,250" fill="#0000ff"/>
<polygon points="595.6,248.5 596.3,250.3 598.2,250.5 596.8,251.7 597.2,253.6 595.6,252.6 593.9,253.6 594.3,251.7 592.9,250.5 594.8,250.3" fill="#0000ff"/>
<polygon points="598.7,248.8 599.5,250.6 601.4,250.8 599.9,252 600.3,253.9 598.7,252.9 597,253.9 597.5,252 596,250.8 597.9,250.6" fill="#0000ff"/>
<polygon points="601.8,249.1 602.6,250.9 604.5,251.1 603,252.3 603.5,254.2 601.8,253.2 600.2,254.2 600.6,252.3 599.1,251.1 601,250.9" fill="#0000ff"/>
<polygon points="604.9,249.4 605.7,251.2 607.6,251.3 606.2,252.6 606.6,254.5 604.9,253.5 603.3,254.5 603.7,252.6 602.3,251.3 604.2,251.2" fill="#0000ff"/>
<polygon points="608,249.4 608.8,251.2 610.7,251.4 609.3,252.6 609.7,254.5 608,253.5 606.4,254.5 606.8,252.6 605.4,251.4 607.3,251.2" fill="#0000ff"/>
<polygon points="611.2,249.5 611.9,251.2 613.8,251.4 612.4,252.7 612.8,254.5 611.2,253.6 609.5,254.5 609.9,252.7 608.5,251.4 610.4,251.2" fill="#0000ff"/>
<polygon points="614.3,249.5 615.1,251.3 616.9,251.4 615.5,252.7 615.9,254.6 614.3,253.6 612.6,254.6 613,252.7 611.6,251.4 613.5,251.3" fill="#0000ff"/>
<polygon points="617.4,249.5 618.2,251.3 620.1,251.5 618.6,252.7 619.1,254.6 617.4,253.6 615.8,254.6 616.2,252.7 614.7,251.5 616.6,251.3" fill="#0000ff"/>
<polygon points="620.5,249.6 621.3,251.3 623.2,251.5 621.8,252.8 622.2,254.6 620.5,253.7 618.9,254.6 619.3,252.8 617.9,251.5 619.8,251.3" fill="#0000ff"/>
<polygon points="623.6,249.6 624.4,251.4 626.3,251.6 624.9,252.8 625.3,254.7 623.6,253.7 622,254.7 622.4,252.8 621,251.6 622.9,251.4" fill="#0000ff"/>
<polygon points="626.8,249.7 627.5,251.4 629.4,251.6 628,252.9 628.4,254.7 626.8,253.8 625.1,254.7 625.5,252.9 624.1,251.6 626,251.4" fill="#0000ff"/>
<polygon points="629.9,249.7 630.6,251.4 632.5,251.6 631.1,252.9 631.5,254.8 629.9,253.8 628.2,254.8 628.6,252.9 627.2,251.6 629.1,251.4" fill="#0000ff"/>
<polygon points="633,249.7 633.8,251.5 635.7,251.7 634.2,252.9 634.6,254.8 633,253.8 631.4,254.8 631.8,252.9 630.3,251.7 632.2,251.5" fill="#0000ff"/>
<polygon points="636.1,249.8 636.9,251.5 638.8,251.7 637.4,253 637.8,254.8 636.1,253.9 634.5,254.8 634.9,253 633.5,251.7 635.4,251.5" fill="#0000ff"/>
<polygon points="639.2,249.8 640,251.5 641.9,251.7 640.5,253 640.9,254.9 639.2,253.9 637.6,254.9 638,253 636.6,251.7 638.5,251.5" fill="#0000ff"/>
<polygon points="642.4,260.7 643.1,262.4 645,262.6 643.6,263.9 644,265.7 642.4,264.8 640.7,265.7 641.1,263.9 639.7,262.6 641.6,262.4" fill="#0000ff"/>
<polygon points="645.5,261.1 646.2,262.8 648.1,263 646.7,264.3 647.1,266.2 645.5,265.2 643.8,266.2 644.2,264.3 642.8,263 644.7,262.8" fill="#0000ff"/>
<polygon points="648.6,261.5 649.4,263.3 651.3,263.5 649.8,264.7 650.2,266.6 648.6,265.6 646.9,266.6 647.4,264.7 645.9,263.5 647.8,263.3" fill="#0000ff"/>
<path d="M495.6 209L496.2 211L497.6 223.2L500 225.5L516.4 228.4L528 229L539.7 230.2L551.4 231.4L565 232.5L583.4 235.1L590 238.4L604.4 239.7L651.4 240" stroke="#00ffff" stroke-width="1.3" fill="none" stroke-linejoin="round"/>
<polygon points="495.6,206.5 497.5,209 495.6,211.5 493.7,209" fill="#00ffff"/>
<polygon points="498.9,221.9 500.8,224.4 498.9,226.9 497,224.4" fill="#00ffff"/>
<polygon points="502,223.4 503.9,225.9 502,228.4 500.1,225.9" fill="#00ffff"/>
<polygon points="505.1,223.9 507,226.4 505.1,228.9 503.2,226.4" fill="#00ffff"/>
<polygon points="508.2,224.5 510.1,227 508.2,229.5 506.3,227" fill="#00ffff"/>
<polygon points="511.4,225 513.3,227.5 511.4,230 509.5,227.5" fill="#00ffff"/>
<polygon points="514.5,225.6 516.4,228.1 514.5,230.6 512.6,228.1" fill="#00ffff"/>
<polygon points="517.6,226 519.5,228.5 517.6,231 515.7,228.5" fill="#00ffff"/>
<polygon points="520.7,226.1 522.6,228.6 520.7,231.1 518.8,228.6" fill="#00ffff"/>
<polygon points="523.8,226.3 525.7,228.8 523.8,231.3 521.9,228.8" fill="#00ffff"/>
<polygon points="527,226.4 528.9,228.9 527,231.4 525.1,228.9" fill="#00ffff"/>
<polygon points="530.1,226.7 532,229.2 530.1,231.7 528.2,229.2" fill="#00ffff"/>
<polygon points="533.2,227 535.1,229.5 533.2,232 531.3,229.5" fill="#00ffff"/>
<polygon points="536.3,227.4 538.2,229.9 536.3,232.4 534.4,229.9" fill="#00ffff"/>
<polygon points="539.4,227.7 541.3,230.2 539.4,232.7 537.5,230.2" fill="#00ffff"/>
<polygon points="542.6,228 544.5,230.5 542.6,233 540.7,230.5" fill="#00ffff"/>
<polygon points="545.7,228.3 547.6,230.8 545.7,233.3 543.8,230.8" fill="#00ffff"/>
<polygon points="548.8,228.6 550.7,231.1 548.8,233.6 546.9,231.1" fill="#00ffff"/>
<polygon points="551.9,228.9 553.8,231.4 551.9,233.9 550,231.4" fill="#00ffff"/>
<polygon points="555,229.2 556.9,231.7 555,234.2 553.1,231.7" fill="#00ffff"/>
<polygon points="558.1,229.4 560,231.9 558.1,234.4 556.2,231.9" fill="#00ffff"/>
<polygon points="561.3,229.7 563.2,232.2 561.3,234.7 559.4,232.2" fill="#00ffff"/>
<polygon points="564.4,230 566.3,232.5 564.4,235 562.5,232.5" fill="#00ffff"/>
<polygon points="567.5,230.4 569.4,232.9 567.5,235.4 565.6,232.9" fill="#00ffff"/>
<polygon points="570.6,230.8 572.5,233.3 570.6,235.8 568.7,233.3" fill="#00ffff"/>
<polygon points="573.7,231.2 575.6,233.7 573.7,236.2 571.8,233.7" fill="#00ffff"/>
<polygon points="576.9,231.7 578.8,234.2 576.9,236.7 575,234.2" fill="#00ffff"/>
<polygon points="580,232.1 581.9,234.6 580,237.1 578.1,234.6" fill="#00ffff"/>
<polygon points="583.1,232.6 585,235.1 583.1,237.6 581.2,235.1" fill="#00ffff"/>
<polygon points="586.2,234 588.1,236.5 586.2,239 584.3,236.5" fill="#00ffff"/>
<polygon points="589.3,235.6 591.2,238.1 589.3,240.6 587.4,238.1" fill="#00ffff"/>
<polygon points="592.5,236.1 594.4,238.6 592.5,241.1 590.6,238.6" fill="#00ffff"/>
<polygon points="595.6,236.4 597.5,238.9 595.6,241.4 593.7,238.9" fill="#00ffff"/>
<polygon points="598.7,236.7 600.6,239.2 598.7,241.7 596.8,239.2" fill="#00ffff"/>
<polygon points="601.8,237 603.7,239.5 601.8,242 599.9,239.5" fill="#00ffff"/>
<polygon points="604.9,237.2 606.8,239.7 604.9,242.2 603,239.7" fill="#00ffff"/>
<polygon points="608,237.2 609.9,239.7 608,242.2 606.1,239.7" fill="#00ffff"/>
<polygon points="611.2,237.2 613.1,239.7 611.2,242.2 609.3,239.7" fill="#00ffff"/>
<polygon points="614.3,237.3 616.2,239.8 614.3,242.3 612.4,239.8" fill="#00ffff"/>
<polygon points="617.4,237.3 619.3,239.8 617.4,242.3 615.5,239.8" fill="#00ffff"/>
<polygon points="620.5,237.3 622.4,239.8 620.5,242.3 618.6,239.8" fill="#00ffff"/>
<polygon points="623.6,237.3 625.5,239.8 623.6,242.3 621.7,239.8" fill="#00ffff"/>
<polygon points="626.8,237.3 628.7,239.8 626.8,242.3 624.9,239.8" fill="#00ffff"/>
<polygon points="629.9,237.4 631.8,239.9 629.9,242.4 628,239.9" fill="#00ffff"/>
<polygon points="633,237.4 634.9,239.9 633,242.4 631.1,239.9" fill="#00ffff"/>
<polygon points="636.1,237.4 638,239.9 636.1,242.4 634.2,239.9" fill="#00ffff"/>
<polygon points="639.2,237.4 641.1,239.9 639.2,242.4 637.3,239.9" fill="#00ffff"/>
<polygon points="642.4,237.4 644.3,239.9 642.4,242.4 640.5,239.9" fill="#00ffff"/>
<polygon points="645.5,237.5 647.4,240 645.5,242.5 643.6,240" fill="#00ffff"/>
<polygon points="648.6,237.5 650.5,240 648.6,242.5 646.7,240" fill="#00ffff"/>
<path d="M495.6 196.1L496.2 226.1L499.5 227L504.7 228.4L516.4 231.4L528 234.3L539.7 236.6L551.4 238.4L558.4 239.5L565.4 240.1L567.7 246.5L572.9 248.9L582.1 254.8L591.3 259.4L599.2 264.7L603.8 267.1L612.5 269.3L615.6 270.6L616.5 274.5L621.3 276.7L630 280.2L638.8 283.3L645.8 285.9L651.4 289" stroke="#ff0000" stroke-width="1.3" fill="none" stroke-linejoin="round"/>
<polygon points="497.9,196.1 493.8,193.8 493.8,198.4" fill="#ff0000"/>
<polygon points="501.2,226.8 497.1,224.5 497.1,229.1" fill="#ff0000"/>
<polygon points="504.3,227.7 500.2,225.4 500.2,230" fill="#ff0000"/>
<polygon points="507.4,228.5 503.3,226.2 503.3,230.8" fill="#ff0000"/>
<polygon points="510.5,229.3 506.4,227 506.4,231.6" fill="#ff0000"/>
<polygon points="513.7,230.1 509.6,227.8 509.6,232.4" fill="#ff0000"/>
<polygon points="516.8,230.9 512.7,228.6 512.7,233.2" fill="#ff0000"/>
<polygon points="519.9,231.7 515.8,229.4 515.8,234" fill="#ff0000"/>
<polygon points="523,232.5 518.9,230.2 518.9,234.8" fill="#ff0000"/>
<polygon points="526.1,233.3 522,231 522,235.6" fill="#ff0000"/>
<polygon points="529.3,234 525.2,231.7 525.2,236.3" fill="#ff0000"/>
<polygon points="532.4,234.7 528.3,232.4 528.3,237" fill="#ff0000"/>
<polygon points="535.5,235.3 531.4,233 531.4,237.6" fill="#ff0000"/>
<polygon points="538.6,235.9 534.5,233.6 534.5,238.2" fill="#ff0000"/>
<polygon points="541.7,236.5 537.6,234.2 537.6,238.8" fill="#ff0000"/>
<polygon points="544.9,237 540.8,234.7 540.8,239.3" fill="#ff0000"/>
<polygon points="548,237.5 543.9,235.2 543.9,239.8" fill="#ff0000"/>
<polygon points="551.1,238 547,235.7 547,240.3" fill="#ff0000"/>
<polygon points="554.2,238.5 550.1,236.2 550.1,240.8" fill="#ff0000"/>
<polygon points="557.3,239 553.2,236.7 553.2,241.3" fill="#ff0000"/>
<polygon points="560.4,239.5 556.3,237.2 556.3,241.8" fill="#ff0000"/>
<polygon points="563.6,239.7 559.5,237.4 559.5,242" fill="#ff0000"/>
<polygon points="566.7,240 562.6,237.7 562.6,242.3" fill="#ff0000"/>
<polygon points="569.8,246 565.7,243.7 565.7,248.3" fill="#ff0000"/>
<polygon points="572.9,247.8 568.8,245.5 568.8,250.1" fill="#ff0000"/>
<polygon points="576,249.4 571.9,247.1 571.9,251.7" fill="#ff0000"/>
<polygon points="579.2,251.4 575.1,249.1 575.1,253.7" fill="#ff0000"/>
<polygon points="582.3,253.4 578.2,251.1 578.2,255.7" fill="#ff0000"/>
<polygon points="585.4,255.3 581.3,253 581.3,257.6" fill="#ff0000"/>
<polygon points="588.5,256.9 584.4,254.6 584.4,259.2" fill="#ff0000"/>
<polygon points="591.6,258.4 587.5,256.1 587.5,260.7" fill="#ff0000"/>
<polygon points="594.8,260.2 590.7,257.9 590.7,262.5" fill="#ff0000"/>
<polygon points="597.9,262.3 593.8,260 593.8,264.6" fill="#ff0000"/>
<polygon points="601,264.4 596.9,262.1 596.9,266.7" fill="#ff0000"/>
<polygon points="604.1,266.1 600,263.8 600,268.4" fill="#ff0000"/>
<polygon points="607.2,267.4 603.1,265.1 603.1,269.7" fill="#ff0000"/>
<polygon points="610.3,268.2 606.2,265.9 606.2,270.5" fill="#ff0000"/>
<polygon points="613.5,269 609.4,266.7 609.4,271.3" fill="#ff0000"/>
<polygon points="616.6,270 612.5,267.7 612.5,272.3" fill="#ff0000"/>
<polygon points="619.7,274.9 615.6,272.6 615.6,277.2" fill="#ff0000"/>
<polygon points="622.8,276.3 618.7,274 618.7,278.6" fill="#ff0000"/>
<polygon points="625.9,277.6 621.8,275.3 621.8,279.9" fill="#ff0000"/>
<polygon points="629.1,278.9 625,276.6 625,281.2" fill="#ff0000"/>
<polygon points="632.2,280.2 628.1,277.9 628.1,282.5" fill="#ff0000"/>
<polygon points="635.3,281.3 631.2,279 631.2,283.6" fill="#ff0000"/>
<polygon points="638.4,282.4 634.3,280.1 634.3,284.7" fill="#ff0000"/>
<polygon points="641.5,283.5 637.4,281.2 637.4,285.8" fill="#ff0000"/>
<polygon points="644.7,284.6 640.6,282.3 640.6,286.9" fill="#ff0000"/>
<polygon points="647.8,285.8 643.7,283.5 643.7,288.1" fill="#ff0000"/>
<polygon points="650.9,287.4 646.8,285.1 646.8,289.7" fill="#ff0000"/>
</g>
<rect x="614.9" y="176.5" width="32.9" height="30.9" fill="#fff" stroke="#aaa" stroke-width="0.7"/>
<path d="M616.2 179.9H630.7" stroke="#00ff00" stroke-width="1"/>
<polygon points="623.5,177.1 625.6,179.9 623.5,182.7 621.3,179.9" fill="#00ff00"/>
<text transform="translate(632.1 181.4) scale(0.1)" text-anchor="start" font-size="42" fill="#3c3c3c" stroke="#3c3c3c" stroke-width="1">DBO</text>
<path d="M616.2 185.8H630.7" stroke="#000000" stroke-width="1"/>
<rect x="621.8" y="184.2" width="3.4" height="3.4" fill="#000000"/>
<text transform="translate(632.1 187.3) scale(0.1)" text-anchor="start" font-size="42" fill="#3c3c3c" stroke="#3c3c3c" stroke-width="1">IDBO-1</text>
<path d="M616.2 191.7H630.7" stroke="#0000ff" stroke-width="1"/>
<polygon points="623.5,188.6 624.3,190.6 626.4,190.8 624.8,192.2 625.3,194.3 623.5,193.2 621.6,194.3 622.1,192.2 620.5,190.8 622.6,190.6" fill="#0000ff"/>
<text transform="translate(632.1 193.2) scale(0.1)" text-anchor="start" font-size="42" fill="#3c3c3c" stroke="#3c3c3c" stroke-width="1">IDBO-2</text>
<path d="M616.2 197.6H630.7" stroke="#00ffff" stroke-width="1"/>
<polygon points="623.5,194.8 625.6,197.6 623.5,200.4 621.3,197.6" fill="#00ffff"/>
<text transform="translate(632.1 199.1) scale(0.1)" text-anchor="start" font-size="42" fill="#3c3c3c" stroke="#3c3c3c" stroke-width="1">IDBO-3</text>
<path d="M616.2 203.5H630.7" stroke="#ff0000" stroke-width="1"/>
<polygon points="626,203.5 621.4,201 621.4,206.1" fill="#ff0000"/>
<text transform="translate(632.1 205) scale(0.1)" text-anchor="start" font-size="42" fill="#3c3c3c" stroke="#3c3c3c" stroke-width="1">IDBO</text>
</g>
<g>
<clipPath id="cF7"><rect x="37.5" y="326.7" width="161.9" height="128.5"/></clipPath>
<rect x="40.5" y="329.7" width="155.9" height="122.5" fill="none" stroke="#b0b0b0" stroke-width="0.95"/>
<path d="M40.5 452.2v-1.5M40.5 329.7v1.5M56.1 452.2v-1.5M56.1 329.7v1.5M71.6 452.2v-1.5M71.6 329.7v1.5M87.2 452.2v-1.5M87.2 329.7v1.5M102.8 452.2v-1.5M102.8 329.7v1.5M118.4 452.2v-1.5M118.4 329.7v1.5M134 452.2v-1.5M134 329.7v1.5M149.6 452.2v-1.5M149.6 329.7v1.5M165.2 452.2v-1.5M165.2 329.7v1.5M180.8 452.2v-1.5M180.8 329.7v1.5M196.4 452.2v-1.5M196.4 329.7v1.5M40.5 332.2h1.5M196.4 332.2h-1.5M40.5 362.2h1.5M196.4 362.2h-1.5M40.5 392.2h1.5M196.4 392.2h-1.5M40.5 422.2h1.5M196.4 422.2h-1.5M40.5 452.2h1.5M196.4 452.2h-1.5M40.5 447.7h0.8M196.4 447.7h-0.8M40.5 445.1h0.8M196.4 445.1h-0.8M40.5 443.2h0.8M196.4 443.2h-0.8M40.5 441.7h0.8M196.4 441.7h-0.8M40.5 440.5h0.8M196.4 440.5h-0.8M40.5 439.5h0.8M196.4 439.5h-0.8M40.5 438.7h0.8M196.4 438.7h-0.8M40.5 437.9h0.8M196.4 437.9h-0.8M40.5 432.7h0.8M196.4 432.7h-0.8M40.5 430.1h0.8M196.4 430.1h-0.8M40.5 428.2h0.8M196.4 428.2h-0.8M40.5 426.7h0.8M196.4 426.7h-0.8M40.5 425.5h0.8M196.4 425.5h-0.8M40.5 424.5h0.8M196.4 424.5h-0.8M40.5 423.7h0.8M196.4 423.7h-0.8M40.5 422.9h0.8M196.4 422.9h-0.8M40.5 417.7h0.8M196.4 417.7h-0.8M40.5 415.1h0.8M196.4 415.1h-0.8M40.5 413.2h0.8M196.4 413.2h-0.8M40.5 411.7h0.8M196.4 411.7h-0.8M40.5 410.5h0.8M196.4 410.5h-0.8M40.5 409.5h0.8M196.4 409.5h-0.8M40.5 408.7h0.8M196.4 408.7h-0.8M40.5 407.9h0.8M196.4 407.9h-0.8M40.5 402.7h0.8M196.4 402.7h-0.8M40.5 400.1h0.8M196.4 400.1h-0.8M40.5 398.2h0.8M196.4 398.2h-0.8M40.5 396.7h0.8M196.4 396.7h-0.8M40.5 395.5h0.8M196.4 395.5h-0.8M40.5 394.5h0.8M196.4 394.5h-0.8M40.5 393.7h0.8M196.4 393.7h-0.8M40.5 392.9h0.8M196.4 392.9h-0.8M40.5 387.7h0.8M196.4 387.7h-0.8M40.5 385.1h0.8M196.4 385.1h-0.8M40.5 383.2h0.8M196.4 383.2h-0.8M40.5 381.7h0.8M196.4 381.7h-0.8M40.5 380.5h0.8M196.4 380.5h-0.8M40.5 379.5h0.8M196.4 379.5h-0.8M40.5 378.7h0.8M196.4 378.7h-0.8M40.5 377.9h0.8M196.4 377.9h-0.8M40.5 372.7h0.8M196.4 372.7h-0.8M40.5 370.1h0.8M196.4 370.1h-0.8M40.5 368.2h0.8M196.4 368.2h-0.8M40.5 366.7h0.8M196.4 366.7h-0.8M40.5 365.5h0.8M196.4 365.5h-0.8M40.5 364.5h0.8M196.4 364.5h-0.8M40.5 363.7h0.8M196.4 363.7h-0.8M40.5 362.9h0.8M196.4 362.9h-0.8M40.5 357.7h0.8M196.4 357.7h-0.8M40.5 355.1h0.8M196.4 355.1h-0.8M40.5 353.2h0.8M196.4 353.2h-0.8M40.5 351.7h0.8M196.4 351.7h-0.8M40.5 350.5h0.8M196.4 350.5h-0.8M40.5 349.5h0.8M196.4 349.5h-0.8M40.5 348.7h0.8M196.4 348.7h-0.8M40.5 347.9h0.8M196.4 347.9h-0.8M40.5 342.7h0.8M196.4 342.7h-0.8M40.5 340.1h0.8M196.4 340.1h-0.8M40.5 338.2h0.8M196.4 338.2h-0.8M40.5 336.7h0.8M196.4 336.7h-0.8M40.5 335.5h0.8M196.4 335.5h-0.8M40.5 334.5h0.8M196.4 334.5h-0.8M40.5 333.7h0.8M196.4 333.7h-0.8M40.5 332.9h0.8M196.4 332.9h-0.8" stroke="#777" stroke-width="0.7" fill="none"/>
<text transform="translate(40.5 459.6) scale(0.1)" text-anchor="middle" font-size="50" fill="#3c3c3c" stroke="#3c3c3c" stroke-width="1">0</text>
<text transform="translate(56.1 459.6) scale(0.1)" text-anchor="middle" font-size="50" fill="#3c3c3c" stroke="#3c3c3c" stroke-width="1">50</text>
<text transform="translate(71.6 459.6) scale(0.1)" text-anchor="middle" font-size="50" fill="#3c3c3c" stroke="#3c3c3c" stroke-width="1">100</text>
<text transform="translate(87.2 459.6) scale(0.1)" text-anchor="middle" font-size="50" fill="#3c3c3c" stroke="#3c3c3c" stroke-width="1">150</text>
<text transform="translate(102.8 459.6) scale(0.1)" text-anchor="middle" font-size="50" fill="#3c3c3c" stroke="#3c3c3c" stroke-width="1">200</text>
<text transform="translate(118.4 459.6) scale(0.1)" text-anchor="middle" font-size="50" fill="#3c3c3c" stroke="#3c3c3c" stroke-width="1">250</text>
<text transform="translate(134 459.6) scale(0.1)" text-anchor="middle" font-size="50" fill="#3c3c3c" stroke="#3c3c3c" stroke-width="1">300</text>
<text transform="translate(149.6 459.6) scale(0.1)" text-anchor="middle" font-size="50" fill="#3c3c3c" stroke="#3c3c3c" stroke-width="1">350</text>
<text transform="translate(165.2 459.6) scale(0.1)" text-anchor="middle" font-size="50" fill="#3c3c3c" stroke="#3c3c3c" stroke-width="1">400</text>
<text transform="translate(180.8 459.6) scale(0.1)" text-anchor="middle" font-size="50" fill="#3c3c3c" stroke="#3c3c3c" stroke-width="1">450</text>
<text transform="translate(196.4 459.6) scale(0.1)" text-anchor="middle" font-size="50" fill="#3c3c3c" stroke="#3c3c3c" stroke-width="1">500</text>
<text transform="translate(38 335) scale(0.1)" text-anchor="end" font-size="50" fill="#3c3c3c" stroke="#3c3c3c" stroke-width="1">10<tspan font-size="36" dy="-24.5">2</tspan></text>
<text transform="translate(38 365) scale(0.1)" text-anchor="end" font-size="50" fill="#3c3c3c" stroke="#3c3c3c" stroke-width="1">10<tspan font-size="36" dy="-24.5">0</tspan></text>
<text transform="translate(38 395) scale(0.1)" text-anchor="end" font-size="50" fill="#3c3c3c" stroke="#3c3c3c" stroke-width="1">10<tspan font-size="36" dy="-24.5">-2</tspan></text>
<text transform="translate(38 425) scale(0.1)" text-anchor="end" font-size="50" fill="#3c3c3c" stroke="#3c3c3c" stroke-width="1">10<tspan font-size="36" dy="-24.5">-4</tspan></text>
<text transform="translate(38 455) scale(0.1)" text-anchor="end" font-size="50" fill="#3c3c3c" stroke="#3c3c3c" stroke-width="1">10<tspan font-size="36" dy="-24.5">-6</tspan></text>
<text transform="translate(118.4 327.2) scale(0.1)" text-anchor="middle" font-size="50" fill="#222" stroke="#222" stroke-width="1" font-weight="bold">F7</text>
<text transform="translate(118.4 466.2) scale(0.1)" text-anchor="middle" font-size="51.5" fill="#3c3c3c" stroke="#3c3c3c" stroke-width="1">Iterations</text>
<text transform="translate(27.2 391) rotate(-90) scale(0.1)" text-anchor="middle" font-size="51.5" fill="#3c3c3c" stroke="#3c3c3c" stroke-width="1">Best score</text>
<g clip-path="url(#cF7)">
<path d="M40.8 357L41.5 363L43 373L44.4 380L46.8 386.3L56.1 386.3L59 387.4L64.9 388.6L71.3 390.4L71.5 398.5L87 398.6L120 398.9L150 399.4L165.4 399.4L181 400.1L194.1 400.1L196.4 404" stroke="#00ff00" stroke-width="1.3" fill="none" stroke-linejoin="round"/>
<polygon points="40.8,354.5 42.7,357 40.8,359.5 38.9,357" fill="#00ff00"/>
<polygon points="56.4,383.9 58.3,386.4 56.4,388.9 54.5,386.4" fill="#00ff00"/>
<polygon points="72,396 73.9,398.5 72,401 70.1,398.5" fill="#00ff00"/>
<polygon points="87.6,396.1 89.5,398.6 87.6,401.1 85.7,398.6" fill="#00ff00"/>
<polygon points="103.1,396.2 105,398.7 103.1,401.2 101.2,398.7" fill="#00ff00"/>
<polygon points="118.7,396.4 120.6,398.9 118.7,401.4 116.8,398.9" fill="#00ff00"/>
<polygon points="134.3,396.6 136.2,399.1 134.3,401.6 132.4,399.1" fill="#00ff00"/>
<polygon points="149.9,396.9 151.8,399.4 149.9,401.9 148,399.4" fill="#00ff00"/>
<polygon points="165.5,396.9 167.4,399.4 165.5,401.9 163.6,399.4" fill="#00ff00"/>
<polygon points="181.1,397.6 183,400.1 181.1,402.6 179.2,400.1" fill="#00ff00"/>
<path d="M40.6 331.2L41.6 340L42.3 355.4L43.2 356.4L43.7 371.6L45.1 372.5L46.2 392.7L48.5 393.9L49.7 399.7L52 404.4L70.7 406.1L71.9 407.3L130.4 407.3L130.6 416.3L150 416.5L151 420.5L196.4 420.7" stroke="#000000" stroke-width="1.1" fill="none" stroke-linejoin="round"/>
<rect x="39.1" y="329.7" width="3" height="3" fill="#000000"/>
<rect x="54.9" y="403.3" width="3" height="3" fill="#000000"/>
<rect x="70.5" y="405.8" width="3" height="3" fill="#000000"/>
<rect x="86.1" y="405.8" width="3" height="3" fill="#000000"/>
<rect x="101.6" y="405.8" width="3" height="3" fill="#000000"/>
<rect x="117.2" y="405.8" width="3" height="3" fill="#000000"/>
<rect x="132.8" y="414.8" width="3" height="3" fill="#000000"/>
<rect x="148.4" y="415" width="3" height="3" fill="#000000"/>
<rect x="164" y="419.1" width="3" height="3" fill="#000000"/>
<rect x="179.6" y="419.1" width="3" height="3" fill="#000000"/>
<path d="M40.9 329.3L41.3 329.8L42.3 355.4L42.8 372.5L43.8 377.5L46.2 389.2L52 390.4L66 391.5L66.6 401L88.8 401.4L89.6 405.1L145.5 405.6L147.3 409.6L149 414.4L196.4 414.6" stroke="#0000ff" stroke-width="1.3" fill="none" stroke-linejoin="round"/>
<polygon points="40.9,326.5 41.7,328.2 43.6,328.4 42.1,329.7 42.5,331.6 40.9,330.6 39.3,331.6 39.7,329.7 38.2,328.4 40.1,328.2" fill="#0000ff"/>
<polygon points="43.9,375.1 44.7,376.9 46.6,377.1 45.1,378.3 45.5,380.2 43.9,379.2 42.2,380.2 42.7,378.3 41.2,377.1 43.1,376.9" fill="#0000ff"/>
<polygon points="47,386.6 47.8,388.3 49.7,388.5 48.2,389.8 48.7,391.6 47,390.7 45.4,391.6 45.8,389.8 44.3,388.5 46.2,388.3" fill="#0000ff"/>
<polygon points="50.1,387.2 50.9,389 52.8,389.1 51.4,390.4 51.8,392.3 50.1,391.3 48.5,392.3 48.9,390.4 47.5,389.1 49.4,389" fill="#0000ff"/>
<polygon points="53.2,387.7 54,389.4 55.9,389.6 54.5,390.9 54.9,392.8 53.2,391.8 51.6,392.8 52,390.9 50.6,389.6 52.5,389.4" fill="#0000ff"/>
<polygon points="56.4,387.9 57.1,389.7 59,389.9 57.6,391.1 58,393 56.4,392 54.7,393 55.1,391.1 53.7,389.9 55.6,389.7" fill="#0000ff"/>
<polygon points="59.5,388.2 60.2,389.9 62.1,390.1 60.7,391.4 61.1,393.3 59.5,392.3 57.8,393.3 58.2,391.4 56.8,390.1 58.7,389.9" fill="#0000ff"/>
<polygon points="62.6,388.4 63.4,390.2 65.3,390.4 63.8,391.6 64.2,393.5 62.6,392.5 61,393.5 61.4,391.6 59.9,390.4 61.8,390.2" fill="#0000ff"/>
<polygon points="65.7,388.7 66.5,390.4 68.4,390.6 67,391.9 67.4,393.7 65.7,392.8 64.1,393.7 64.5,391.9 63.1,390.6 65,390.4" fill="#0000ff"/>
<polygon points="68.8,398.2 69.6,400 71.5,400.2 70.1,401.4 70.5,403.3 68.8,402.3 67.2,403.3 67.6,401.4 66.2,400.2 68.1,400" fill="#0000ff"/>
<polygon points="72,398.3 72.7,400 74.6,400.2 73.2,401.5 73.6,403.4 72,402.4 70.3,403.4 70.7,401.5 69.3,400.2 71.2,400" fill="#0000ff"/>
<polygon points="75.1,398.4 75.8,400.1 77.7,400.3 76.3,401.6 76.7,403.4 75.1,402.5 73.4,403.4 73.8,401.6 72.4,400.3 74.3,400.1" fill="#0000ff"/>
<polygon points="78.2,398.4 79,400.2 80.9,400.3 79.4,401.6 79.8,403.5 78.2,402.5 76.6,403.5 77,401.6 75.5,400.3 77.4,400.2" fill="#0000ff"/>
<polygon points="81.3,398.5 82.1,400.2 84,400.4 82.6,401.7 83,403.5 81.3,402.6 79.7,403.5 80.1,401.7 78.7,400.4 80.6,400.2" fill="#0000ff"/>
<polygon points="84.4,398.5 85.2,400.3 87.1,400.5 85.7,401.7 86.1,403.6 84.4,402.6 82.8,403.6 83.2,401.7 81.8,400.5 83.7,400.3" fill="#0000ff"/>
<polygon points="87.6,398.6 88.3,400.3 90.2,400.5 88.8,401.8 89.2,403.6 87.6,402.7 85.9,403.6 86.3,401.8 84.9,400.5 86.8,400.3" fill="#0000ff"/>
<polygon points="90.7,402.3 91.4,404.1 93.3,404.2 91.9,405.5 92.3,407.4 90.7,406.4 89,407.4 89.4,405.5 88,404.2 89.9,404.1" fill="#0000ff"/>
<polygon points="93.8,402.3 94.6,404.1 96.5,404.3 95,405.5 95.4,407.4 93.8,406.4 92.1,407.4 92.6,405.5 91.1,404.3 93,404.1" fill="#0000ff"/>
<polygon points="96.9,402.4 97.7,404.1 99.6,404.3 98.1,405.6 98.6,407.4 96.9,406.5 95.3,407.4 95.7,405.6 94.2,404.3 96.1,404.1" fill="#0000ff"/>
<polygon points="100,402.4 100.8,404.1 102.7,404.3 101.3,405.6 101.7,407.5 100,406.5 98.4,407.5 98.8,405.6 97.4,404.3 99.3,404.1" fill="#0000ff"/>
<polygon points="103.1,402.4 103.9,404.2 105.8,404.4 104.4,405.6 104.8,407.5 103.1,406.5 101.5,407.5 101.9,405.6 100.5,404.4 102.4,404.2" fill="#0000ff"/>
<polygon points="106.3,402.4 107,404.2 108.9,404.4 107.5,405.7 107.9,407.5 106.3,406.5 104.6,407.5 105,405.7 103.6,404.4 105.5,404.2" fill="#0000ff"/>
<polygon points="109.4,402.5 110.1,404.2 112,404.4 110.6,405.7 111,407.5 109.4,406.6 107.7,407.5 108.1,405.7 106.7,404.4 108.6,404.2" fill="#0000ff"/>
<polygon points="112.5,402.5 113.3,404.3 115.2,404.4 113.7,405.7 114.2,407.6 112.5,406.6 110.9,407.6 111.3,405.7 109.8,404.4 111.7,404.3" fill="#0000ff"/>
<polygon points="115.6,402.5 116.4,404.3 118.3,404.5 116.9,405.7 117.3,407.6 115.6,406.6 114,407.6 114.4,405.7 113,404.5 114.9,404.3" fill="#0000ff"/>
<polygon points="118.7,402.6 119.5,404.3 121.4,404.5 120,405.8 120.4,407.6 118.7,406.7 117.1,407.6 117.5,405.8 116.1,404.5 118,404.3" fill="#0000ff"/>
<polygon points="121.9,402.6 122.6,404.3 124.5,404.5 123.1,405.8 123.5,407.7 121.9,406.7 120.2,407.7 120.6,405.8 119.2,404.5 121.1,404.3" fill="#0000ff"/>
<polygon points="125,402.6 125.7,404.4 127.6,404.6 126.2,405.8 126.6,407.7 125,406.7 123.3,407.7 123.7,405.8 122.3,404.6 124.2,404.4" fill="#0000ff"/>
<polygon points="128.1,402.6 128.9,404.4 130.8,404.6 129.3,405.8 129.7,407.7 128.1,406.7 126.5,407.7 126.9,405.8 125.4,404.6 127.3,404.4" fill="#0000ff"/>
<polygon points="131.2,402.7 132,404.4 133.9,404.6 132.5,405.9 132.9,407.7 131.2,406.8 129.6,407.7 130,405.9 128.6,404.6 130.5,404.4" fill="#0000ff"/>
<polygon points="134.3,402.7 135.1,404.4 137,404.6 135.6,405.9 136,407.8 134.3,406.8 132.7,407.8 133.1,405.9 131.7,404.6 133.6,404.4" fill="#0000ff"/>
<polygon points="137.5,402.7 138.2,404.5 140.1,404.7 138.7,405.9 139.1,407.8 137.5,406.8 135.8,407.8 136.2,405.9 134.8,404.7 136.7,404.5" fill="#0000ff"/>
<polygon points="140.6,402.8 141.3,404.5 143.2,404.7 141.8,406 142.2,407.8 140.6,406.9 138.9,407.8 139.3,406 137.9,404.7 139.8,404.5" fill="#0000ff"/>
<polygon points="143.7,402.8 144.5,404.5 146.4,404.7 144.9,406 145.3,407.8 143.7,406.9 142,407.8 142.5,406 141,404.7 142.9,404.5" fill="#0000ff"/>
<polygon points="146.8,405.7 147.6,407.5 149.5,407.6 148,408.9 148.5,410.8 146.8,409.8 145.2,410.8 145.6,408.9 144.1,407.6 146,407.5" fill="#0000ff"/>
<polygon points="149.9,411.6 150.7,413.4 152.6,413.5 151.2,414.8 151.6,416.7 149.9,415.7 148.3,416.7 148.7,414.8 147.3,413.5 149.2,413.4" fill="#0000ff"/>
<polygon points="153,411.6 153.8,413.4 155.7,413.6 154.3,414.8 154.7,416.7 153,415.7 151.4,416.7 151.8,414.8 150.4,413.6 152.3,413.4" fill="#0000ff"/>
<polygon points="156.2,411.6 156.9,413.4 158.8,413.6 157.4,414.8 157.8,416.7 156.2,415.7 154.5,416.7 154.9,414.8 153.5,413.6 155.4,413.4" fill="#0000ff"/>
<polygon points="159.3,411.6 160.1,413.4 161.9,413.6 160.5,414.8 160.9,416.7 159.3,415.7 157.6,416.7 158,414.8 156.6,413.6 158.5,413.4" fill="#0000ff"/>
<polygon points="162.4,411.7 163.2,413.4 165.1,413.6 163.6,414.9 164.1,416.7 162.4,415.8 160.8,416.7 161.2,414.9 159.7,413.6 161.6,413.4" fill="#0000ff"/>
<polygon points="165.5,411.7 166.3,413.4 168.2,413.6 166.8,414.9 167.2,416.7 165.5,415.8 163.9,416.7 164.3,414.9 162.9,413.6 164.8,413.4" fill="#0000ff"/>
<polygon points="168.6,411.7 169.4,413.4 171.3,413.6 169.9,414.9 170.3,416.7 168.6,415.8 167,416.7 167.4,414.9 166,413.6 167.9,413.4" fill="#0000ff"/>
<polygon points="171.8,411.7 172.5,413.4 174.4,413.6 173,414.9 173.4,416.8 171.8,415.8 170.1,416.8 170.5,414.9 169.1,413.6 171,413.4" fill="#0000ff"/>
<polygon points="174.9,411.7 175.6,413.5 177.5,413.6 176.1,414.9 176.5,416.8 174.9,415.8 173.2,416.8 173.6,414.9 172.2,413.6 174.1,413.5" fill="#0000ff"/>
<polygon points="178,411.7 178.8,413.5 180.7,413.7 179.2,414.9 179.6,416.8 178,415.8 176.4,416.8 176.8,414.9 175.3,413.7 177.2,413.5" fill="#0000ff"/>
<polygon points="181.1,411.7 181.9,413.5 183.8,413.7 182.4,414.9 182.8,416.8 181.1,415.8 179.5,416.8 179.9,414.9 178.5,413.7 180.4,413.5" fill="#0000ff"/>
<polygon points="184.2,411.7 185,413.5 186.9,413.7 185.5,415 185.9,416.8 184.2,415.8 182.6,416.8 183,415 181.6,413.7 183.5,413.5" fill="#0000ff"/>
<polygon points="187.4,411.8 188.1,413.5 190,413.7 188.6,415 189,416.8 187.4,415.9 185.7,416.8 186.1,415 184.7,413.7 186.6,413.5" fill="#0000ff"/>
<polygon points="190.5,411.8 191.2,413.5 193.1,413.7 191.7,415 192.1,416.8 190.5,415.9 188.8,416.8 189.2,415 187.8,413.7 189.7,413.5" fill="#0000ff"/>
<polygon points="193.6,411.8 194.4,413.5 196.3,413.7 194.8,415 195.2,416.9 193.6,415.9 191.9,416.9 192.4,415 190.9,413.7 192.8,413.5" fill="#0000ff"/>
<path d="M40.6 379.9L41.5 389.2L45 392.1L46.2 400.9L54.4 400.9L55.5 406.1L60.2 406.7L60.8 417.5L196.4 417.8" stroke="#00ffff" stroke-width="1.3" fill="none" stroke-linejoin="round"/>
<polygon points="40.6,377.4 42.5,379.9 40.6,382.4 38.7,379.9" fill="#00ffff"/>
<polygon points="43.9,388.7 45.8,391.2 43.9,393.7 42,391.2" fill="#00ffff"/>
<polygon points="47,398.4 48.9,400.9 47,403.4 45.1,400.9" fill="#00ffff"/>
<polygon points="50.1,398.4 52,400.9 50.1,403.4 48.2,400.9" fill="#00ffff"/>
<polygon points="53.2,398.4 55.1,400.9 53.2,403.4 51.3,400.9" fill="#00ffff"/>
<polygon points="56.4,403.7 58.3,406.2 56.4,408.7 54.5,406.2" fill="#00ffff"/>
<polygon points="59.5,404.1 61.4,406.6 59.5,409.1 57.6,406.6" fill="#00ffff"/>
<polygon points="62.6,415 64.5,417.5 62.6,420 60.7,417.5" fill="#00ffff"/>
<polygon points="65.7,415 67.6,417.5 65.7,420 63.8,417.5" fill="#00ffff"/>
<polygon points="68.8,415 70.7,417.5 68.8,420 66.9,417.5" fill="#00ffff"/>
<polygon points="72,415 73.9,417.5 72,420 70.1,417.5" fill="#00ffff"/>
<polygon points="75.1,415 77,417.5 75.1,420 73.2,417.5" fill="#00ffff"/>
<polygon points="78.2,415 80.1,417.5 78.2,420 76.3,417.5" fill="#00ffff"/>
<polygon points="81.3,415 83.2,417.5 81.3,420 79.4,417.5" fill="#00ffff"/>
<polygon points="84.4,415.1 86.3,417.6 84.4,420.1 82.5,417.6" fill="#00ffff"/>
<polygon points="87.6,415.1 89.5,417.6 87.6,420.1 85.7,417.6" fill="#00ffff"/>
<polygon points="90.7,415.1 92.6,417.6 90.7,420.1 88.8,417.6" fill="#00ffff"/>
<polygon points="93.8,415.1 95.7,417.6 93.8,420.1 91.9,417.6" fill="#00ffff"/>
<polygon points="96.9,415.1 98.8,417.6 96.9,420.1 95,417.6" fill="#00ffff"/>
<polygon points="100,415.1 101.9,417.6 100,420.1 98.1,417.6" fill="#00ffff"/>
<polygon points="103.1,415.1 105,417.6 103.1,420.1 101.2,417.6" fill="#00ffff"/>
<polygon points="106.3,415.1 108.2,417.6 106.3,420.1 104.4,417.6" fill="#00ffff"/>
<polygon points="109.4,415.1 111.3,417.6 109.4,420.1 107.5,417.6" fill="#00ffff"/>
<polygon points="112.5,415.1 114.4,417.6 112.5,420.1 110.6,417.6" fill="#00ffff"/>
<polygon points="115.6,415.1 117.5,417.6 115.6,420.1 113.7,417.6" fill="#00ffff"/>
<polygon points="118.7,415.1 120.6,417.6 118.7,420.1 116.8,417.6" fill="#00ffff"/>
<polygon points="121.9,415.1 123.8,417.6 121.9,420.1 120,417.6" fill="#00ffff"/>
<polygon points="125,415.1 126.9,417.6 125,420.1 123.1,417.6" fill="#00ffff"/>
<polygon points="128.1,415.1 130,417.6 128.1,420.1 126.2,417.6" fill="#00ffff"/>
<polygon points="131.2,415.2 133.1,417.7 131.2,420.2 129.3,417.7" fill="#00ffff"/>
<polygon points="134.3,415.2 136.2,417.7 134.3,420.2 132.4,417.7" fill="#00ffff"/>
<polygon points="137.5,415.2 139.4,417.7 137.5,420.2 135.6,417.7" fill="#00ffff"/>
<polygon points="140.6,415.2 142.5,417.7 140.6,420.2 138.7,417.7" fill="#00ffff"/>
<polygon points="143.7,415.2 145.6,417.7 143.7,420.2 141.8,417.7" fill="#00ffff"/>
<polygon points="146.8,415.2 148.7,417.7 146.8,420.2 144.9,417.7" fill="#00ffff"/>
<polygon points="149.9,415.2 151.8,417.7 149.9,420.2 148,417.7" fill="#00ffff"/>
<polygon points="153,415.2 154.9,417.7 153,420.2 151.1,417.7" fill="#00ffff"/>
<polygon points="156.2,415.2 158.1,417.7 156.2,420.2 154.3,417.7" fill="#00ffff"/>
<polygon points="159.3,415.2 161.2,417.7 159.3,420.2 157.4,417.7" fill="#00ffff"/>
<polygon points="162.4,415.2 164.3,417.7 162.4,420.2 160.5,417.7" fill="#00ffff"/>
<polygon points="165.5,415.2 167.4,417.7 165.5,420.2 163.6,417.7" fill="#00ffff"/>
<polygon points="168.6,415.2 170.5,417.7 168.6,420.2 166.7,417.7" fill="#00ffff"/>
<polygon points="171.8,415.2 173.7,417.7 171.8,420.2 169.9,417.7" fill="#00ffff"/>
<polygon points="174.9,415.3 176.8,417.8 174.9,420.3 173,417.8" fill="#00ffff"/>
<polygon points="178,415.3 179.9,417.8 178,420.3 176.1,417.8" fill="#00ffff"/>
<polygon points="181.1,415.3 183,417.8 181.1,420.3 179.2,417.8" fill="#00ffff"/>
<polygon points="184.2,415.3 186.1,417.8 184.2,420.3 182.3,417.8" fill="#00ffff"/>
<polygon points="187.4,415.3 189.3,417.8 187.4,420.3 185.5,417.8" fill="#00ffff"/>
<polygon points="190.5,415.3 192.4,417.8 190.5,420.3 188.6,417.8" fill="#00ffff"/>
<polygon points="193.6,415.3 195.5,417.8 193.6,420.3 191.7,417.8" fill="#00ffff"/>
<path d="M40.6 368.8L41.5 391.5L43.8 393.3L46.2 397.4L50.3 398.5L52 403.8L71.9 404.4L73 407.5L93.1 407.7L93.6 419.6L162.4 420L164.2 424.4L187.5 424.4L188.8 432.3L196.4 432.3" stroke="#ff0000" stroke-width="1.3" fill="none" stroke-linejoin="round"/>
<polygon points="42.9,368.8 38.8,366.5 38.8,371.1" fill="#ff0000"/>
<polygon points="46.2,393.5 42.1,391.2 42.1,395.8" fill="#ff0000"/>
<polygon points="49.3,397.6 45.2,395.3 45.2,399.9" fill="#ff0000"/>
<polygon points="52.4,398.5 48.3,396.2 48.3,400.8" fill="#ff0000"/>
<polygon points="55.5,403.8 51.4,401.5 51.4,406.1" fill="#ff0000"/>
<polygon points="58.7,403.9 54.6,401.6 54.6,406.2" fill="#ff0000"/>
<polygon points="61.8,404 57.7,401.7 57.7,406.3" fill="#ff0000"/>
<polygon points="64.9,404.1 60.8,401.8 60.8,406.4" fill="#ff0000"/>
<polygon points="68,404.2 63.9,401.9 63.9,406.5" fill="#ff0000"/>
<polygon points="71.1,404.3 67,402 67,406.6" fill="#ff0000"/>
<polygon points="74.3,404.6 70.2,402.3 70.2,406.9" fill="#ff0000"/>
<polygon points="77.4,407.5 73.3,405.2 73.3,409.8" fill="#ff0000"/>
<polygon points="80.5,407.6 76.4,405.3 76.4,409.9" fill="#ff0000"/>
<polygon points="83.6,407.6 79.5,405.3 79.5,409.9" fill="#ff0000"/>
<polygon points="86.7,407.6 82.6,405.3 82.6,409.9" fill="#ff0000"/>
<polygon points="89.9,407.6 85.8,405.3 85.8,409.9" fill="#ff0000"/>
<polygon points="93,407.7 88.9,405.4 88.9,410" fill="#ff0000"/>
<polygon points="96.1,419.6 92,417.3 92,421.9" fill="#ff0000"/>
<polygon points="99.2,419.6 95.1,417.3 95.1,421.9" fill="#ff0000"/>
<polygon points="102.3,419.6 98.2,417.3 98.2,421.9" fill="#ff0000"/>
<polygon points="105.4,419.7 101.3,417.4 101.3,422" fill="#ff0000"/>
<polygon points="108.6,419.7 104.5,417.4 104.5,422" fill="#ff0000"/>
<polygon points="111.7,419.7 107.6,417.4 107.6,422" fill="#ff0000"/>
<polygon points="114.8,419.7 110.7,417.4 110.7,422" fill="#ff0000"/>
<polygon points="117.9,419.7 113.8,417.4 113.8,422" fill="#ff0000"/>
<polygon points="121,419.7 116.9,417.4 116.9,422" fill="#ff0000"/>
<polygon points="124.2,419.8 120.1,417.5 120.1,422.1" fill="#ff0000"/>
<polygon points="127.3,419.8 123.2,417.5 123.2,422.1" fill="#ff0000"/>
<polygon points="130.4,419.8 126.3,417.5 126.3,422.1" fill="#ff0000"/>
<polygon points="133.5,419.8 129.4,417.5 129.4,422.1" fill="#ff0000"/>
<polygon points="136.6,419.8 132.5,417.5 132.5,422.1" fill="#ff0000"/>
<polygon points="139.8,419.9 135.7,417.6 135.7,422.2" fill="#ff0000"/>
<polygon points="142.9,419.9 138.8,417.6 138.8,422.2" fill="#ff0000"/>
<polygon points="146,419.9 141.9,417.6 141.9,422.2" fill="#ff0000"/>
<polygon points="149.1,419.9 145,417.6 145,422.2" fill="#ff0000"/>
<polygon points="152.2,419.9 148.1,417.6 148.1,422.2" fill="#ff0000"/>
<polygon points="155.3,419.9 151.2,417.6 151.2,422.2" fill="#ff0000"/>
<polygon points="158.5,420 154.4,417.7 154.4,422.3" fill="#ff0000"/>
<polygon points="161.6,420 157.5,417.7 157.5,422.3" fill="#ff0000"/>
<polygon points="164.7,420 160.6,417.7 160.6,422.3" fill="#ff0000"/>
<polygon points="167.8,424.4 163.7,422.1 163.7,426.7" fill="#ff0000"/>
<polygon points="170.9,424.4 166.8,422.1 166.8,426.7" fill="#ff0000"/>
<polygon points="174.1,424.4 170,422.1 170,426.7" fill="#ff0000"/>
<polygon points="177.2,424.4 173.1,422.1 173.1,426.7" fill="#ff0000"/>
<polygon points="180.3,424.4 176.2,422.1 176.2,426.7" fill="#ff0000"/>
<polygon points="183.4,424.4 179.3,422.1 179.3,426.7" fill="#ff0000"/>
<polygon points="186.5,424.4 182.4,422.1 182.4,426.7" fill="#ff0000"/>
<polygon points="189.7,424.4 185.6,422.1 185.6,426.7" fill="#ff0000"/>
<polygon points="192.8,432.3 188.7,430 188.7,434.6" fill="#ff0000"/>
<polygon points="195.9,432.3 191.8,430 191.8,434.6" fill="#ff0000"/>
</g>
<rect x="159.9" y="333.6" width="32.9" height="30.9" fill="#fff" stroke="#aaa" stroke-width="0.7"/>
<path d="M161.2 337.1H175.7" stroke="#00ff00" stroke-width="1"/>
<polygon points="168.5,334.3 170.6,337.1 168.5,339.9 166.3,337.1" fill="#00ff00"/>
<text transform="translate(177.1 338.6) scale(0.1)" text-anchor="start" font-size="42" fill="#3c3c3c" stroke="#3c3c3c" stroke-width="1">DBO</text>
<path d="M161.2 343H175.7" stroke="#000000" stroke-width="1"/>
<rect x="166.8" y="341.3" width="3.4" height="3.4" fill="#000000"/>
<text transform="translate(177.1 344.5) scale(0.1)" text-anchor="start" font-size="42" fill="#3c3c3c" stroke="#3c3c3c" stroke-width="1">IDBO-1</text>
<path d="M161.2 348.9H175.7" stroke="#0000ff" stroke-width="1"/>
<polygon points="168.5,345.8 169.3,347.7 171.4,347.9 169.8,349.4 170.3,351.4 168.5,350.4 166.6,351.4 167.1,349.4 165.5,347.9 167.6,347.7" fill="#0000ff"/>
<text transform="translate(177.1 350.4) scale(0.1)" text-anchor="start" font-size="42" fill="#3c3c3c" stroke="#3c3c3c" stroke-width="1">IDBO-2</text>
<path d="M161.2 354.8H175.7" stroke="#00ffff" stroke-width="1"/>
<polygon points="168.5,352 170.6,354.8 168.5,357.6 166.3,354.8" fill="#00ffff"/>
<text transform="translate(177.1 356.3) scale(0.1)" text-anchor="start" font-size="42" fill="#3c3c3c" stroke="#3c3c3c" stroke-width="1">IDBO-3</text>
<path d="M161.2 360.7H175.7" stroke="#ff0000" stroke-width="1"/>
<polygon points="171,360.7 166.4,358.1 166.4,363.3" fill="#ff0000"/>
<text transform="translate(177.1 362.2) scale(0.1)" text-anchor="start" font-size="42" fill="#3c3c3c" stroke="#3c3c3c" stroke-width="1">IDBO</text>
</g>
<g>
<clipPath id="cF8"><rect x="265" y="326.7" width="161.9" height="128.5"/></clipPath>
<rect x="268" y="329.7" width="155.9" height="122.5" fill="none" stroke="#b0b0b0" stroke-width="0.95"/>
<path d="M268 452.2v-1.5M268 329.7v1.5M283.6 452.2v-1.5M283.6 329.7v1.5M299.1 452.2v-1.5M299.1 329.7v1.5M314.7 452.2v-1.5M314.7 329.7v1.5M330.3 452.2v-1.5M330.3 329.7v1.5M345.9 452.2v-1.5M345.9 329.7v1.5M361.5 452.2v-1.5M361.5 329.7v1.5M377.1 452.2v-1.5M377.1 329.7v1.5M392.7 452.2v-1.5M392.7 329.7v1.5M408.3 452.2v-1.5M408.3 329.7v1.5M423.9 452.2v-1.5M423.9 329.7v1.5M268 329.7h1.5M423.9 329.7h-1.5M268 391h1.5M423.9 391h-1.5M268 452.2h1.5M423.9 452.2h-1.5M268 348.1h0.8M423.9 348.1h-0.8M268 358.9h0.8M423.9 358.9h-0.8M268 366.6h0.8M423.9 366.6h-0.8M268 372.5h0.8M423.9 372.5h-0.8M268 377.4h0.8M423.9 377.4h-0.8M268 381.5h0.8M423.9 381.5h-0.8M268 385h0.8M423.9 385h-0.8M268 388.2h0.8M423.9 388.2h-0.8M268 409.4h0.8M423.9 409.4h-0.8M268 420.2h0.8M423.9 420.2h-0.8M268 427.8h0.8M423.9 427.8h-0.8M268 433.8h0.8M423.9 433.8h-0.8M268 438.6h0.8M423.9 438.6h-0.8M268 442.7h0.8M423.9 442.7h-0.8M268 446.3h0.8M423.9 446.3h-0.8M268 449.4h0.8M423.9 449.4h-0.8" stroke="#777" stroke-width="0.7" fill="none"/>
<text transform="translate(268 459.6) scale(0.1)" text-anchor="middle" font-size="50" fill="#3c3c3c" stroke="#3c3c3c" stroke-width="1">0</text>
<text transform="translate(283.6 459.6) scale(0.1)" text-anchor="middle" font-size="50" fill="#3c3c3c" stroke="#3c3c3c" stroke-width="1">50</text>
<text transform="translate(299.1 459.6) scale(0.1)" text-anchor="middle" font-size="50" fill="#3c3c3c" stroke="#3c3c3c" stroke-width="1">100</text>
<text transform="translate(314.7 459.6) scale(0.1)" text-anchor="middle" font-size="50" fill="#3c3c3c" stroke="#3c3c3c" stroke-width="1">150</text>
<text transform="translate(330.3 459.6) scale(0.1)" text-anchor="middle" font-size="50" fill="#3c3c3c" stroke="#3c3c3c" stroke-width="1">200</text>
<text transform="translate(345.9 459.6) scale(0.1)" text-anchor="middle" font-size="50" fill="#3c3c3c" stroke="#3c3c3c" stroke-width="1">250</text>
<text transform="translate(361.5 459.6) scale(0.1)" text-anchor="middle" font-size="50" fill="#3c3c3c" stroke="#3c3c3c" stroke-width="1">300</text>
<text transform="translate(377.1 459.6) scale(0.1)" text-anchor="middle" font-size="50" fill="#3c3c3c" stroke="#3c3c3c" stroke-width="1">350</text>
<text transform="translate(392.7 459.6) scale(0.1)" text-anchor="middle" font-size="50" fill="#3c3c3c" stroke="#3c3c3c" stroke-width="1">400</text>
<text transform="translate(408.3 459.6) scale(0.1)" text-anchor="middle" font-size="50" fill="#3c3c3c" stroke="#3c3c3c" stroke-width="1">450</text>
<text transform="translate(423.9 459.6) scale(0.1)" text-anchor="middle" font-size="50" fill="#3c3c3c" stroke="#3c3c3c" stroke-width="1">500</text>
<text transform="translate(265.5 332.5) scale(0.1)" text-anchor="end" font-size="50" fill="#3c3c3c" stroke="#3c3c3c" stroke-width="1">-10<tspan font-size="36" dy="-24.5">3</tspan></text>
<text transform="translate(265.5 393.7) scale(0.1)" text-anchor="end" font-size="50" fill="#3c3c3c" stroke="#3c3c3c" stroke-width="1">-10<tspan font-size="36" dy="-24.5">4</tspan></text>
<text transform="translate(265.5 455) scale(0.1)" text-anchor="end" font-size="50" fill="#3c3c3c" stroke="#3c3c3c" stroke-width="1">-10<tspan font-size="36" dy="-24.5">5</tspan></text>
<text transform="translate(345.9 327.2) scale(0.1)" text-anchor="middle" font-size="50" fill="#222" stroke="#222" stroke-width="1" font-weight="bold">F8</text>
<text transform="translate(345.9 466.2) scale(0.1)" text-anchor="middle" font-size="51.5" fill="#3c3c3c" stroke="#3c3c3c" stroke-width="1">Iterations</text>
<text transform="translate(254 391) rotate(-90) scale(0.1)" text-anchor="middle" font-size="51.5" fill="#3c3c3c" stroke="#3c3c3c" stroke-width="1">Best score</text>
<g clip-path="url(#cF8)">
<path d="M268.3 359L270.7 361.9L273.6 367.6L277.4 376.1L282.1 379.9L290 381L423.9 381.4" stroke="#00ff00" stroke-width="1.3" fill="none" stroke-linejoin="round"/>
<polygon points="268.3,356.5 270.2,359 268.3,361.5 266.4,359" fill="#00ff00"/>
<polygon points="283.9,377.6 285.8,380.1 283.9,382.6 282,380.1" fill="#00ff00"/>
<polygon points="299.5,378.5 301.4,381 299.5,383.5 297.6,381" fill="#00ff00"/>
<polygon points="315.1,378.6 317,381.1 315.1,383.6 313.2,381.1" fill="#00ff00"/>
<polygon points="330.6,378.6 332.5,381.1 330.6,383.6 328.7,381.1" fill="#00ff00"/>
<polygon points="346.2,378.7 348.1,381.2 346.2,383.7 344.3,381.2" fill="#00ff00"/>
<polygon points="361.8,378.7 363.7,381.2 361.8,383.7 359.9,381.2" fill="#00ff00"/>
<polygon points="377.4,378.8 379.3,381.3 377.4,383.8 375.5,381.3" fill="#00ff00"/>
<polygon points="393,378.8 394.9,381.3 393,383.8 391.1,381.3" fill="#00ff00"/>
<polygon points="408.6,378.9 410.5,381.4 408.6,383.9 406.7,381.4" fill="#00ff00"/>
<path d="M268.3 357.1L270.7 366.6L273.6 373.3L279.3 378L283.5 379.4L288.8 380.4L387.3 380.8L387.6 384L423.9 384.2" stroke="#000000" stroke-width="1.1" fill="none" stroke-linejoin="round"/>
<circle cx="268.3" cy="357.1" r="1.7" fill="#000000"/>
<circle cx="283.9" cy="379.5" r="1.7" fill="#000000"/>
<circle cx="299.5" cy="380.4" r="1.7" fill="#000000"/>
<circle cx="315.1" cy="380.5" r="1.7" fill="#000000"/>
<circle cx="330.6" cy="380.6" r="1.7" fill="#000000"/>
<circle cx="346.2" cy="380.6" r="1.7" fill="#000000"/>
<circle cx="361.8" cy="380.7" r="1.7" fill="#000000"/>
<circle cx="377.4" cy="380.8" r="1.7" fill="#000000"/>
<circle cx="393" cy="384" r="1.7" fill="#000000"/>
<circle cx="408.6" cy="384.1" r="1.7" fill="#000000"/>
<path d="M268.3 349.5L269.3 358L270.7 369.5L273.6 376.1L279.3 380.4L288.8 382.3L325 383.5L423.9 384" stroke="#0000ff" stroke-width="1.3" fill="none" stroke-linejoin="round"/>
<polygon points="268.3,346.7 269.1,348.4 271,348.6 269.5,349.9 269.9,351.8 268.3,350.8 266.7,351.8 267.1,349.9 265.6,348.6 267.5,348.4" fill="#0000ff"/>
<polygon points="271.4,368.3 272.2,370 274.1,370.2 272.6,371.5 273,373.3 271.4,372.4 269.7,373.3 270.2,371.5 268.7,370.2 270.6,370" fill="#0000ff"/>
<polygon points="274.5,374 275.3,375.7 277.2,375.9 275.7,377.2 276.2,379.1 274.5,378.1 272.9,379.1 273.3,377.2 271.8,375.9 273.7,375.7" fill="#0000ff"/>
<polygon points="277.6,376.3 278.4,378.1 280.3,378.3 278.9,379.5 279.3,381.4 277.6,380.4 276,381.4 276.4,379.5 275,378.3 276.9,378.1" fill="#0000ff"/>
<polygon points="280.7,377.9 281.5,379.6 283.4,379.8 282,381.1 282.4,383 280.7,382 279.1,383 279.5,381.1 278.1,379.8 280,379.6" fill="#0000ff"/>
<polygon points="283.9,378.5 284.6,380.3 286.5,380.4 285.1,381.7 285.5,383.6 283.9,382.6 282.2,383.6 282.6,381.7 281.2,380.4 283.1,380.3" fill="#0000ff"/>
<polygon points="287,379.1 287.7,380.9 289.6,381.1 288.2,382.3 288.6,384.2 287,383.2 285.3,384.2 285.7,382.3 284.3,381.1 286.2,380.9" fill="#0000ff"/>
<polygon points="290.1,379.5 290.9,381.3 292.8,381.5 291.3,382.7 291.7,384.6 290.1,383.6 288.5,384.6 288.9,382.7 287.4,381.5 289.3,381.3" fill="#0000ff"/>
<polygon points="293.2,379.6 294,381.4 295.9,381.6 294.5,382.8 294.9,384.7 293.2,383.7 291.6,384.7 292,382.8 290.6,381.6 292.5,381.4" fill="#0000ff"/>
<polygon points="296.3,379.7 297.1,381.5 299,381.7 297.6,383 298,384.8 296.3,383.8 294.7,384.8 295.1,383 293.7,381.7 295.6,381.5" fill="#0000ff"/>
<polygon points="299.5,379.9 300.2,381.6 302.1,381.8 300.7,383.1 301.1,384.9 299.5,384 297.8,384.9 298.2,383.1 296.8,381.8 298.7,381.6" fill="#0000ff"/>
<polygon points="302.6,380 303.3,381.7 305.2,381.9 303.8,383.2 304.2,385 302.6,384.1 300.9,385 301.3,383.2 299.9,381.9 301.8,381.7" fill="#0000ff"/>
<polygon points="305.7,380.1 306.5,381.8 308.4,382 306.9,383.3 307.3,385.1 305.7,384.2 304.1,385.1 304.5,383.3 303,382 304.9,381.8" fill="#0000ff"/>
<polygon points="308.8,380.2 309.6,381.9 311.5,382.1 310.1,383.4 310.5,385.2 308.8,384.3 307.2,385.2 307.6,383.4 306.2,382.1 308.1,381.9" fill="#0000ff"/>
<polygon points="311.9,380.3 312.7,382 314.6,382.2 313.2,383.5 313.6,385.3 311.9,384.4 310.3,385.3 310.7,383.5 309.3,382.2 311.2,382" fill="#0000ff"/>
<polygon points="315.1,380.4 315.8,382.1 317.7,382.3 316.3,383.6 316.7,385.4 315.1,384.5 313.4,385.4 313.8,383.6 312.4,382.3 314.3,382.1" fill="#0000ff"/>
<polygon points="318.2,380.5 318.9,382.2 320.8,382.4 319.4,383.7 319.8,385.5 318.2,384.6 316.5,385.5 316.9,383.7 315.5,382.4 317.4,382.2" fill="#0000ff"/>
<polygon points="321.3,380.6 322.1,382.3 324,382.5 322.5,383.8 322.9,385.6 321.3,384.7 319.6,385.6 320.1,383.8 318.6,382.5 320.5,382.3" fill="#0000ff"/>
<polygon points="324.4,380.7 325.2,382.4 327.1,382.6 325.6,383.9 326.1,385.7 324.4,384.8 322.8,385.7 323.2,383.9 321.7,382.6 323.6,382.4" fill="#0000ff"/>
<polygon points="327.5,380.7 328.3,382.5 330.2,382.6 328.8,383.9 329.2,385.8 327.5,384.8 325.9,385.8 326.3,383.9 324.9,382.6 326.8,382.5" fill="#0000ff"/>
<polygon points="330.6,380.7 331.4,382.5 333.3,382.7 331.9,383.9 332.3,385.8 330.6,384.8 329,385.8 329.4,383.9 328,382.7 329.9,382.5" fill="#0000ff"/>
<polygon points="333.8,380.7 334.5,382.5 336.4,382.7 335,383.9 335.4,385.8 333.8,384.8 332.1,385.8 332.5,383.9 331.1,382.7 333,382.5" fill="#0000ff"/>
<polygon points="336.9,380.8 337.6,382.5 339.5,382.7 338.1,384 338.5,385.8 336.9,384.9 335.2,385.8 335.6,384 334.2,382.7 336.1,382.5" fill="#0000ff"/>
<polygon points="340,380.8 340.8,382.5 342.7,382.7 341.2,384 341.7,385.8 340,384.9 338.4,385.8 338.8,384 337.3,382.7 339.2,382.5" fill="#0000ff"/>
<polygon points="343.1,380.8 343.9,382.5 345.8,382.7 344.4,384 344.8,385.9 343.1,384.9 341.5,385.9 341.9,384 340.5,382.7 342.4,382.5" fill="#0000ff"/>
<polygon points="346.2,380.8 347,382.6 348.9,382.7 347.5,384 347.9,385.9 346.2,384.9 344.6,385.9 345,384 343.6,382.7 345.5,382.6" fill="#0000ff"/>
<polygon points="349.4,380.8 350.1,382.6 352,382.8 350.6,384 351,385.9 349.4,384.9 347.7,385.9 348.1,384 346.7,382.8 348.6,382.6" fill="#0000ff"/>
<polygon points="352.5,380.8 353.2,382.6 355.1,382.8 353.7,384 354.1,385.9 352.5,384.9 350.8,385.9 351.2,384 349.8,382.8 351.7,382.6" fill="#0000ff"/>
<polygon points="355.6,380.9 356.4,382.6 358.3,382.8 356.8,384.1 357.2,385.9 355.6,385 354,385.9 354.4,384.1 352.9,382.8 354.8,382.6" fill="#0000ff"/>
<polygon points="358.7,380.9 359.5,382.6 361.4,382.8 360,384.1 360.4,385.9 358.7,385 357.1,385.9 357.5,384.1 356.1,382.8 358,382.6" fill="#0000ff"/>
<polygon points="361.8,380.9 362.6,382.6 364.5,382.8 363.1,384.1 363.5,386 361.8,385 360.2,386 360.6,384.1 359.2,382.8 361.1,382.6" fill="#0000ff"/>
<polygon points="365,380.9 365.7,382.7 367.6,382.8 366.2,384.1 366.6,386 365,385 363.3,386 363.7,384.1 362.3,382.8 364.2,382.7" fill="#0000ff"/>
<polygon points="368.1,380.9 368.8,382.7 370.7,382.9 369.3,384.1 369.7,386 368.1,385 366.4,386 366.8,384.1 365.4,382.9 367.3,382.7" fill="#0000ff"/>
<polygon points="371.2,380.9 372,382.7 373.9,382.9 372.4,384.1 372.8,386 371.2,385 369.5,386 370,384.1 368.5,382.9 370.4,382.7" fill="#0000ff"/>
<polygon points="374.3,380.9 375.1,382.7 377,382.9 375.5,384.2 376,386 374.3,385 372.7,386 373.1,384.2 371.6,382.9 373.5,382.7" fill="#0000ff"/>
<polygon points="377.4,381 378.2,382.7 380.1,382.9 378.7,384.2 379.1,386 377.4,385.1 375.8,386 376.2,384.2 374.8,382.9 376.7,382.7" fill="#0000ff"/>
<polygon points="380.5,381 381.3,382.7 383.2,382.9 381.8,384.2 382.2,386 380.5,385.1 378.9,386 379.3,384.2 377.9,382.9 379.8,382.7" fill="#0000ff"/>
<polygon points="383.7,381 384.4,382.7 386.3,382.9 384.9,384.2 385.3,386.1 383.7,385.1 382,386.1 382.4,384.2 381,382.9 382.9,382.7" fill="#0000ff"/>
<polygon points="386.8,381 387.6,382.8 389.4,382.9 388,384.2 388.4,386.1 386.8,385.1 385.1,386.1 385.5,384.2 384.1,382.9 386,382.8" fill="#0000ff"/>
<polygon points="389.9,381 390.7,382.8 392.6,383 391.1,384.2 391.6,386.1 389.9,385.1 388.3,386.1 388.7,384.2 387.2,383 389.1,382.8" fill="#0000ff"/>
<polygon points="393,381 393.8,382.8 395.7,383 394.3,384.2 394.7,386.1 393,385.1 391.4,386.1 391.8,384.2 390.4,383 392.3,382.8" fill="#0000ff"/>
<polygon points="396.1,381.1 396.9,382.8 398.8,383 397.4,384.3 397.8,386.1 396.1,385.2 394.5,386.1 394.9,384.3 393.5,383 395.4,382.8" fill="#0000ff"/>
<polygon points="399.3,381.1 400,382.8 401.9,383 400.5,384.3 400.9,386.1 399.3,385.2 397.6,386.1 398,384.3 396.6,383 398.5,382.8" fill="#0000ff"/>
<polygon points="402.4,381.1 403.1,382.8 405,383 403.6,384.3 404,386.2 402.4,385.2 400.7,386.2 401.1,384.3 399.7,383 401.6,382.8" fill="#0000ff"/>
<polygon points="405.5,381.1 406.3,382.9 408.2,383 406.7,384.3 407.1,386.2 405.5,385.2 403.9,386.2 404.3,384.3 402.8,383 404.7,382.9" fill="#0000ff"/>
<polygon points="408.6,381.1 409.4,382.9 411.3,383.1 409.9,384.3 410.3,386.2 408.6,385.2 407,386.2 407.4,384.3 406,383.1 407.9,382.9" fill="#0000ff"/>
<polygon points="411.7,381.1 412.5,382.9 414.4,383.1 413,384.3 413.4,386.2 411.7,385.2 410.1,386.2 410.5,384.3 409.1,383.1 411,382.9" fill="#0000ff"/>
<polygon points="414.9,381.2 415.6,382.9 417.5,383.1 416.1,384.4 416.5,386.2 414.9,385.3 413.2,386.2 413.6,384.4 412.2,383.1 414.1,382.9" fill="#0000ff"/>
<polygon points="418,381.2 418.7,382.9 420.6,383.1 419.2,384.4 419.6,386.2 418,385.3 416.3,386.2 416.7,384.4 415.3,383.1 417.2,382.9" fill="#0000ff"/>
<polygon points="421.1,381.2 421.9,382.9 423.8,383.1 422.3,384.4 422.7,386.3 421.1,385.3 419.4,386.3 419.9,384.4 418.4,383.1 420.3,382.9" fill="#0000ff"/>
<path d="M268.3 352.4L269.3 363.8L272.1 371.4L274.5 379L284 384.7L303 386.6L423.9 387" stroke="#00ffff" stroke-width="1.3" fill="none" stroke-linejoin="round"/>
<polygon points="268.3,349.9 270.2,352.4 268.3,354.9 266.4,352.4" fill="#00ffff"/>
<polygon points="271.4,367 273.3,369.5 271.4,372 269.5,369.5" fill="#00ffff"/>
<polygon points="274.5,376.5 276.4,379 274.5,381.5 272.6,379" fill="#00ffff"/>
<polygon points="277.6,378.4 279.5,380.9 277.6,383.4 275.7,380.9" fill="#00ffff"/>
<polygon points="280.7,380.2 282.6,382.7 280.7,385.2 278.8,382.7" fill="#00ffff"/>
<polygon points="283.9,382.1 285.8,384.6 283.9,387.1 282,384.6" fill="#00ffff"/>
<polygon points="287,382.5 288.9,385 287,387.5 285.1,385" fill="#00ffff"/>
<polygon points="290.1,382.8 292,385.3 290.1,387.8 288.2,385.3" fill="#00ffff"/>
<polygon points="293.2,383.1 295.1,385.6 293.2,388.1 291.3,385.6" fill="#00ffff"/>
<polygon points="296.3,383.4 298.2,385.9 296.3,388.4 294.4,385.9" fill="#00ffff"/>
<polygon points="299.5,383.7 301.4,386.2 299.5,388.7 297.6,386.2" fill="#00ffff"/>
<polygon points="302.6,384.1 304.5,386.6 302.6,389.1 300.7,386.6" fill="#00ffff"/>
<polygon points="305.7,384.1 307.6,386.6 305.7,389.1 303.8,386.6" fill="#00ffff"/>
<polygon points="308.8,384.1 310.7,386.6 308.8,389.1 306.9,386.6" fill="#00ffff"/>
<polygon points="311.9,384.1 313.8,386.6 311.9,389.1 310,386.6" fill="#00ffff"/>
<polygon points="315.1,384.1 317,386.6 315.1,389.1 313.2,386.6" fill="#00ffff"/>
<polygon points="318.2,384.2 320.1,386.7 318.2,389.2 316.3,386.7" fill="#00ffff"/>
<polygon points="321.3,384.2 323.2,386.7 321.3,389.2 319.4,386.7" fill="#00ffff"/>
<polygon points="324.4,384.2 326.3,386.7 324.4,389.2 322.5,386.7" fill="#00ffff"/>
<polygon points="327.5,384.2 329.4,386.7 327.5,389.2 325.6,386.7" fill="#00ffff"/>
<polygon points="330.6,384.2 332.5,386.7 330.6,389.2 328.7,386.7" fill="#00ffff"/>
<polygon points="333.8,384.2 335.7,386.7 333.8,389.2 331.9,386.7" fill="#00ffff"/>
<polygon points="336.9,384.2 338.8,386.7 336.9,389.2 335,386.7" fill="#00ffff"/>
<polygon points="340,384.2 341.9,386.7 340,389.2 338.1,386.7" fill="#00ffff"/>
<polygon points="343.1,384.2 345,386.7 343.1,389.2 341.2,386.7" fill="#00ffff"/>
<polygon points="346.2,384.2 348.1,386.7 346.2,389.2 344.3,386.7" fill="#00ffff"/>
<polygon points="349.4,384.3 351.3,386.8 349.4,389.3 347.5,386.8" fill="#00ffff"/>
<polygon points="352.5,384.3 354.4,386.8 352.5,389.3 350.6,386.8" fill="#00ffff"/>
<polygon points="355.6,384.3 357.5,386.8 355.6,389.3 353.7,386.8" fill="#00ffff"/>
<polygon points="358.7,384.3 360.6,386.8 358.7,389.3 356.8,386.8" fill="#00ffff"/>
<polygon points="361.8,384.3 363.7,386.8 361.8,389.3 359.9,386.8" fill="#00ffff"/>
<polygon points="365,384.3 366.9,386.8 365,389.3 363.1,386.8" fill="#00ffff"/>
<polygon points="368.1,384.3 370,386.8 368.1,389.3 366.2,386.8" fill="#00ffff"/>
<polygon points="371.2,384.3 373.1,386.8 371.2,389.3 369.3,386.8" fill="#00ffff"/>
<polygon points="374.3,384.3 376.2,386.8 374.3,389.3 372.4,386.8" fill="#00ffff"/>
<polygon points="377.4,384.3 379.3,386.8 377.4,389.3 375.5,386.8" fill="#00ffff"/>
<polygon points="380.5,384.4 382.4,386.9 380.5,389.4 378.6,386.9" fill="#00ffff"/>
<polygon points="383.7,384.4 385.6,386.9 383.7,389.4 381.8,386.9" fill="#00ffff"/>
<polygon points="386.8,384.4 388.7,386.9 386.8,389.4 384.9,386.9" fill="#00ffff"/>
<polygon points="389.9,384.4 391.8,386.9 389.9,389.4 388,386.9" fill="#00ffff"/>
<polygon points="393,384.4 394.9,386.9 393,389.4 391.1,386.9" fill="#00ffff"/>
<polygon points="396.1,384.4 398,386.9 396.1,389.4 394.2,386.9" fill="#00ffff"/>
<polygon points="399.3,384.4 401.2,386.9 399.3,389.4 397.4,386.9" fill="#00ffff"/>
<polygon points="402.4,384.4 404.3,386.9 402.4,389.4 400.5,386.9" fill="#00ffff"/>
<polygon points="405.5,384.4 407.4,386.9 405.5,389.4 403.6,386.9" fill="#00ffff"/>
<polygon points="408.6,384.4 410.5,386.9 408.6,389.4 406.7,386.9" fill="#00ffff"/>
<polygon points="411.7,384.5 413.6,387 411.7,389.5 409.8,387" fill="#00ffff"/>
<polygon points="414.9,384.5 416.8,387 414.9,389.5 413,387" fill="#00ffff"/>
<polygon points="418,384.5 419.9,387 418,389.5 416.1,387" fill="#00ffff"/>
<polygon points="421.1,384.5 423,387 421.1,389.5 419.2,387" fill="#00ffff"/>
<path d="M268.3 361.4L268.8 391.3L270.2 394.2L273.1 396.1L423.9 397" stroke="#ff0000" stroke-width="1.3" fill="none" stroke-linejoin="round"/>
<polygon points="270.6,361.4 266.5,359.1 266.5,363.7" fill="#ff0000"/>
<polygon points="273.7,395 269.6,392.7 269.6,397.3" fill="#ff0000"/>
<polygon points="276.8,396.1 272.7,393.8 272.7,398.4" fill="#ff0000"/>
<polygon points="279.9,396.1 275.8,393.8 275.8,398.4" fill="#ff0000"/>
<polygon points="283,396.1 278.9,393.8 278.9,398.4" fill="#ff0000"/>
<polygon points="286.2,396.2 282.1,393.9 282.1,398.5" fill="#ff0000"/>
<polygon points="289.3,396.2 285.2,393.9 285.2,398.5" fill="#ff0000"/>
<polygon points="292.4,396.2 288.3,393.9 288.3,398.5" fill="#ff0000"/>
<polygon points="295.5,396.2 291.4,393.9 291.4,398.5" fill="#ff0000"/>
<polygon points="298.6,396.2 294.5,393.9 294.5,398.5" fill="#ff0000"/>
<polygon points="301.8,396.3 297.7,394 297.7,398.6" fill="#ff0000"/>
<polygon points="304.9,396.3 300.8,394 300.8,398.6" fill="#ff0000"/>
<polygon points="308,396.3 303.9,394 303.9,398.6" fill="#ff0000"/>
<polygon points="311.1,396.3 307,394 307,398.6" fill="#ff0000"/>
<polygon points="314.2,396.3 310.1,394 310.1,398.6" fill="#ff0000"/>
<polygon points="317.4,396.4 313.3,394.1 313.3,398.7" fill="#ff0000"/>
<polygon points="320.5,396.4 316.4,394.1 316.4,398.7" fill="#ff0000"/>
<polygon points="323.6,396.4 319.5,394.1 319.5,398.7" fill="#ff0000"/>
<polygon points="326.7,396.4 322.6,394.1 322.6,398.7" fill="#ff0000"/>
<polygon points="329.8,396.4 325.7,394.1 325.7,398.7" fill="#ff0000"/>
<polygon points="332.9,396.4 328.8,394.1 328.8,398.7" fill="#ff0000"/>
<polygon points="336.1,396.5 332,394.2 332,398.8" fill="#ff0000"/>
<polygon points="339.2,396.5 335.1,394.2 335.1,398.8" fill="#ff0000"/>
<polygon points="342.3,396.5 338.2,394.2 338.2,398.8" fill="#ff0000"/>
<polygon points="345.4,396.5 341.3,394.2 341.3,398.8" fill="#ff0000"/>
<polygon points="348.5,396.5 344.4,394.2 344.4,398.8" fill="#ff0000"/>
<polygon points="351.7,396.6 347.6,394.3 347.6,398.9" fill="#ff0000"/>
<polygon points="354.8,396.6 350.7,394.3 350.7,398.9" fill="#ff0000"/>
<polygon points="357.9,396.6 353.8,394.3 353.8,398.9" fill="#ff0000"/>
<polygon points="361,396.6 356.9,394.3 356.9,398.9" fill="#ff0000"/>
<polygon points="364.1,396.6 360,394.3 360,398.9" fill="#ff0000"/>
<polygon points="367.3,396.6 363.2,394.3 363.2,398.9" fill="#ff0000"/>
<polygon points="370.4,396.7 366.3,394.4 366.3,399" fill="#ff0000"/>
<polygon points="373.5,396.7 369.4,394.4 369.4,399" fill="#ff0000"/>
<polygon points="376.6,396.7 372.5,394.4 372.5,399" fill="#ff0000"/>
<polygon points="379.7,396.7 375.6,394.4 375.6,399" fill="#ff0000"/>
<polygon points="382.8,396.7 378.7,394.4 378.7,399" fill="#ff0000"/>
<polygon points="386,396.8 381.9,394.5 381.9,399.1" fill="#ff0000"/>
<polygon points="389.1,396.8 385,394.5 385,399.1" fill="#ff0000"/>
<polygon points="392.2,396.8 388.1,394.5 388.1,399.1" fill="#ff0000"/>
<polygon points="395.3,396.8 391.2,394.5 391.2,399.1" fill="#ff0000"/>
<polygon points="398.4,396.8 394.3,394.5 394.3,399.1" fill="#ff0000"/>
<polygon points="401.6,396.9 397.5,394.6 397.5,399.2" fill="#ff0000"/>
<polygon points="404.7,396.9 400.6,394.6 400.6,399.2" fill="#ff0000"/>
<polygon points="407.8,396.9 403.7,394.6 403.7,399.2" fill="#ff0000"/>
<polygon points="410.9,396.9 406.8,394.6 406.8,399.2" fill="#ff0000"/>
<polygon points="414,396.9 409.9,394.6 409.9,399.2" fill="#ff0000"/>
<polygon points="417.2,396.9 413.1,394.6 413.1,399.2" fill="#ff0000"/>
<polygon points="420.3,397 416.2,394.7 416.2,399.3" fill="#ff0000"/>
<polygon points="423.4,397 419.3,394.7 419.3,399.3" fill="#ff0000"/>
</g>
<rect x="387.4" y="333.6" width="32.9" height="30.9" fill="#fff" stroke="#aaa" stroke-width="0.7"/>
<path d="M388.7 337.1H403.2" stroke="#00ff00" stroke-width="1"/>
<polygon points="396,334.3 398.1,337.1 396,339.9 393.8,337.1" fill="#00ff00"/>
<text transform="translate(404.6 338.6) scale(0.1)" text-anchor="start" font-size="42" fill="#3c3c3c" stroke="#3c3c3c" stroke-width="1">DBO</text>
<path d="M388.7 343H403.2" stroke="#000000" stroke-width="1"/>
<circle cx="396" cy="343" r="1.9" fill="#000000"/>
<text transform="translate(404.6 344.5) scale(0.1)" text-anchor="start" font-size="42" fill="#3c3c3c" stroke="#3c3c3c" stroke-width="1">IDBO-1</text>
<path d="M388.7 348.9H403.2" stroke="#0000ff" stroke-width="1"/>
<polygon points="396,345.8 396.8,347.7 398.9,347.9 397.3,349.4 397.8,351.4 396,350.4 394.1,351.4 394.6,349.4 393,347.9 395.1,347.7" fill="#0000ff"/>
<text transform="translate(404.6 350.4) scale(0.1)" text-anchor="start" font-size="42" fill="#3c3c3c" stroke="#3c3c3c" stroke-width="1">IDBO-2</text>
<path d="M388.7 354.8H403.2" stroke="#00ffff" stroke-width="1"/>
<polygon points="396,352 398.1,354.8 396,357.6 393.8,354.8" fill="#00ffff"/>
<text transform="translate(404.6 356.3) scale(0.1)" text-anchor="start" font-size="42" fill="#3c3c3c" stroke="#3c3c3c" stroke-width="1">IDBO-3</text>
<path d="M388.7 360.7H403.2" stroke="#ff0000" stroke-width="1"/>
<polygon points="398.5,360.7 393.9,358.1 393.9,363.3" fill="#ff0000"/>
<text transform="translate(404.6 362.2) scale(0.1)" text-anchor="start" font-size="42" fill="#3c3c3c" stroke="#3c3c3c" stroke-width="1">IDBO</text>
</g>
<g>
<clipPath id="cF9"><rect x="492.5" y="326.7" width="161.9" height="128.5"/></clipPath>
<rect x="495.5" y="329.7" width="155.9" height="122.5" fill="none" stroke="#b0b0b0" stroke-width="0.95"/>
<path d="M495.5 452.2v-1.5M495.5 329.7v1.5M517.7 452.2v-1.5M517.7 329.7v1.5M540 452.2v-1.5M540 329.7v1.5M562.3 452.2v-1.5M562.3 329.7v1.5M584.6 452.2v-1.5M584.6 329.7v1.5M606.8 452.2v-1.5M606.8 329.7v1.5M629.1 452.2v-1.5M629.1 329.7v1.5M651.4 452.2v-1.5M651.4 329.7v1.5M495.5 329.7h1.5M651.4 329.7h-1.5M495.5 360.3h1.5M651.4 360.3h-1.5M495.5 391h1.5M651.4 391h-1.5M495.5 421.6h1.5M651.4 421.6h-1.5M495.5 452.2h1.5M651.4 452.2h-1.5M495.5 446.1h0.8M651.4 446.1h-0.8M495.5 440h0.8M651.4 440h-0.8M495.5 433.8h0.8M651.4 433.8h-0.8M495.5 427.7h0.8M651.4 427.7h-0.8M495.5 421.6h0.8M651.4 421.6h-0.8M495.5 415.5h0.8M651.4 415.5h-0.8M495.5 409.3h0.8M651.4 409.3h-0.8M495.5 403.2h0.8M651.4 403.2h-0.8M495.5 397.1h0.8M651.4 397.1h-0.8M495.5 391h0.8M651.4 391h-0.8M495.5 384.8h0.8M651.4 384.8h-0.8M495.5 378.7h0.8M651.4 378.7h-0.8M495.5 372.6h0.8M651.4 372.6h-0.8M495.5 366.5h0.8M651.4 366.5h-0.8M495.5 360.3h0.8M651.4 360.3h-0.8M495.5 354.2h0.8M651.4 354.2h-0.8M495.5 348.1h0.8M651.4 348.1h-0.8M495.5 342h0.8M651.4 342h-0.8M495.5 335.8h0.8M651.4 335.8h-0.8" stroke="#777" stroke-width="0.7" fill="none"/>
<text transform="translate(495.5 459.6) scale(0.1)" text-anchor="middle" font-size="50" fill="#3c3c3c" stroke="#3c3c3c" stroke-width="1">0</text>
<text transform="translate(517.7 459.6) scale(0.1)" text-anchor="middle" font-size="50" fill="#3c3c3c" stroke="#3c3c3c" stroke-width="1">20</text>
<text transform="translate(540 459.6) scale(0.1)" text-anchor="middle" font-size="50" fill="#3c3c3c" stroke="#3c3c3c" stroke-width="1">40</text>
<text transform="translate(562.3 459.6) scale(0.1)" text-anchor="middle" font-size="50" fill="#3c3c3c" stroke="#3c3c3c" stroke-width="1">60</text>
<text transform="translate(584.6 459.6) scale(0.1)" text-anchor="middle" font-size="50" fill="#3c3c3c" stroke="#3c3c3c" stroke-width="1">80</text>
<text transform="translate(606.8 459.6) scale(0.1)" text-anchor="middle" font-size="50" fill="#3c3c3c" stroke="#3c3c3c" stroke-width="1">100</text>
<text transform="translate(629.1 459.6) scale(0.1)" text-anchor="middle" font-size="50" fill="#3c3c3c" stroke="#3c3c3c" stroke-width="1">120</text>
<text transform="translate(651.4 459.6) scale(0.1)" text-anchor="middle" font-size="50" fill="#3c3c3c" stroke="#3c3c3c" stroke-width="1">140</text>
<text transform="translate(493 332.5) scale(0.1)" text-anchor="end" font-size="50" fill="#3c3c3c" stroke="#3c3c3c" stroke-width="1">10<tspan font-size="36" dy="-24.5">5</tspan></text>
<text transform="translate(493 363.1) scale(0.1)" text-anchor="end" font-size="50" fill="#3c3c3c" stroke="#3c3c3c" stroke-width="1">10<tspan font-size="36" dy="-24.5">0</tspan></text>
<text transform="translate(493 393.7) scale(0.1)" text-anchor="end" font-size="50" fill="#3c3c3c" stroke="#3c3c3c" stroke-width="1">10<tspan font-size="36" dy="-24.5">-5</tspan></text>
<text transform="translate(493 424.3) scale(0.1)" text-anchor="end" font-size="50" fill="#3c3c3c" stroke="#3c3c3c" stroke-width="1">10<tspan font-size="36" dy="-24.5">-10</tspan></text>
<text transform="translate(493 455) scale(0.1)" text-anchor="end" font-size="50" fill="#3c3c3c" stroke="#3c3c3c" stroke-width="1">10<tspan font-size="36" dy="-24.5">-15</tspan></text>
<text transform="translate(573.4 327.2) scale(0.1)" text-anchor="middle" font-size="50" fill="#222" stroke="#222" stroke-width="1" font-weight="bold">F9</text>
<text transform="translate(573.4 466.2) scale(0.1)" text-anchor="middle" font-size="51.5" fill="#3c3c3c" stroke="#3c3c3c" stroke-width="1">Iterations</text>
<text transform="translate(480.1 391) rotate(-90) scale(0.1)" text-anchor="middle" font-size="51.5" fill="#3c3c3c" stroke="#3c3c3c" stroke-width="1">Best score</text>
<g clip-path="url(#cF9)">
<path d="M496.6 343.5L510.5 346.9L524.5 347.5L528 348.7L530.4 352.8L533.9 361.5L536.8 364.5L546.7 364.5L550.2 367.4L551.4 370L552 380.5L561.9 381.1L573 381.7L576.9 381.5L579.3 387.5L580.8 396.3L584 400.2L585.6 412.1L588.8 414.2L592.3 428.8L608 428.8L614.6 429.3L620.3 439.3" stroke="#00ff00" stroke-width="1.3" fill="none" stroke-linejoin="round"/>
<polygon points="496.6,341 498.5,343.5 496.6,346 494.7,343.5" fill="#00ff00"/>
<polygon points="552.3,378 554.2,380.5 552.3,383 550.4,380.5" fill="#00ff00"/>
<polygon points="608,426.3 609.9,428.8 608,431.3 606.1,428.8" fill="#00ff00"/>
<path d="M496.6 343.5L510.5 345.2L512.3 347.5L515.8 351.6L532.7 351.6L535 354.5L552.6 355.1L565 355.8L584 357.1L585.6 366.1L588.8 368.5L590.4 373.3L592.7 382.8L596.7 386L599.1 390.7L603.8 391.5L607.8 392.3L611.7 394.7L614.1 399.4L619.7 400.2L621.3 409.7L624.4 411.6L626.4 418.8L627.7 436.3L631.7 439.8" stroke="#000000" stroke-width="1.1" fill="none" stroke-linejoin="round"/>
<rect x="495.1" y="342" width="3" height="3" fill="#000000"/>
<rect x="550.8" y="353.6" width="3" height="3" fill="#000000"/>
<rect x="606.5" y="390.9" width="3" height="3" fill="#000000"/>
<path d="M496.6 342.8L502.3 344.6L507.6 346.9L512.3 349.3L517.5 351.6L518.1 358.6L529.2 358.6L532.7 360.9L535 369.7L537.4 380.5L540.9 384L545 387.5L549.1 387.5L552 402.1L556.1 405L563.1 406L574.5 405.3L582.4 406.5L585.6 408.5L597.5 411.3L601.5 413.5L604.1 428.8L608 431L612 442" stroke="#0000ff" stroke-width="1.3" fill="none" stroke-linejoin="round"/>
<polygon points="496.6,340 497.4,341.7 499.3,341.9 497.8,343.2 498.2,345.1 496.6,344.1 495,345.1 495.4,343.2 493.9,341.9 495.8,341.7" fill="#0000ff"/>
<polygon points="507.7,344.2 508.5,345.9 510.4,346.1 508.9,347.4 509.4,349.2 507.7,348.3 506.1,349.2 506.5,347.4 505,346.1 506.9,345.9" fill="#0000ff"/>
<polygon points="518.9,355.8 519.6,357.5 521.5,357.7 520.1,359 520.5,360.9 518.9,359.9 517.2,360.9 517.6,359 516.2,357.7 518.1,357.5" fill="#0000ff"/>
<polygon points="530,356.3 530.8,358.1 532.7,358.3 531.2,359.5 531.6,361.4 530,360.4 528.3,361.4 528.8,359.5 527.3,358.3 529.2,358.1" fill="#0000ff"/>
<polygon points="541.1,381.4 541.9,383.1 543.8,383.3 542.4,384.6 542.8,386.5 541.1,385.5 539.5,386.5 539.9,384.6 538.5,383.3 540.4,383.1" fill="#0000ff"/>
<polygon points="552.3,399.5 553,401.2 554.9,401.4 553.5,402.7 553.9,404.6 552.3,403.6 550.6,404.6 551,402.7 549.6,401.4 551.5,401.2" fill="#0000ff"/>
<polygon points="563.4,403.2 564.2,404.9 566.1,405.1 564.6,406.4 565.1,408.2 563.4,407.3 561.8,408.2 562.2,406.4 560.7,405.1 562.6,404.9" fill="#0000ff"/>
<polygon points="574.5,402.5 575.3,404.3 577.2,404.4 575.8,405.7 576.2,407.6 574.5,406.6 572.9,407.6 573.3,405.7 571.9,404.4 573.8,404.3" fill="#0000ff"/>
<polygon points="585.7,405.7 586.4,407.5 588.3,407.7 586.9,408.9 587.3,410.8 585.7,409.8 584,410.8 584.4,408.9 583,407.7 584.9,407.5" fill="#0000ff"/>
<polygon points="596.8,408.3 597.6,410.1 599.5,410.3 598.1,411.5 598.5,413.4 596.8,412.4 595.2,413.4 595.6,411.5 594.2,410.3 596.1,410.1" fill="#0000ff"/>
<polygon points="608,428.2 608.7,429.9 610.6,430.1 609.2,431.4 609.6,433.2 608,432.3 606.3,433.2 606.7,431.4 605.3,430.1 607.2,429.9" fill="#0000ff"/>
<path d="M496.6 354L498.5 362L500 370L501.8 406.2L504.1 406.8L507 433.1L508.2 437.2" stroke="#00ffff" stroke-width="1.3" fill="none" stroke-linejoin="round"/>
<polygon points="496.6,351.5 498.5,354 496.6,356.5 494.7,354" fill="#00ffff"/>
<polygon points="507.7,433 509.6,435.5 507.7,438 505.8,435.5" fill="#00ffff"/>
<path d="M496.6 345.2L499.4 370L500.6 416.1L502.3 417.3L503.5 440" stroke="#ff0000" stroke-width="1.3" fill="none" stroke-linejoin="round"/>
<polygon points="498.9,345.2 494.8,342.9 494.8,347.5" fill="#ff0000"/>
</g>
<rect x="614.9" y="333.6" width="32.9" height="30.9" fill="#fff" stroke="#aaa" stroke-width="0.7"/>
<path d="M616.2 337.1H630.7" stroke="#00ff00" stroke-width="1"/>
<polygon points="623.5,334.3 625.6,337.1 623.5,339.9 621.3,337.1" fill="#00ff00"/>
<text transform="translate(632.1 338.6) scale(0.1)" text-anchor="start" font-size="42" fill="#3c3c3c" stroke="#3c3c3c" stroke-width="1">DBO</text>
<path d="M616.2 343H630.7" stroke="#000000" stroke-width="1"/>
<rect x="621.8" y="341.3" width="3.4" height="3.4" fill="#000000"/>
<text transform="translate(632.1 344.5) scale(0.1)" text-anchor="start" font-size="42" fill="#3c3c3c" stroke="#3c3c3c" stroke-width="1">IDBO-1</text>
<path d="M616.2 348.9H630.7" stroke="#0000ff" stroke-width="1"/>
<polygon points="623.5,345.8 624.3,347.7 626.4,347.9 624.8,349.4 625.3,351.4 623.5,350.4 621.6,351.4 622.1,349.4 620.5,347.9 622.6,347.7" fill="#0000ff"/>
<text transform="translate(632.1 350.4) scale(0.1)" text-anchor="start" font-size="42" fill="#3c3c3c" stroke="#3c3c3c" stroke-width="1">IDBO-2</text>
<path d="M616.2 354.8H630.7" stroke="#00ffff" stroke-width="1"/>
<polygon points="623.5,352 625.6,354.8 623.5,357.6 621.3,354.8" fill="#00ffff"/>
<text transform="translate(632.1 356.3) scale(0.1)" text-anchor="start" font-size="42" fill="#3c3c3c" stroke="#3c3c3c" stroke-width="1">IDBO-3</text>
<path d="M616.2 360.7H630.7" stroke="#ff0000" stroke-width="1"/>
<polygon points="626,360.7 621.4,358.1 621.4,363.3" fill="#ff0000"/>
<text transform="translate(632.1 362.2) scale(0.1)" text-anchor="start" font-size="42" fill="#3c3c3c" stroke="#3c3c3c" stroke-width="1">IDBO</text>
</g>
<g>
<clipPath id="cF10"><rect x="37.5" y="483.9" width="161.9" height="128.5"/></clipPath>
<rect x="40.5" y="486.9" width="155.9" height="122.5" fill="none" stroke="#b0b0b0" stroke-width="0.95"/>
<path d="M40.5 609.4v-1.5M40.5 486.9v1.5M56.1 609.4v-1.5M56.1 486.9v1.5M71.6 609.4v-1.5M71.6 486.9v1.5M87.2 609.4v-1.5M87.2 486.9v1.5M102.8 609.4v-1.5M102.8 486.9v1.5M118.4 609.4v-1.5M118.4 486.9v1.5M134 609.4v-1.5M134 486.9v1.5M149.6 609.4v-1.5M149.6 486.9v1.5M165.2 609.4v-1.5M165.2 486.9v1.5M180.8 609.4v-1.5M180.8 486.9v1.5M196.4 609.4v-1.5M196.4 486.9v1.5M40.5 486.9h1.5M196.4 486.9h-1.5M40.5 517.1h1.5M196.4 517.1h-1.5M40.5 547.2h1.5M196.4 547.2h-1.5M40.5 577.4h1.5M196.4 577.4h-1.5M40.5 607.6h1.5M196.4 607.6h-1.5M40.5 607.6h0.8M196.4 607.6h-0.8M40.5 601.5h0.8M196.4 601.5h-0.8M40.5 595.5h0.8M196.4 595.5h-0.8M40.5 589.5h0.8M196.4 589.5h-0.8M40.5 583.4h0.8M196.4 583.4h-0.8M40.5 577.4h0.8M196.4 577.4h-0.8M40.5 571.4h0.8M196.4 571.4h-0.8M40.5 565.3h0.8M196.4 565.3h-0.8M40.5 559.3h0.8M196.4 559.3h-0.8M40.5 553.3h0.8M196.4 553.3h-0.8M40.5 547.2h0.8M196.4 547.2h-0.8M40.5 541.2h0.8M196.4 541.2h-0.8M40.5 535.2h0.8M196.4 535.2h-0.8M40.5 529.1h0.8M196.4 529.1h-0.8M40.5 523.1h0.8M196.4 523.1h-0.8M40.5 517.1h0.8M196.4 517.1h-0.8M40.5 511h0.8M196.4 511h-0.8M40.5 505h0.8M196.4 505h-0.8M40.5 498.9h0.8M196.4 498.9h-0.8M40.5 492.9h0.8M196.4 492.9h-0.8" stroke="#777" stroke-width="0.7" fill="none"/>
<text transform="translate(40.5 616.8) scale(0.1)" text-anchor="middle" font-size="50" fill="#3c3c3c" stroke="#3c3c3c" stroke-width="1">0</text>
<text transform="translate(56.1 616.8) scale(0.1)" text-anchor="middle" font-size="50" fill="#3c3c3c" stroke="#3c3c3c" stroke-width="1">50</text>
<text transform="translate(71.6 616.8) scale(0.1)" text-anchor="middle" font-size="50" fill="#3c3c3c" stroke="#3c3c3c" stroke-width="1">100</text>
<text transform="translate(87.2 616.8) scale(0.1)" text-anchor="middle" font-size="50" fill="#3c3c3c" stroke="#3c3c3c" stroke-width="1">150</text>
<text transform="translate(102.8 616.8) scale(0.1)" text-anchor="middle" font-size="50" fill="#3c3c3c" stroke="#3c3c3c" stroke-width="1">200</text>
<text transform="translate(118.4 616.8) scale(0.1)" text-anchor="middle" font-size="50" fill="#3c3c3c" stroke="#3c3c3c" stroke-width="1">250</text>
<text transform="translate(134 616.8) scale(0.1)" text-anchor="middle" font-size="50" fill="#3c3c3c" stroke="#3c3c3c" stroke-width="1">300</text>
<text transform="translate(149.6 616.8) scale(0.1)" text-anchor="middle" font-size="50" fill="#3c3c3c" stroke="#3c3c3c" stroke-width="1">350</text>
<text transform="translate(165.2 616.8) scale(0.1)" text-anchor="middle" font-size="50" fill="#3c3c3c" stroke="#3c3c3c" stroke-width="1">400</text>
<text transform="translate(180.8 616.8) scale(0.1)" text-anchor="middle" font-size="50" fill="#3c3c3c" stroke="#3c3c3c" stroke-width="1">450</text>
<text transform="translate(196.4 616.8) scale(0.1)" text-anchor="middle" font-size="50" fill="#3c3c3c" stroke="#3c3c3c" stroke-width="1">500</text>
<text transform="translate(38 489.6) scale(0.1)" text-anchor="end" font-size="50" fill="#3c3c3c" stroke="#3c3c3c" stroke-width="1">10<tspan font-size="36" dy="-24.5">5</tspan></text>
<text transform="translate(38 519.8) scale(0.1)" text-anchor="end" font-size="50" fill="#3c3c3c" stroke="#3c3c3c" stroke-width="1">10<tspan font-size="36" dy="-24.5">0</tspan></text>
<text transform="translate(38 550) scale(0.1)" text-anchor="end" font-size="50" fill="#3c3c3c" stroke="#3c3c3c" stroke-width="1">10<tspan font-size="36" dy="-24.5">-5</tspan></text>
<text transform="translate(38 580.2) scale(0.1)" text-anchor="end" font-size="50" fill="#3c3c3c" stroke="#3c3c3c" stroke-width="1">10<tspan font-size="36" dy="-24.5">-10</tspan></text>
<text transform="translate(38 610.3) scale(0.1)" text-anchor="end" font-size="50" fill="#3c3c3c" stroke="#3c3c3c" stroke-width="1">10<tspan font-size="36" dy="-24.5">-15</tspan></text>
<text transform="translate(118.4 484.4) scale(0.1)" text-anchor="middle" font-size="50" fill="#222" stroke="#222" stroke-width="1" font-weight="bold">F10</text>
<text transform="translate(118.4 623.4) scale(0.1)" text-anchor="middle" font-size="51.5" fill="#3c3c3c" stroke="#3c3c3c" stroke-width="1">Iterations</text>
<text transform="translate(24.7 548.1) rotate(-90) scale(0.1)" text-anchor="middle" font-size="51.5" fill="#3c3c3c" stroke="#3c3c3c" stroke-width="1">Best score</text>
<g clip-path="url(#cF10)">
<path d="M40.8 510L47 510L49.4 519L52.3 520.4L55.1 528.5L56.1 539L56.5 543.7L61.3 544.2L63.7 550.4L66.5 564.7L69.4 566.7L71.4 573.6L74.8 579.5L77.3 585.4L81.2 603.5L81.7 608.8L196.4 608.8" stroke="#00ff00" stroke-width="1.3" fill="none" stroke-linejoin="round"/>
<polygon points="40.8,507.5 42.7,510 40.8,512.5 38.9,510" fill="#00ff00"/>
<polygon points="56.4,539.6 58.3,542.1 56.4,544.6 54.5,542.1" fill="#00ff00"/>
<polygon points="72,572.1 73.9,574.6 72,577.1 70.1,574.6" fill="#00ff00"/>
<polygon points="87.6,606.3 89.5,608.8 87.6,611.3 85.7,608.8" fill="#00ff00"/>
<polygon points="103.1,606.3 105,608.8 103.1,611.3 101.2,608.8" fill="#00ff00"/>
<polygon points="118.7,606.3 120.6,608.8 118.7,611.3 116.8,608.8" fill="#00ff00"/>
<polygon points="134.3,606.3 136.2,608.8 134.3,611.3 132.4,608.8" fill="#00ff00"/>
<polygon points="149.9,606.3 151.8,608.8 149.9,611.3 148,608.8" fill="#00ff00"/>
<polygon points="165.5,606.3 167.4,608.8 165.5,611.3 163.6,608.8" fill="#00ff00"/>
<polygon points="181.1,606.3 183,608.8 181.1,611.3 179.2,608.8" fill="#00ff00"/>
<path d="M40.8 509L42.8 514.3L44.7 519L46.6 528.5L50.4 529.5L55.1 531.4L56.1 536.6L60.3 538.5L62.2 543.3L64.5 550L67.5 555.9L70.4 559.8L71.9 570.6L73.4 582.4L76.8 589.3L78.3 603L81.2 604.5L81.7 608.8L196.4 608.8" stroke="#000000" stroke-width="1.1" fill="none" stroke-linejoin="round"/>
<rect x="39.3" y="507.5" width="3" height="3" fill="#000000"/>
<rect x="54.9" y="535.2" width="3" height="3" fill="#000000"/>
<rect x="70.5" y="569.6" width="3" height="3" fill="#000000"/>
<rect x="86.1" y="607.3" width="3" height="3" fill="#000000"/>
<rect x="101.6" y="607.3" width="3" height="3" fill="#000000"/>
<rect x="117.2" y="607.3" width="3" height="3" fill="#000000"/>
<rect x="132.8" y="607.3" width="3" height="3" fill="#000000"/>
<rect x="148.4" y="607.3" width="3" height="3" fill="#000000"/>
<rect x="164" y="607.3" width="3" height="3" fill="#000000"/>
<rect x="179.6" y="607.3" width="3" height="3" fill="#000000"/>
<path d="M40.8 509L42.3 515.2L44.2 524.7L45.6 531.4L47 537.1L48.9 546.6L49.9 548.5L56.5 548L58 557L58.6 567.7L61.6 581.4L66 581.9L68.5 587.8L71.9 592.2L74.3 603L74.8 608.8L196.4 608.8" stroke="#0000ff" stroke-width="1.3" fill="none" stroke-linejoin="round"/>
<polygon points="40.8,506.2 41.6,507.9 43.5,508.1 42,509.4 42.4,511.3 40.8,510.3 39.2,511.3 39.6,509.4 38.1,508.1 40,507.9" fill="#0000ff"/>
<polygon points="43.9,520.4 44.7,522.1 46.6,522.3 45.1,523.6 45.5,525.4 43.9,524.5 42.2,525.4 42.7,523.6 41.2,522.3 43.1,522.1" fill="#0000ff"/>
<polygon points="47,534.3 47.8,536.1 49.7,536.3 48.2,537.5 48.7,539.4 47,538.4 45.4,539.4 45.8,537.5 44.3,536.3 46.2,536.1" fill="#0000ff"/>
<polygon points="50.1,545.7 50.9,547.4 52.8,547.6 51.4,548.9 51.8,550.7 50.1,549.8 48.5,550.7 48.9,548.9 47.5,547.6 49.4,547.4" fill="#0000ff"/>
<polygon points="53.2,545.4 54,547.2 55.9,547.4 54.5,548.6 54.9,550.5 53.2,549.5 51.6,550.5 52,548.6 50.6,547.4 52.5,547.2" fill="#0000ff"/>
<polygon points="56.4,545.2 57.1,547 59,547.1 57.6,548.4 58,550.3 56.4,549.3 54.7,550.3 55.1,548.4 53.7,547.1 55.6,547" fill="#0000ff"/>
<polygon points="59.5,568.9 60.2,570.7 62.1,570.9 60.7,572.1 61.1,574 59.5,573 57.8,574 58.2,572.1 56.8,570.9 58.7,570.7" fill="#0000ff"/>
<polygon points="62.6,578.7 63.4,580.5 65.3,580.6 63.8,581.9 64.2,583.8 62.6,582.8 61,583.8 61.4,581.9 59.9,580.6 61.8,580.5" fill="#0000ff"/>
<polygon points="65.7,579.1 66.5,580.8 68.4,581 67,582.3 67.4,584.1 65.7,583.2 64.1,584.1 64.5,582.3 63.1,581 65,580.8" fill="#0000ff"/>
<polygon points="68.8,585.4 69.6,587.2 71.5,587.4 70.1,588.6 70.5,590.5 68.8,589.5 67.2,590.5 67.6,588.6 66.2,587.4 68.1,587.2" fill="#0000ff"/>
<polygon points="72,589.7 72.7,591.4 74.6,591.6 73.2,592.9 73.6,594.7 72,593.8 70.3,594.7 70.7,592.9 69.3,591.6 71.2,591.4" fill="#0000ff"/>
<polygon points="75.1,606 75.8,607.7 77.7,607.9 76.3,609.2 76.7,611.1 75.1,610.1 73.4,611.1 73.8,609.2 72.4,607.9 74.3,607.7" fill="#0000ff"/>
<polygon points="78.2,606 79,607.7 80.9,607.9 79.4,609.2 79.8,611.1 78.2,610.1 76.6,611.1 77,609.2 75.5,607.9 77.4,607.7" fill="#0000ff"/>
<polygon points="81.3,606 82.1,607.7 84,607.9 82.6,609.2 83,611.1 81.3,610.1 79.7,611.1 80.1,609.2 78.7,607.9 80.6,607.7" fill="#0000ff"/>
<polygon points="84.4,606 85.2,607.7 87.1,607.9 85.7,609.2 86.1,611.1 84.4,610.1 82.8,611.1 83.2,609.2 81.8,607.9 83.7,607.7" fill="#0000ff"/>
<polygon points="87.6,606 88.3,607.7 90.2,607.9 88.8,609.2 89.2,611.1 87.6,610.1 85.9,611.1 86.3,609.2 84.9,607.9 86.8,607.7" fill="#0000ff"/>
<polygon points="90.7,606 91.4,607.7 93.3,607.9 91.9,609.2 92.3,611.1 90.7,610.1 89,611.1 89.4,609.2 88,607.9 89.9,607.7" fill="#0000ff"/>
<polygon points="93.8,606 94.6,607.7 96.5,607.9 95,609.2 95.4,611.1 93.8,610.1 92.1,611.1 92.6,609.2 91.1,607.9 93,607.7" fill="#0000ff"/>
<polygon points="96.9,606 97.7,607.7 99.6,607.9 98.1,609.2 98.6,611.1 96.9,610.1 95.3,611.1 95.7,609.2 94.2,607.9 96.1,607.7" fill="#0000ff"/>
<polygon points="100,606 100.8,607.7 102.7,607.9 101.3,609.2 101.7,611.1 100,610.1 98.4,611.1 98.8,609.2 97.4,607.9 99.3,607.7" fill="#0000ff"/>
<polygon points="103.1,606 103.9,607.7 105.8,607.9 104.4,609.2 104.8,611.1 103.1,610.1 101.5,611.1 101.9,609.2 100.5,607.9 102.4,607.7" fill="#0000ff"/>
<polygon points="106.3,606 107,607.7 108.9,607.9 107.5,609.2 107.9,611.1 106.3,610.1 104.6,611.1 105,609.2 103.6,607.9 105.5,607.7" fill="#0000ff"/>
<polygon points="109.4,606 110.1,607.7 112,607.9 110.6,609.2 111,611.1 109.4,610.1 107.7,611.1 108.1,609.2 106.7,607.9 108.6,607.7" fill="#0000ff"/>
<polygon points="112.5,606 113.3,607.7 115.2,607.9 113.7,609.2 114.2,611.1 112.5,610.1 110.9,611.1 111.3,609.2 109.8,607.9 111.7,607.7" fill="#0000ff"/>
<polygon points="115.6,606 116.4,607.7 118.3,607.9 116.9,609.2 117.3,611.1 115.6,610.1 114,611.1 114.4,609.2 113,607.9 114.9,607.7" fill="#0000ff"/>
<polygon points="118.7,606 119.5,607.7 121.4,607.9 120,609.2 120.4,611.1 118.7,610.1 117.1,611.1 117.5,609.2 116.1,607.9 118,607.7" fill="#0000ff"/>
<polygon points="121.9,606 122.6,607.7 124.5,607.9 123.1,609.2 123.5,611.1 121.9,610.1 120.2,611.1 120.6,609.2 119.2,607.9 121.1,607.7" fill="#0000ff"/>
<polygon points="125,606 125.7,607.7 127.6,607.9 126.2,609.2 126.6,611.1 125,610.1 123.3,611.1 123.7,609.2 122.3,607.9 124.2,607.7" fill="#0000ff"/>
<polygon points="128.1,606 128.9,607.7 130.8,607.9 129.3,609.2 129.7,611.1 128.1,610.1 126.5,611.1 126.9,609.2 125.4,607.9 127.3,607.7" fill="#0000ff"/>
<polygon points="131.2,606 132,607.7 133.9,607.9 132.5,609.2 132.9,611.1 131.2,610.1 129.6,611.1 130,609.2 128.6,607.9 130.5,607.7" fill="#0000ff"/>
<polygon points="134.3,606 135.1,607.7 137,607.9 135.6,609.2 136,611.1 134.3,610.1 132.7,611.1 133.1,609.2 131.7,607.9 133.6,607.7" fill="#0000ff"/>
<polygon points="137.5,606 138.2,607.7 140.1,607.9 138.7,609.2 139.1,611.1 137.5,610.1 135.8,611.1 136.2,609.2 134.8,607.9 136.7,607.7" fill="#0000ff"/>
<polygon points="140.6,606 141.3,607.7 143.2,607.9 141.8,609.2 142.2,611.1 140.6,610.1 138.9,611.1 139.3,609.2 137.9,607.9 139.8,607.7" fill="#0000ff"/>
<polygon points="143.7,606 144.5,607.7 146.4,607.9 144.9,609.2 145.3,611.1 143.7,610.1 142,611.1 142.5,609.2 141,607.9 142.9,607.7" fill="#0000ff"/>
<polygon points="146.8,606 147.6,607.7 149.5,607.9 148,609.2 148.5,611.1 146.8,610.1 145.2,611.1 145.6,609.2 144.1,607.9 146,607.7" fill="#0000ff"/>
<polygon points="149.9,606 150.7,607.7 152.6,607.9 151.2,609.2 151.6,611.1 149.9,610.1 148.3,611.1 148.7,609.2 147.3,607.9 149.2,607.7" fill="#0000ff"/>
<polygon points="153,606 153.8,607.7 155.7,607.9 154.3,609.2 154.7,611.1 153,610.1 151.4,611.1 151.8,609.2 150.4,607.9 152.3,607.7" fill="#0000ff"/>
<polygon points="156.2,606 156.9,607.7 158.8,607.9 157.4,609.2 157.8,611.1 156.2,610.1 154.5,611.1 154.9,609.2 153.5,607.9 155.4,607.7" fill="#0000ff"/>
<polygon points="159.3,606 160.1,607.7 161.9,607.9 160.5,609.2 160.9,611.1 159.3,610.1 157.6,611.1 158,609.2 156.6,607.9 158.5,607.7" fill="#0000ff"/>
<polygon points="162.4,606 163.2,607.7 165.1,607.9 163.6,609.2 164.1,611.1 162.4,610.1 160.8,611.1 161.2,609.2 159.7,607.9 161.6,607.7" fill="#0000ff"/>
<polygon points="165.5,606 166.3,607.7 168.2,607.9 166.8,609.2 167.2,611.1 165.5,610.1 163.9,611.1 164.3,609.2 162.9,607.9 164.8,607.7" fill="#0000ff"/>
<polygon points="168.6,606 169.4,607.7 171.3,607.9 169.9,609.2 170.3,611.1 168.6,610.1 167,611.1 167.4,609.2 166,607.9 167.9,607.7" fill="#0000ff"/>
<polygon points="171.8,606 172.5,607.7 174.4,607.9 173,609.2 173.4,611.1 171.8,610.1 170.1,611.1 170.5,609.2 169.1,607.9 171,607.7" fill="#0000ff"/>
<polygon points="174.9,606 175.6,607.7 177.5,607.9 176.1,609.2 176.5,611.1 174.9,610.1 173.2,611.1 173.6,609.2 172.2,607.9 174.1,607.7" fill="#0000ff"/>
<polygon points="178,606 178.8,607.7 180.7,607.9 179.2,609.2 179.6,611.1 178,610.1 176.4,611.1 176.8,609.2 175.3,607.9 177.2,607.7" fill="#0000ff"/>
<polygon points="181.1,606 181.9,607.7 183.8,607.9 182.4,609.2 182.8,611.1 181.1,610.1 179.5,611.1 179.9,609.2 178.5,607.9 180.4,607.7" fill="#0000ff"/>
<polygon points="184.2,606 185,607.7 186.9,607.9 185.5,609.2 185.9,611.1 184.2,610.1 182.6,611.1 183,609.2 181.6,607.9 183.5,607.7" fill="#0000ff"/>
<polygon points="187.4,606 188.1,607.7 190,607.9 188.6,609.2 189,611.1 187.4,610.1 185.7,611.1 186.1,609.2 184.7,607.9 186.6,607.7" fill="#0000ff"/>
<polygon points="190.5,606 191.2,607.7 193.1,607.9 191.7,609.2 192.1,611.1 190.5,610.1 188.8,611.1 189.2,609.2 187.8,607.9 189.7,607.7" fill="#0000ff"/>
<polygon points="193.6,606 194.4,607.7 196.3,607.9 194.8,609.2 195.2,611.1 193.6,610.1 191.9,611.1 192.4,609.2 190.9,607.9 192.8,607.7" fill="#0000ff"/>
<path d="M40.8 512.4L41.8 560L43.9 584.9L44.9 608.5L196.4 608.8" stroke="#00ffff" stroke-width="1.3" fill="none" stroke-linejoin="round"/>
<polygon points="40.8,509.9 42.7,512.4 40.8,514.9 38.9,512.4" fill="#00ffff"/>
<polygon points="43.9,582.3 45.8,584.8 43.9,587.3 42,584.8" fill="#00ffff"/>
<polygon points="47,606 48.9,608.5 47,611 45.1,608.5" fill="#00ffff"/>
<polygon points="50.1,606 52,608.5 50.1,611 48.2,608.5" fill="#00ffff"/>
<polygon points="53.2,606 55.1,608.5 53.2,611 51.3,608.5" fill="#00ffff"/>
<polygon points="56.4,606 58.3,608.5 56.4,611 54.5,608.5" fill="#00ffff"/>
<polygon points="59.5,606 61.4,608.5 59.5,611 57.6,608.5" fill="#00ffff"/>
<polygon points="62.6,606 64.5,608.5 62.6,611 60.7,608.5" fill="#00ffff"/>
<polygon points="65.7,606 67.6,608.5 65.7,611 63.8,608.5" fill="#00ffff"/>
<polygon points="68.8,606 70.7,608.5 68.8,611 66.9,608.5" fill="#00ffff"/>
<polygon points="72,606.1 73.9,608.6 72,611.1 70.1,608.6" fill="#00ffff"/>
<polygon points="75.1,606.1 77,608.6 75.1,611.1 73.2,608.6" fill="#00ffff"/>
<polygon points="78.2,606.1 80.1,608.6 78.2,611.1 76.3,608.6" fill="#00ffff"/>
<polygon points="81.3,606.1 83.2,608.6 81.3,611.1 79.4,608.6" fill="#00ffff"/>
<polygon points="84.4,606.1 86.3,608.6 84.4,611.1 82.5,608.6" fill="#00ffff"/>
<polygon points="87.6,606.1 89.5,608.6 87.6,611.1 85.7,608.6" fill="#00ffff"/>
<polygon points="90.7,606.1 92.6,608.6 90.7,611.1 88.8,608.6" fill="#00ffff"/>
<polygon points="93.8,606.1 95.7,608.6 93.8,611.1 91.9,608.6" fill="#00ffff"/>
<polygon points="96.9,606.1 98.8,608.6 96.9,611.1 95,608.6" fill="#00ffff"/>
<polygon points="100,606.1 101.9,608.6 100,611.1 98.1,608.6" fill="#00ffff"/>
<polygon points="103.1,606.1 105,608.6 103.1,611.1 101.2,608.6" fill="#00ffff"/>
<polygon points="106.3,606.1 108.2,608.6 106.3,611.1 104.4,608.6" fill="#00ffff"/>
<polygon points="109.4,606.1 111.3,608.6 109.4,611.1 107.5,608.6" fill="#00ffff"/>
<polygon points="112.5,606.1 114.4,608.6 112.5,611.1 110.6,608.6" fill="#00ffff"/>
<polygon points="115.6,606.1 117.5,608.6 115.6,611.1 113.7,608.6" fill="#00ffff"/>
<polygon points="118.7,606.1 120.6,608.6 118.7,611.1 116.8,608.6" fill="#00ffff"/>
<polygon points="121.9,606.2 123.8,608.7 121.9,611.2 120,608.7" fill="#00ffff"/>
<polygon points="125,606.2 126.9,608.7 125,611.2 123.1,608.7" fill="#00ffff"/>
<polygon points="128.1,606.2 130,608.7 128.1,611.2 126.2,608.7" fill="#00ffff"/>
<polygon points="131.2,606.2 133.1,608.7 131.2,611.2 129.3,608.7" fill="#00ffff"/>
<polygon points="134.3,606.2 136.2,608.7 134.3,611.2 132.4,608.7" fill="#00ffff"/>
<polygon points="137.5,606.2 139.4,608.7 137.5,611.2 135.6,608.7" fill="#00ffff"/>
<polygon points="140.6,606.2 142.5,608.7 140.6,611.2 138.7,608.7" fill="#00ffff"/>
<polygon points="143.7,606.2 145.6,608.7 143.7,611.2 141.8,608.7" fill="#00ffff"/>
<polygon points="146.8,606.2 148.7,608.7 146.8,611.2 144.9,608.7" fill="#00ffff"/>
<polygon points="149.9,606.2 151.8,608.7 149.9,611.2 148,608.7" fill="#00ffff"/>
<polygon points="153,606.2 154.9,608.7 153,611.2 151.1,608.7" fill="#00ffff"/>
<polygon points="156.2,606.2 158.1,608.7 156.2,611.2 154.3,608.7" fill="#00ffff"/>
<polygon points="159.3,606.2 161.2,608.7 159.3,611.2 157.4,608.7" fill="#00ffff"/>
<polygon points="162.4,606.2 164.3,608.7 162.4,611.2 160.5,608.7" fill="#00ffff"/>
<polygon points="165.5,606.2 167.4,608.7 165.5,611.2 163.6,608.7" fill="#00ffff"/>
<polygon points="168.6,606.2 170.5,608.7 168.6,611.2 166.7,608.7" fill="#00ffff"/>
<polygon points="171.8,606.3 173.7,608.8 171.8,611.3 169.9,608.8" fill="#00ffff"/>
<polygon points="174.9,606.3 176.8,608.8 174.9,611.3 173,608.8" fill="#00ffff"/>
<polygon points="178,606.3 179.9,608.8 178,611.3 176.1,608.8" fill="#00ffff"/>
<polygon points="181.1,606.3 183,608.8 181.1,611.3 179.2,608.8" fill="#00ffff"/>
<polygon points="184.2,606.3 186.1,608.8 184.2,611.3 182.3,608.8" fill="#00ffff"/>
<polygon points="187.4,606.3 189.3,608.8 187.4,611.3 185.5,608.8" fill="#00ffff"/>
<polygon points="190.5,606.3 192.4,608.8 190.5,611.3 188.6,608.8" fill="#00ffff"/>
<polygon points="193.6,606.3 195.5,608.8 193.6,611.3 191.7,608.8" fill="#00ffff"/>
<path d="M40.8 514.7L41.4 550L43.9 589.3L44.9 608.5L45.5 608.8L196.4 608.8" stroke="#ff0000" stroke-width="1.3" fill="none" stroke-linejoin="round"/>
<polygon points="43.1,514.7 39,512.4 39,517" fill="#ff0000"/>
<polygon points="46.2,589.2 42.1,586.9 42.1,591.5" fill="#ff0000"/>
<polygon points="49.3,608.8 45.2,606.5 45.2,611.1" fill="#ff0000"/>
<polygon points="52.4,608.8 48.3,606.5 48.3,611.1" fill="#ff0000"/>
<polygon points="55.5,608.8 51.4,606.5 51.4,611.1" fill="#ff0000"/>
<polygon points="58.7,608.8 54.6,606.5 54.6,611.1" fill="#ff0000"/>
<polygon points="61.8,608.8 57.7,606.5 57.7,611.1" fill="#ff0000"/>
<polygon points="64.9,608.8 60.8,606.5 60.8,611.1" fill="#ff0000"/>
<polygon points="68,608.8 63.9,606.5 63.9,611.1" fill="#ff0000"/>
<polygon points="71.1,608.8 67,606.5 67,611.1" fill="#ff0000"/>
<polygon points="74.3,608.8 70.2,606.5 70.2,611.1" fill="#ff0000"/>
<polygon points="77.4,608.8 73.3,606.5 73.3,611.1" fill="#ff0000"/>
<polygon points="80.5,608.8 76.4,606.5 76.4,611.1" fill="#ff0000"/>
<polygon points="83.6,608.8 79.5,606.5 79.5,611.1" fill="#ff0000"/>
<polygon points="86.7,608.8 82.6,606.5 82.6,611.1" fill="#ff0000"/>
<polygon points="89.9,608.8 85.8,606.5 85.8,611.1" fill="#ff0000"/>
<polygon points="93,608.8 88.9,606.5 88.9,611.1" fill="#ff0000"/>
<polygon points="96.1,608.8 92,606.5 92,611.1" fill="#ff0000"/>
<polygon points="99.2,608.8 95.1,606.5 95.1,611.1" fill="#ff0000"/>
<polygon points="102.3,608.8 98.2,606.5 98.2,611.1" fill="#ff0000"/>
<polygon points="105.4,608.8 101.3,606.5 101.3,611.1" fill="#ff0000"/>
<polygon points="108.6,608.8 104.5,606.5 104.5,611.1" fill="#ff0000"/>
<polygon points="111.7,608.8 107.6,606.5 107.6,611.1" fill="#ff0000"/>
<polygon points="114.8,608.8 110.7,606.5 110.7,611.1" fill="#ff0000"/>
<polygon points="117.9,608.8 113.8,606.5 113.8,611.1" fill="#ff0000"/>
<polygon points="121,608.8 116.9,606.5 116.9,611.1" fill="#ff0000"/>
<polygon points="124.2,608.8 120.1,606.5 120.1,611.1" fill="#ff0000"/>
<polygon points="127.3,608.8 123.2,606.5 123.2,611.1" fill="#ff0000"/>
<polygon points="130.4,608.8 126.3,606.5 126.3,611.1" fill="#ff0000"/>
<polygon points="133.5,608.8 129.4,606.5 129.4,611.1" fill="#ff0000"/>
<polygon points="136.6,608.8 132.5,606.5 132.5,611.1" fill="#ff0000"/>
<polygon points="139.8,608.8 135.7,606.5 135.7,611.1" fill="#ff0000"/>
<polygon points="142.9,608.8 138.8,606.5 138.8,611.1" fill="#ff0000"/>
<polygon points="146,608.8 141.9,606.5 141.9,611.1" fill="#ff0000"/>
<polygon points="149.1,608.8 145,606.5 145,611.1" fill="#ff0000"/>
<polygon points="152.2,608.8 148.1,606.5 148.1,611.1" fill="#ff0000"/>
<polygon points="155.3,608.8 151.2,606.5 151.2,611.1" fill="#ff0000"/>
<polygon points="158.5,608.8 154.4,606.5 154.4,611.1" fill="#ff0000"/>
<polygon points="161.6,608.8 157.5,606.5 157.5,611.1" fill="#ff0000"/>
<polygon points="164.7,608.8 160.6,606.5 160.6,611.1" fill="#ff0000"/>
<polygon points="167.8,608.8 163.7,606.5 163.7,611.1" fill="#ff0000"/>
<polygon points="170.9,608.8 166.8,606.5 166.8,611.1" fill="#ff0000"/>
<polygon points="174.1,608.8 170,606.5 170,611.1" fill="#ff0000"/>
<polygon points="177.2,608.8 173.1,606.5 173.1,611.1" fill="#ff0000"/>
<polygon points="180.3,608.8 176.2,606.5 176.2,611.1" fill="#ff0000"/>
<polygon points="183.4,608.8 179.3,606.5 179.3,611.1" fill="#ff0000"/>
<polygon points="186.5,608.8 182.4,606.5 182.4,611.1" fill="#ff0000"/>
<polygon points="189.7,608.8 185.6,606.5 185.6,611.1" fill="#ff0000"/>
<polygon points="192.8,608.8 188.7,606.5 188.7,611.1" fill="#ff0000"/>
<polygon points="195.9,608.8 191.8,606.5 191.8,611.1" fill="#ff0000"/>
</g>
<rect x="159.9" y="490.8" width="32.9" height="30.9" fill="#fff" stroke="#aaa" stroke-width="0.7"/>
<path d="M161.2 494.3H175.7" stroke="#00ff00" stroke-width="1"/>
<polygon points="168.5,491.5 170.6,494.3 168.5,497.1 166.3,494.3" fill="#00ff00"/>
<text transform="translate(177.1 495.8) scale(0.1)" text-anchor="start" font-size="42" fill="#3c3c3c" stroke="#3c3c3c" stroke-width="1">DBO</text>
<path d="M161.2 500.2H175.7" stroke="#000000" stroke-width="1"/>
<rect x="166.8" y="498.5" width="3.4" height="3.4" fill="#000000"/>
<text transform="translate(177.1 501.7) scale(0.1)" text-anchor="start" font-size="42" fill="#3c3c3c" stroke="#3c3c3c" stroke-width="1">IDBO-1</text>
<path d="M161.2 506.1H175.7" stroke="#0000ff" stroke-width="1"/>
<polygon points="168.5,502.9 169.3,504.9 171.4,505.1 169.8,506.5 170.3,508.6 168.5,507.5 166.6,508.6 167.1,506.5 165.5,505.1 167.6,504.9" fill="#0000ff"/>
<text transform="translate(177.1 507.6) scale(0.1)" text-anchor="start" font-size="42" fill="#3c3c3c" stroke="#3c3c3c" stroke-width="1">IDBO-2</text>
<path d="M161.2 512H175.7" stroke="#00ffff" stroke-width="1"/>
<polygon points="168.5,509.2 170.6,512 168.5,514.8 166.3,512" fill="#00ffff"/>
<text transform="translate(177.1 513.5) scale(0.1)" text-anchor="start" font-size="42" fill="#3c3c3c" stroke="#3c3c3c" stroke-width="1">IDBO-3</text>
<path d="M161.2 517.9H175.7" stroke="#ff0000" stroke-width="1"/>
<polygon points="171,517.9 166.4,515.3 166.4,520.5" fill="#ff0000"/>
<text transform="translate(177.1 519.4) scale(0.1)" text-anchor="start" font-size="42" fill="#3c3c3c" stroke="#3c3c3c" stroke-width="1">IDBO</text>
</g>
<g>
<clipPath id="cF11"><rect x="265" y="483.9" width="161.9" height="128.5"/></clipPath>
<rect x="268" y="486.9" width="155.9" height="122.5" fill="none" stroke="#b0b0b0" stroke-width="0.95"/>
<path d="M268 609.4v-1.5M268 486.9v1.5M293.9 609.4v-1.5M293.9 486.9v1.5M319.9 609.4v-1.5M319.9 486.9v1.5M345.9 609.4v-1.5M345.9 486.9v1.5M371.9 609.4v-1.5M371.9 486.9v1.5M397.9 609.4v-1.5M397.9 486.9v1.5M423.9 609.4v-1.5M423.9 486.9v1.5M268 486.9h1.5M423.9 486.9h-1.5M268 511.4h1.5M423.9 511.4h-1.5M268 535.9h1.5M423.9 535.9h-1.5M268 560.4h1.5M423.9 560.4h-1.5M268 584.9h1.5M423.9 584.9h-1.5M268 609.4h1.5M423.9 609.4h-1.5M268 604.5h0.8M423.9 604.5h-0.8M268 599.6h0.8M423.9 599.6h-0.8M268 594.7h0.8M423.9 594.7h-0.8M268 589.8h0.8M423.9 589.8h-0.8M268 584.9h0.8M423.9 584.9h-0.8M268 580h0.8M423.9 580h-0.8M268 575.1h0.8M423.9 575.1h-0.8M268 570.2h0.8M423.9 570.2h-0.8M268 565.3h0.8M423.9 565.3h-0.8M268 560.4h0.8M423.9 560.4h-0.8M268 555.5h0.8M423.9 555.5h-0.8M268 550.6h0.8M423.9 550.6h-0.8M268 545.7h0.8M423.9 545.7h-0.8M268 540.8h0.8M423.9 540.8h-0.8M268 535.9h0.8M423.9 535.9h-0.8M268 531h0.8M423.9 531h-0.8M268 526.1h0.8M423.9 526.1h-0.8M268 521.2h0.8M423.9 521.2h-0.8M268 516.3h0.8M423.9 516.3h-0.8M268 511.4h0.8M423.9 511.4h-0.8M268 506.5h0.8M423.9 506.5h-0.8M268 501.6h0.8M423.9 501.6h-0.8M268 496.7h0.8M423.9 496.7h-0.8M268 491.8h0.8M423.9 491.8h-0.8" stroke="#777" stroke-width="0.7" fill="none"/>
<text transform="translate(268 616.8) scale(0.1)" text-anchor="middle" font-size="50" fill="#3c3c3c" stroke="#3c3c3c" stroke-width="1">0</text>
<text transform="translate(293.9 616.8) scale(0.1)" text-anchor="middle" font-size="50" fill="#3c3c3c" stroke="#3c3c3c" stroke-width="1">20</text>
<text transform="translate(319.9 616.8) scale(0.1)" text-anchor="middle" font-size="50" fill="#3c3c3c" stroke="#3c3c3c" stroke-width="1">40</text>
<text transform="translate(345.9 616.8) scale(0.1)" text-anchor="middle" font-size="50" fill="#3c3c3c" stroke="#3c3c3c" stroke-width="1">60</text>
<text transform="translate(371.9 616.8) scale(0.1)" text-anchor="middle" font-size="50" fill="#3c3c3c" stroke="#3c3c3c" stroke-width="1">80</text>
<text transform="translate(397.9 616.8) scale(0.1)" text-anchor="middle" font-size="50" fill="#3c3c3c" stroke="#3c3c3c" stroke-width="1">100</text>
<text transform="translate(423.9 616.8) scale(0.1)" text-anchor="middle" font-size="50" fill="#3c3c3c" stroke="#3c3c3c" stroke-width="1">120</text>
<text transform="translate(265.5 489.6) scale(0.1)" text-anchor="end" font-size="50" fill="#3c3c3c" stroke="#3c3c3c" stroke-width="1">10<tspan font-size="36" dy="-24.5">5</tspan></text>
<text transform="translate(265.5 514.1) scale(0.1)" text-anchor="end" font-size="50" fill="#3c3c3c" stroke="#3c3c3c" stroke-width="1">10<tspan font-size="36" dy="-24.5">0</tspan></text>
<text transform="translate(265.5 538.6) scale(0.1)" text-anchor="end" font-size="50" fill="#3c3c3c" stroke="#3c3c3c" stroke-width="1">10<tspan font-size="36" dy="-24.5">-5</tspan></text>
<text transform="translate(265.5 563.1) scale(0.1)" text-anchor="end" font-size="50" fill="#3c3c3c" stroke="#3c3c3c" stroke-width="1">10<tspan font-size="36" dy="-24.5">-10</tspan></text>
<text transform="translate(265.5 587.6) scale(0.1)" text-anchor="end" font-size="50" fill="#3c3c3c" stroke="#3c3c3c" stroke-width="1">10<tspan font-size="36" dy="-24.5">-15</tspan></text>
<text transform="translate(265.5 612.1) scale(0.1)" text-anchor="end" font-size="50" fill="#3c3c3c" stroke="#3c3c3c" stroke-width="1">10<tspan font-size="36" dy="-24.5">-20</tspan></text>
<text transform="translate(345.9 484.4) scale(0.1)" text-anchor="middle" font-size="50" fill="#222" stroke="#222" stroke-width="1" font-weight="bold">F11</text>
<text transform="translate(345.9 623.4) scale(0.1)" text-anchor="middle" font-size="51.5" fill="#3c3c3c" stroke="#3c3c3c" stroke-width="1">Iterations</text>
<text transform="translate(252.5 548.1) rotate(-90) scale(0.1)" text-anchor="middle" font-size="51.5" fill="#3c3c3c" stroke="#3c3c3c" stroke-width="1">Best score</text>
<g clip-path="url(#cF11)">
<path d="M269.3 498.8L276.7 502.8L282.5 506.4L304.7 507.5L308.2 510.4L310.5 517.4L322.2 518L325.7 527.4L328.6 539L332.7 547.2L334.5 549.6L338.9 555.8L344.7 566.4L352.4 567.4L355.3 572.3L357.3 579L361.1 589.7" stroke="#00ff00" stroke-width="1.3" fill="none" stroke-linejoin="round"/>
<polygon points="269.3,496.3 271.2,498.8 269.3,501.3 267.4,498.8" fill="#00ff00"/>
<polygon points="334.2,546.7 336.1,549.2 334.2,551.7 332.3,549.2" fill="#00ff00"/>
<path d="M269.3 498.8L272 502.8L274.9 509.3L281.4 511.6L288.4 512.8L290.1 518.6L297.7 519.8L301.2 522.1L305.9 523.9L310 524.5L312.9 527.4L322.2 528L325.1 534.4L326.9 539.6L332.2 540.2L333.9 543.7L338.9 545.2L340.8 552.9L346.6 556.8L383.4 558.7L398.9 561.2L399.8 562.6L402.7 568.4L406.6 574.2L409.5 576.1L412.4 589.7" stroke="#000000" stroke-width="1.1" fill="none" stroke-linejoin="round"/>
<rect x="267.8" y="497.3" width="3" height="3" fill="#000000"/>
<rect x="332.7" y="542.3" width="3" height="3" fill="#000000"/>
<rect x="397.7" y="560.2" width="3" height="3" fill="#000000"/>
<path d="M269.3 498.2L275.5 498.8L277.8 506.4L282.5 511L295.4 511.6L308.2 511.6L321.6 511.6L334.5 512L347.6 512.8L357.3 516.1L360.2 523.9L365 527.7L369.8 530.6L372.7 534.9L375.6 548.1L380.5 550L383.4 558.7L386.3 569.4L390.2 579L394 580L396.9 585.8L399.8 586.4L403.7 589.7L412.4 590.1L424 590.1" stroke="#0000ff" stroke-width="1.3" fill="none" stroke-linejoin="round"/>
<polygon points="269.3,495.4 270.1,497.1 272,497.3 270.5,498.6 270.9,500.5 269.3,499.5 267.7,500.5 268.1,498.6 266.6,497.3 268.5,497.1" fill="#0000ff"/>
<polygon points="282.3,508 283,509.7 284.9,509.9 283.5,511.2 283.9,513 282.3,512.1 280.6,513 281,511.2 279.6,509.9 281.5,509.7" fill="#0000ff"/>
<polygon points="295.2,508.8 296,510.5 297.9,510.7 296.5,512 296.9,513.9 295.2,512.9 293.6,513.9 294,512 292.6,510.7 294.5,510.5" fill="#0000ff"/>
<polygon points="308.2,508.8 309,510.5 310.9,510.7 309.5,512 309.9,513.9 308.2,512.9 306.6,513.9 307,512 305.6,510.7 307.5,510.5" fill="#0000ff"/>
<polygon points="321.2,508.8 322,510.5 323.9,510.7 322.5,512 322.9,513.9 321.2,512.9 319.6,513.9 320,512 318.6,510.7 320.5,510.5" fill="#0000ff"/>
<polygon points="334.2,509.2 335,510.9 336.9,511.1 335.5,512.4 335.9,514.3 334.2,513.3 332.6,514.3 333,512.4 331.6,511.1 333.5,510.9" fill="#0000ff"/>
<polygon points="347.2,510 348,511.7 349.9,511.9 348.5,513.2 348.9,515 347.2,514.1 345.6,515 346,513.2 344.6,511.9 346.5,511.7" fill="#0000ff"/>
<polygon points="360.2,521.1 361,522.9 362.9,523.1 361.5,524.3 361.9,526.2 360.2,525.2 358.6,526.2 359,524.3 357.6,523.1 359.5,522.9" fill="#0000ff"/>
<polygon points="373.2,534.5 374,536.2 375.9,536.4 374.5,537.7 374.9,539.5 373.2,538.6 371.6,539.5 372,537.7 370.6,536.4 372.5,536.2" fill="#0000ff"/>
<polygon points="386.2,566.3 387,568 388.9,568.2 387.5,569.5 387.9,571.3 386.2,570.4 384.6,571.3 385,569.5 383.6,568.2 385.5,568" fill="#0000ff"/>
<polygon points="399.2,583.5 400,585.2 401.9,585.4 400.4,586.7 400.9,588.5 399.2,587.6 397.6,588.5 398,586.7 396.5,585.4 398.4,585.2" fill="#0000ff"/>
<polygon points="412.2,587.3 413,589 414.9,589.2 413.4,590.5 413.9,592.4 412.2,591.4 410.6,592.4 411,590.5 409.5,589.2 411.4,589" fill="#0000ff"/>
<path d="M269.3 505.2L271.4 511.6L276.7 530.3L277.3 545L279.6 552L281.4 566L282.3 569L283.1 589.4" stroke="#00ffff" stroke-width="1.3" fill="none" stroke-linejoin="round"/>
<polygon points="269.3,502.7 271.2,505.2 269.3,507.7 267.4,505.2" fill="#00ffff"/>
<polygon points="282.3,566.3 284.2,568.8 282.3,571.3 280.4,568.8" fill="#00ffff"/>
<path d="M269.3 511L271.4 511.6L273.2 520.4L273.8 545L274.9 554.3L276.1 566L276.7 573L278.4 576.5" stroke="#ff0000" stroke-width="1.3" fill="none" stroke-linejoin="round"/>
<polygon points="271.6,511 267.5,508.7 267.5,513.3" fill="#ff0000"/>
</g>
<rect x="387.4" y="490.8" width="32.9" height="30.9" fill="#fff" stroke="#aaa" stroke-width="0.7"/>
<path d="M388.7 494.3H403.2" stroke="#00ff00" stroke-width="1"/>
<polygon points="396,491.5 398.1,494.3 396,497.1 393.8,494.3" fill="#00ff00"/>
<text transform="translate(404.6 495.8) scale(0.1)" text-anchor="start" font-size="42" fill="#3c3c3c" stroke="#3c3c3c" stroke-width="1">DBO</text>
<path d="M388.7 500.2H403.2" stroke="#000000" stroke-width="1"/>
<rect x="394.3" y="498.5" width="3.4" height="3.4" fill="#000000"/>
<text transform="translate(404.6 501.7) scale(0.1)" text-anchor="start" font-size="42" fill="#3c3c3c" stroke="#3c3c3c" stroke-width="1">IDBO-1</text>
<path d="M388.7 506.1H403.2" stroke="#0000ff" stroke-width="1"/>
<polygon points="396,502.9 396.8,504.9 398.9,505.1 397.3,506.5 397.8,508.6 396,507.5 394.1,508.6 394.6,506.5 393,505.1 395.1,504.9" fill="#0000ff"/>
<text transform="translate(404.6 507.6) scale(0.1)" text-anchor="start" font-size="42" fill="#3c3c3c" stroke="#3c3c3c" stroke-width="1">IDBO-2</text>
<path d="M388.7 512H403.2" stroke="#00ffff" stroke-width="1"/>
<polygon points="396,509.2 398.1,512 396,514.8 393.8,512" fill="#00ffff"/>
<text transform="translate(404.6 513.5) scale(0.1)" text-anchor="start" font-size="42" fill="#3c3c3c" stroke="#3c3c3c" stroke-width="1">IDBO-3</text>
<path d="M388.7 517.9H403.2" stroke="#ff0000" stroke-width="1"/>
<polygon points="398.5,517.9 393.9,515.3 393.9,520.5" fill="#ff0000"/>
<text transform="translate(404.6 519.4) scale(0.1)" text-anchor="start" font-size="42" fill="#3c3c3c" stroke="#3c3c3c" stroke-width="1">IDBO</text>
</g>
<g>
<clipPath id="cF12"><rect x="492.5" y="483.9" width="161.9" height="128.5"/></clipPath>
<rect x="495.5" y="486.9" width="155.9" height="122.5" fill="none" stroke="#b0b0b0" stroke-width="0.95"/>
<path d="M495.5 609.4v-1.5M495.5 486.9v1.5M511.1 609.4v-1.5M511.1 486.9v1.5M526.6 609.4v-1.5M526.6 486.9v1.5M542.2 609.4v-1.5M542.2 486.9v1.5M557.8 609.4v-1.5M557.8 486.9v1.5M573.4 609.4v-1.5M573.4 486.9v1.5M589 609.4v-1.5M589 486.9v1.5M604.6 609.4v-1.5M604.6 486.9v1.5M620.2 609.4v-1.5M620.2 486.9v1.5M635.8 609.4v-1.5M635.8 486.9v1.5M651.4 609.4v-1.5M651.4 486.9v1.5M495.5 486.9h1.5M651.4 486.9h-1.5M495.5 517.5h1.5M651.4 517.5h-1.5M495.5 548.1h1.5M651.4 548.1h-1.5M495.5 578.8h1.5M651.4 578.8h-1.5M495.5 609.4h1.5M651.4 609.4h-1.5M495.5 603.3h0.8M651.4 603.3h-0.8M495.5 597.1h0.8M651.4 597.1h-0.8M495.5 591h0.8M651.4 591h-0.8M495.5 584.9h0.8M651.4 584.9h-0.8M495.5 578.8h0.8M651.4 578.8h-0.8M495.5 572.6h0.8M651.4 572.6h-0.8M495.5 566.5h0.8M651.4 566.5h-0.8M495.5 560.4h0.8M651.4 560.4h-0.8M495.5 554.3h0.8M651.4 554.3h-0.8M495.5 548.1h0.8M651.4 548.1h-0.8M495.5 542h0.8M651.4 542h-0.8M495.5 535.9h0.8M651.4 535.9h-0.8M495.5 529.8h0.8M651.4 529.8h-0.8M495.5 523.6h0.8M651.4 523.6h-0.8M495.5 517.5h0.8M651.4 517.5h-0.8M495.5 511.4h0.8M651.4 511.4h-0.8M495.5 505.3h0.8M651.4 505.3h-0.8M495.5 499.1h0.8M651.4 499.1h-0.8M495.5 493h0.8M651.4 493h-0.8" stroke="#777" stroke-width="0.7" fill="none"/>
<text transform="translate(495.5 616.8) scale(0.1)" text-anchor="middle" font-size="50" fill="#3c3c3c" stroke="#3c3c3c" stroke-width="1">0</text>
<text transform="translate(511.1 616.8) scale(0.1)" text-anchor="middle" font-size="50" fill="#3c3c3c" stroke="#3c3c3c" stroke-width="1">50</text>
<text transform="translate(526.6 616.8) scale(0.1)" text-anchor="middle" font-size="50" fill="#3c3c3c" stroke="#3c3c3c" stroke-width="1">100</text>
<text transform="translate(542.2 616.8) scale(0.1)" text-anchor="middle" font-size="50" fill="#3c3c3c" stroke="#3c3c3c" stroke-width="1">150</text>
<text transform="translate(557.8 616.8) scale(0.1)" text-anchor="middle" font-size="50" fill="#3c3c3c" stroke="#3c3c3c" stroke-width="1">200</text>
<text transform="translate(573.4 616.8) scale(0.1)" text-anchor="middle" font-size="50" fill="#3c3c3c" stroke="#3c3c3c" stroke-width="1">250</text>
<text transform="translate(589 616.8) scale(0.1)" text-anchor="middle" font-size="50" fill="#3c3c3c" stroke="#3c3c3c" stroke-width="1">300</text>
<text transform="translate(604.6 616.8) scale(0.1)" text-anchor="middle" font-size="50" fill="#3c3c3c" stroke="#3c3c3c" stroke-width="1">350</text>
<text transform="translate(620.2 616.8) scale(0.1)" text-anchor="middle" font-size="50" fill="#3c3c3c" stroke="#3c3c3c" stroke-width="1">400</text>
<text transform="translate(635.8 616.8) scale(0.1)" text-anchor="middle" font-size="50" fill="#3c3c3c" stroke="#3c3c3c" stroke-width="1">450</text>
<text transform="translate(651.4 616.8) scale(0.1)" text-anchor="middle" font-size="50" fill="#3c3c3c" stroke="#3c3c3c" stroke-width="1">500</text>
<text transform="translate(493 489.6) scale(0.1)" text-anchor="end" font-size="50" fill="#3c3c3c" stroke="#3c3c3c" stroke-width="1">10<tspan font-size="36" dy="-24.5">10</tspan></text>
<text transform="translate(493 520.3) scale(0.1)" text-anchor="end" font-size="50" fill="#3c3c3c" stroke="#3c3c3c" stroke-width="1">10<tspan font-size="36" dy="-24.5">5</tspan></text>
<text transform="translate(493 550.9) scale(0.1)" text-anchor="end" font-size="50" fill="#3c3c3c" stroke="#3c3c3c" stroke-width="1">10<tspan font-size="36" dy="-24.5">0</tspan></text>
<text transform="translate(493 581.5) scale(0.1)" text-anchor="end" font-size="50" fill="#3c3c3c" stroke="#3c3c3c" stroke-width="1">10<tspan font-size="36" dy="-24.5">-5</tspan></text>
<text transform="translate(493 612.1) scale(0.1)" text-anchor="end" font-size="50" fill="#3c3c3c" stroke="#3c3c3c" stroke-width="1">10<tspan font-size="36" dy="-24.5">-10</tspan></text>
<text transform="translate(573.4 484.4) scale(0.1)" text-anchor="middle" font-size="50" fill="#222" stroke="#222" stroke-width="1" font-weight="bold">F12</text>
<text transform="translate(573.4 623.4) scale(0.1)" text-anchor="middle" font-size="51.5" fill="#3c3c3c" stroke="#3c3c3c" stroke-width="1">Iterations</text>
<text transform="translate(480.1 548.1) rotate(-90) scale(0.1)" text-anchor="middle" font-size="51.5" fill="#3c3c3c" stroke="#3c3c3c" stroke-width="1">Best score</text>
<g clip-path="url(#cF12)">
<path d="M495.8 544L497.7 547.8L510.5 550.1L528 554.2L545.6 557.1L565 559.3L582 559.7L588.6 563L591.3 567.6L597.8 571.5L605.7 573.5L617.6 576.1L636 580.1L651.4 578.5" stroke="#00ff00" stroke-width="1.3" fill="none" stroke-linejoin="round"/>
<polygon points="495.8,541.5 497.7,544 495.8,546.5 493.9,544" fill="#00ff00"/>
<polygon points="511.4,547.8 513.3,550.3 511.4,552.8 509.5,550.3" fill="#00ff00"/>
<polygon points="527,551.5 528.9,554 527,556.5 525.1,554" fill="#00ff00"/>
<polygon points="542.6,554.1 544.5,556.6 542.6,559.1 540.7,556.6" fill="#00ff00"/>
<polygon points="558.1,556 560,558.5 558.1,561 556.2,558.5" fill="#00ff00"/>
<polygon points="573.7,557 575.6,559.5 573.7,562 571.8,559.5" fill="#00ff00"/>
<polygon points="589.3,561.8 591.2,564.3 589.3,566.8 587.4,564.3" fill="#00ff00"/>
<polygon points="604.9,570.8 606.8,573.3 604.9,575.8 603,573.3" fill="#00ff00"/>
<polygon points="620.5,574.2 622.4,576.7 620.5,579.2 618.6,576.7" fill="#00ff00"/>
<polygon points="636.1,577.6 638,580.1 636.1,582.6 634.2,580.1" fill="#00ff00"/>
<path d="M495.8 495.7L498.7 496.2L499.7 497.6L500.1 511.9L501.1 540.4L502.5 542.8L503 547L510.5 547.3L512.9 549L517.5 549.6L519.9 552L526.9 553.7L542 556.6L558.4 557.8L572.9 558.4L589.3 559.1L605.7 559.7L620.8 560.4L636 560.4L645.8 560.4L647.8 563.7L651.4 567.6" stroke="#000000" stroke-width="1.1" fill="none" stroke-linejoin="round"/>
<rect x="494.3" y="494.2" width="3" height="3" fill="#000000"/>
<rect x="509.9" y="546.4" width="3" height="3" fill="#000000"/>
<rect x="525.5" y="552.2" width="3" height="3" fill="#000000"/>
<rect x="541.1" y="555.1" width="3" height="3" fill="#000000"/>
<rect x="556.6" y="556.3" width="3" height="3" fill="#000000"/>
<rect x="572.2" y="556.9" width="3" height="3" fill="#000000"/>
<rect x="587.8" y="557.6" width="3" height="3" fill="#000000"/>
<rect x="603.4" y="558.2" width="3" height="3" fill="#000000"/>
<rect x="619" y="558.9" width="3" height="3" fill="#000000"/>
<rect x="634.6" y="558.9" width="3" height="3" fill="#000000"/>
<path d="M495.8 504.7L496.3 518.5L496.8 544.2L498.7 547L504.7 549.6L516.4 553.7L528 557.2L539.7 560.1L552.6 563L563.1 563.6L578.1 563.6L580.1 569.6L591.3 573.5L604.4 575.5L617.6 576.5L651.4 576.8" stroke="#0000ff" stroke-width="1.3" fill="none" stroke-linejoin="round"/>
<polygon points="495.8,501.9 496.6,503.6 498.5,503.8 497,505.1 497.4,507 495.8,506 494.2,507 494.6,505.1 493.1,503.8 495,503.6" fill="#0000ff"/>
<polygon points="498.9,544.3 499.7,546 501.6,546.2 500.1,547.5 500.5,549.3 498.9,548.4 497.2,549.3 497.7,547.5 496.2,546.2 498.1,546" fill="#0000ff"/>
<polygon points="502,545.6 502.8,547.4 504.7,547.6 503.2,548.8 503.7,550.7 502,549.7 500.4,550.7 500.8,548.8 499.3,547.6 501.2,547.4" fill="#0000ff"/>
<polygon points="505.1,547 505.9,548.7 507.8,548.9 506.4,550.2 506.8,552 505.1,551.1 503.5,552 503.9,550.2 502.5,548.9 504.4,548.7" fill="#0000ff"/>
<polygon points="508.2,548 509,549.8 510.9,550 509.5,551.2 509.9,553.1 508.2,552.1 506.6,553.1 507,551.2 505.6,550 507.5,549.8" fill="#0000ff"/>
<polygon points="511.4,549.1 512.1,550.9 514,551.1 512.6,552.3 513,554.2 511.4,553.2 509.7,554.2 510.1,552.3 508.7,551.1 510.6,550.9" fill="#0000ff"/>
<polygon points="514.5,550.2 515.2,552 517.1,552.2 515.7,553.4 516.1,555.3 514.5,554.3 512.8,555.3 513.2,553.4 511.8,552.2 513.7,552" fill="#0000ff"/>
<polygon points="517.6,551.3 518.4,553 520.3,553.2 518.8,554.5 519.2,556.3 517.6,555.4 516,556.3 516.4,554.5 514.9,553.2 516.8,553" fill="#0000ff"/>
<polygon points="520.7,552.2 521.5,554 523.4,554.1 522,555.4 522.4,557.3 520.7,556.3 519.1,557.3 519.5,555.4 518.1,554.1 520,554" fill="#0000ff"/>
<polygon points="523.8,553.1 524.6,554.9 526.5,555.1 525.1,556.3 525.5,558.2 523.8,557.2 522.2,558.2 522.6,556.3 521.2,555.1 523.1,554.9" fill="#0000ff"/>
<polygon points="527,554.1 527.7,555.8 529.6,556 528.2,557.3 528.6,559.2 527,558.2 525.3,559.2 525.7,557.3 524.3,556 526.2,555.8" fill="#0000ff"/>
<polygon points="530.1,554.9 530.8,556.7 532.7,556.8 531.3,558.1 531.7,560 530.1,559 528.4,560 528.8,558.1 527.4,556.8 529.3,556.7" fill="#0000ff"/>
<polygon points="533.2,555.7 534,557.4 535.9,557.6 534.4,558.9 534.8,560.8 533.2,559.8 531.6,560.8 532,558.9 530.5,557.6 532.4,557.4" fill="#0000ff"/>
<polygon points="536.3,556.5 537.1,558.2 539,558.4 537.6,559.7 538,561.5 536.3,560.6 534.7,561.5 535.1,559.7 533.7,558.4 535.6,558.2" fill="#0000ff"/>
<polygon points="539.4,557.2 540.2,559 542.1,559.2 540.7,560.4 541.1,562.3 539.4,561.3 537.8,562.3 538.2,560.4 536.8,559.2 538.7,559" fill="#0000ff"/>
<polygon points="542.6,557.9 543.3,559.7 545.2,559.9 543.8,561.1 544.2,563 542.6,562 540.9,563 541.3,561.1 539.9,559.9 541.8,559.7" fill="#0000ff"/>
<polygon points="545.7,558.6 546.4,560.4 548.3,560.6 546.9,561.8 547.3,563.7 545.7,562.7 544,563.7 544.4,561.8 543,560.6 544.9,560.4" fill="#0000ff"/>
<polygon points="548.8,559.3 549.6,561.1 551.5,561.3 550,562.5 550.4,564.4 548.8,563.4 547.1,564.4 547.6,562.5 546.1,561.3 548,561.1" fill="#0000ff"/>
<polygon points="551.9,560 552.7,561.8 554.6,562 553.1,563.2 553.6,565.1 551.9,564.1 550.3,565.1 550.7,563.2 549.2,562 551.1,561.8" fill="#0000ff"/>
<polygon points="555,560.3 555.8,562.1 557.7,562.3 556.3,563.5 556.7,565.4 555,564.4 553.4,565.4 553.8,563.5 552.4,562.3 554.3,562.1" fill="#0000ff"/>
<polygon points="558.1,560.5 558.9,562.3 560.8,562.5 559.4,563.7 559.8,565.6 558.1,564.6 556.5,565.6 556.9,563.7 555.5,562.5 557.4,562.3" fill="#0000ff"/>
<polygon points="561.3,560.7 562,562.4 563.9,562.6 562.5,563.9 562.9,565.8 561.3,564.8 559.6,565.8 560,563.9 558.6,562.6 560.5,562.4" fill="#0000ff"/>
<polygon points="564.4,560.8 565.1,562.5 567,562.7 565.6,564 566,565.9 564.4,564.9 562.7,565.9 563.1,564 561.7,562.7 563.6,562.5" fill="#0000ff"/>
<polygon points="567.5,560.8 568.3,562.5 570.2,562.7 568.7,564 569.2,565.9 567.5,564.9 565.9,565.9 566.3,564 564.8,562.7 566.7,562.5" fill="#0000ff"/>
<polygon points="570.6,560.8 571.4,562.5 573.3,562.7 571.9,564 572.3,565.9 570.6,564.9 569,565.9 569.4,564 568,562.7 569.9,562.5" fill="#0000ff"/>
<polygon points="573.7,560.8 574.5,562.5 576.4,562.7 575,564 575.4,565.9 573.7,564.9 572.1,565.9 572.5,564 571.1,562.7 573,562.5" fill="#0000ff"/>
<polygon points="576.9,560.8 577.6,562.5 579.5,562.7 578.1,564 578.5,565.9 576.9,564.9 575.2,565.9 575.6,564 574.2,562.7 576.1,562.5" fill="#0000ff"/>
<polygon points="580,566.4 580.7,568.2 582.6,568.4 581.2,569.6 581.6,571.5 580,570.5 578.3,571.5 578.7,569.6 577.3,568.4 579.2,568.2" fill="#0000ff"/>
<polygon points="583.1,567.8 583.9,569.6 585.8,569.8 584.3,571 584.7,572.9 583.1,571.9 581.5,572.9 581.9,571 580.4,569.8 582.3,569.6" fill="#0000ff"/>
<polygon points="586.2,568.9 587,570.7 588.9,570.9 587.5,572.1 587.9,574 586.2,573 584.6,574 585,572.1 583.6,570.9 585.5,570.7" fill="#0000ff"/>
<polygon points="589.3,570 590.1,571.8 592,572 590.6,573.2 591,575.1 589.3,574.1 587.7,575.1 588.1,573.2 586.7,572 588.6,571.8" fill="#0000ff"/>
<polygon points="592.5,570.9 593.2,572.6 595.1,572.8 593.7,574.1 594.1,575.9 592.5,575 590.8,575.9 591.2,574.1 589.8,572.8 591.7,572.6" fill="#0000ff"/>
<polygon points="595.6,571.4 596.3,573.1 598.2,573.3 596.8,574.6 597.2,576.4 595.6,575.5 593.9,576.4 594.3,574.6 592.9,573.3 594.8,573.1" fill="#0000ff"/>
<polygon points="598.7,571.8 599.5,573.6 601.4,573.8 599.9,575 600.3,576.9 598.7,575.9 597,576.9 597.5,575 596,573.8 597.9,573.6" fill="#0000ff"/>
<polygon points="601.8,572.3 602.6,574.1 604.5,574.2 603,575.5 603.5,577.4 601.8,576.4 600.2,577.4 600.6,575.5 599.1,574.2 601,574.1" fill="#0000ff"/>
<polygon points="604.9,572.7 605.7,574.5 607.6,574.7 606.2,575.9 606.6,577.8 604.9,576.8 603.3,577.8 603.7,575.9 602.3,574.7 604.2,574.5" fill="#0000ff"/>
<polygon points="608,573 608.8,574.7 610.7,574.9 609.3,576.2 609.7,578 608,577.1 606.4,578 606.8,576.2 605.4,574.9 607.3,574.7" fill="#0000ff"/>
<polygon points="611.2,573.2 611.9,575 613.8,575.1 612.4,576.4 612.8,578.3 611.2,577.3 609.5,578.3 609.9,576.4 608.5,575.1 610.4,575" fill="#0000ff"/>
<polygon points="614.3,573.4 615.1,575.2 616.9,575.4 615.5,576.7 615.9,578.5 614.3,577.5 612.6,578.5 613,576.7 611.6,575.4 613.5,575.2" fill="#0000ff"/>
<polygon points="617.4,573.7 618.2,575.4 620.1,575.6 618.6,576.9 619.1,578.8 617.4,577.8 615.8,578.8 616.2,576.9 614.7,575.6 616.6,575.4" fill="#0000ff"/>
<polygon points="620.5,573.7 621.3,575.5 623.2,575.7 621.8,576.9 622.2,578.8 620.5,577.8 618.9,578.8 619.3,576.9 617.9,575.7 619.8,575.5" fill="#0000ff"/>
<polygon points="623.6,573.8 624.4,575.5 626.3,575.7 624.9,577 625.3,578.8 623.6,577.9 622,578.8 622.4,577 621,575.7 622.9,575.5" fill="#0000ff"/>
<polygon points="626.8,573.8 627.5,575.5 629.4,575.7 628,577 628.4,578.8 626.8,577.9 625.1,578.8 625.5,577 624.1,575.7 626,575.5" fill="#0000ff"/>
<polygon points="629.9,573.8 630.6,575.6 632.5,575.7 631.1,577 631.5,578.9 629.9,577.9 628.2,578.9 628.6,577 627.2,575.7 629.1,575.6" fill="#0000ff"/>
<polygon points="633,573.8 633.8,575.6 635.7,575.8 634.2,577 634.6,578.9 633,577.9 631.4,578.9 631.8,577 630.3,575.8 632.2,575.6" fill="#0000ff"/>
<polygon points="636.1,573.9 636.9,575.6 638.8,575.8 637.4,577.1 637.8,578.9 636.1,578 634.5,578.9 634.9,577.1 633.5,575.8 635.4,575.6" fill="#0000ff"/>
<polygon points="639.2,573.9 640,575.6 641.9,575.8 640.5,577.1 640.9,579 639.2,578 637.6,579 638,577.1 636.6,575.8 638.5,575.6" fill="#0000ff"/>
<polygon points="642.4,573.9 643.1,575.7 645,575.9 643.6,577.1 644,579 642.4,578 640.7,579 641.1,577.1 639.7,575.9 641.6,575.7" fill="#0000ff"/>
<polygon points="645.5,573.9 646.2,575.7 648.1,575.9 646.7,577.1 647.1,579 645.5,578 643.8,579 644.2,577.1 642.8,575.9 644.7,575.7" fill="#0000ff"/>
<polygon points="648.6,574 649.4,575.7 651.3,575.9 649.8,577.2 650.2,579 648.6,578.1 646.9,579 647.4,577.2 645.9,575.9 647.8,575.7" fill="#0000ff"/>
<path d="M495.8 544.9L497.7 547.8L510.5 550.2L528 554.3L545.6 557.2L565 559.4L582.1 559.7L609.7 561L610.3 568.2L617.6 570.9L625.4 574.2L637.3 576.1L651.4 579.4" stroke="#00ffff" stroke-width="1.3" fill="none" stroke-linejoin="round"/>
<polygon points="495.8,542.4 497.7,544.9 495.8,547.4 493.9,544.9" fill="#00ffff"/>
<polygon points="498.9,545.5 500.8,548 498.9,550.5 497,548" fill="#00ffff"/>
<polygon points="502,546.1 503.9,548.6 502,551.1 500.1,548.6" fill="#00ffff"/>
<polygon points="505.1,546.7 507,549.2 505.1,551.7 503.2,549.2" fill="#00ffff"/>
<polygon points="508.2,547.3 510.1,549.8 508.2,552.3 506.3,549.8" fill="#00ffff"/>
<polygon points="511.4,547.9 513.3,550.4 511.4,552.9 509.5,550.4" fill="#00ffff"/>
<polygon points="514.5,548.6 516.4,551.1 514.5,553.6 512.6,551.1" fill="#00ffff"/>
<polygon points="517.6,549.4 519.5,551.9 517.6,554.4 515.7,551.9" fill="#00ffff"/>
<polygon points="520.7,550.1 522.6,552.6 520.7,555.1 518.8,552.6" fill="#00ffff"/>
<polygon points="523.8,550.8 525.7,553.3 523.8,555.8 521.9,553.3" fill="#00ffff"/>
<polygon points="527,551.6 528.9,554.1 527,556.6 525.1,554.1" fill="#00ffff"/>
<polygon points="530.1,552.1 532,554.6 530.1,557.1 528.2,554.6" fill="#00ffff"/>
<polygon points="533.2,552.7 535.1,555.2 533.2,557.7 531.3,555.2" fill="#00ffff"/>
<polygon points="536.3,553.2 538.2,555.7 536.3,558.2 534.4,555.7" fill="#00ffff"/>
<polygon points="539.4,553.7 541.3,556.2 539.4,558.7 537.5,556.2" fill="#00ffff"/>
<polygon points="542.6,554.2 544.5,556.7 542.6,559.2 540.7,556.7" fill="#00ffff"/>
<polygon points="545.7,554.7 547.6,557.2 545.7,559.7 543.8,557.2" fill="#00ffff"/>
<polygon points="548.8,555.1 550.7,557.6 548.8,560.1 546.9,557.6" fill="#00ffff"/>
<polygon points="551.9,555.4 553.8,557.9 551.9,560.4 550,557.9" fill="#00ffff"/>
<polygon points="555,555.8 556.9,558.3 555,560.8 553.1,558.3" fill="#00ffff"/>
<polygon points="558.1,556.1 560,558.6 558.1,561.1 556.2,558.6" fill="#00ffff"/>
<polygon points="561.3,556.5 563.2,559 561.3,561.5 559.4,559" fill="#00ffff"/>
<polygon points="564.4,556.8 566.3,559.3 564.4,561.8 562.5,559.3" fill="#00ffff"/>
<polygon points="567.5,556.9 569.4,559.4 567.5,561.9 565.6,559.4" fill="#00ffff"/>
<polygon points="570.6,557 572.5,559.5 570.6,562 568.7,559.5" fill="#00ffff"/>
<polygon points="573.7,557.1 575.6,559.6 573.7,562.1 571.8,559.6" fill="#00ffff"/>
<polygon points="576.9,557.1 578.8,559.6 576.9,562.1 575,559.6" fill="#00ffff"/>
<polygon points="580,557.2 581.9,559.7 580,562.2 578.1,559.7" fill="#00ffff"/>
<polygon points="583.1,557.2 585,559.7 583.1,562.2 581.2,559.7" fill="#00ffff"/>
<polygon points="586.2,557.4 588.1,559.9 586.2,562.4 584.3,559.9" fill="#00ffff"/>
<polygon points="589.3,557.5 591.2,560 589.3,562.5 587.4,560" fill="#00ffff"/>
<polygon points="592.5,557.7 594.4,560.2 592.5,562.7 590.6,560.2" fill="#00ffff"/>
<polygon points="595.6,557.8 597.5,560.3 595.6,562.8 593.7,560.3" fill="#00ffff"/>
<polygon points="598.7,558 600.6,560.5 598.7,563 596.8,560.5" fill="#00ffff"/>
<polygon points="601.8,558.1 603.7,560.6 601.8,563.1 599.9,560.6" fill="#00ffff"/>
<polygon points="604.9,558.3 606.8,560.8 604.9,563.3 603,560.8" fill="#00ffff"/>
<polygon points="608,558.4 609.9,560.9 608,563.4 606.1,560.9" fill="#00ffff"/>
<polygon points="611.2,566 613.1,568.5 611.2,571 609.3,568.5" fill="#00ffff"/>
<polygon points="614.3,567.2 616.2,569.7 614.3,572.2 612.4,569.7" fill="#00ffff"/>
<polygon points="617.4,568.3 619.3,570.8 617.4,573.3 615.5,570.8" fill="#00ffff"/>
<polygon points="620.5,569.6 622.4,572.1 620.5,574.6 618.6,572.1" fill="#00ffff"/>
<polygon points="623.6,571 625.5,573.5 623.6,576 621.7,573.5" fill="#00ffff"/>
<polygon points="626.8,571.9 628.7,574.4 626.8,576.9 624.9,574.4" fill="#00ffff"/>
<polygon points="629.9,572.4 631.8,574.9 629.9,577.4 628,574.9" fill="#00ffff"/>
<polygon points="633,572.9 634.9,575.4 633,577.9 631.1,575.4" fill="#00ffff"/>
<polygon points="636.1,573.4 638,575.9 636.1,578.4 634.2,575.9" fill="#00ffff"/>
<polygon points="639.2,574.1 641.1,576.6 639.2,579.1 637.3,576.6" fill="#00ffff"/>
<polygon points="642.4,574.8 644.3,577.3 642.4,579.8 640.5,577.3" fill="#00ffff"/>
<polygon points="645.5,575.5 647.4,578 645.5,580.5 643.6,578" fill="#00ffff"/>
<polygon points="648.6,576.2 650.5,578.7 648.6,581.2 646.7,578.7" fill="#00ffff"/>
<path d="M495.8 517.1L495.9 545.1L497.8 548.9L504.7 552.5L516.4 556.6L528 558.9L539.7 561.3L551.4 563L553.7 566.5L565 568L578.1 571.5L591.3 575.5L604.4 579.4L617.6 582L630.7 584L651.4 587.3" stroke="#ff0000" stroke-width="1.3" fill="none" stroke-linejoin="round"/>
<polygon points="498.1,517.1 494,514.8 494,519.4" fill="#ff0000"/>
<polygon points="501.2,549.5 497.1,547.2 497.1,551.8" fill="#ff0000"/>
<polygon points="504.3,551.1 500.2,548.8 500.2,553.4" fill="#ff0000"/>
<polygon points="507.4,552.7 503.3,550.4 503.3,555" fill="#ff0000"/>
<polygon points="510.5,553.7 506.4,551.4 506.4,556" fill="#ff0000"/>
<polygon points="513.7,554.8 509.6,552.5 509.6,557.1" fill="#ff0000"/>
<polygon points="516.8,555.9 512.7,553.6 512.7,558.2" fill="#ff0000"/>
<polygon points="519.9,556.8 515.8,554.5 515.8,559.1" fill="#ff0000"/>
<polygon points="523,557.5 518.9,555.2 518.9,559.8" fill="#ff0000"/>
<polygon points="526.1,558.1 522,555.8 522,560.4" fill="#ff0000"/>
<polygon points="529.3,558.7 525.2,556.4 525.2,561" fill="#ff0000"/>
<polygon points="532.4,559.3 528.3,557 528.3,561.6" fill="#ff0000"/>
<polygon points="535.5,560 531.4,557.7 531.4,562.3" fill="#ff0000"/>
<polygon points="538.6,560.6 534.5,558.3 534.5,562.9" fill="#ff0000"/>
<polygon points="541.7,561.2 537.6,558.9 537.6,563.5" fill="#ff0000"/>
<polygon points="544.9,561.7 540.8,559.4 540.8,564" fill="#ff0000"/>
<polygon points="548,562.2 543.9,559.9 543.9,564.5" fill="#ff0000"/>
<polygon points="551.1,562.6 547,560.3 547,564.9" fill="#ff0000"/>
<polygon points="554.2,563.8 550.1,561.5 550.1,566.1" fill="#ff0000"/>
<polygon points="557.3,566.7 553.2,564.4 553.2,569" fill="#ff0000"/>
<polygon points="560.4,567.1 556.3,564.8 556.3,569.4" fill="#ff0000"/>
<polygon points="563.6,567.5 559.5,565.2 559.5,569.8" fill="#ff0000"/>
<polygon points="566.7,567.9 562.6,565.6 562.6,570.2" fill="#ff0000"/>
<polygon points="569.8,568.7 565.7,566.4 565.7,571" fill="#ff0000"/>
<polygon points="572.9,569.5 568.8,567.2 568.8,571.8" fill="#ff0000"/>
<polygon points="576,570.3 571.9,568 571.9,572.6" fill="#ff0000"/>
<polygon points="579.2,571.2 575.1,568.9 575.1,573.5" fill="#ff0000"/>
<polygon points="582.3,572.1 578.2,569.8 578.2,574.4" fill="#ff0000"/>
<polygon points="585.4,573 581.3,570.7 581.3,575.3" fill="#ff0000"/>
<polygon points="588.5,574 584.4,571.7 584.4,576.3" fill="#ff0000"/>
<polygon points="591.6,574.9 587.5,572.6 587.5,577.2" fill="#ff0000"/>
<polygon points="594.8,575.8 590.7,573.5 590.7,578.1" fill="#ff0000"/>
<polygon points="597.9,576.8 593.8,574.5 593.8,579.1" fill="#ff0000"/>
<polygon points="601,577.7 596.9,575.4 596.9,580" fill="#ff0000"/>
<polygon points="604.1,578.6 600,576.3 600,580.9" fill="#ff0000"/>
<polygon points="607.2,579.5 603.1,577.2 603.1,581.8" fill="#ff0000"/>
<polygon points="610.3,580.1 606.2,577.8 606.2,582.4" fill="#ff0000"/>
<polygon points="613.5,580.7 609.4,578.4 609.4,583" fill="#ff0000"/>
<polygon points="616.6,581.3 612.5,579 612.5,583.6" fill="#ff0000"/>
<polygon points="619.7,582 615.6,579.7 615.6,584.3" fill="#ff0000"/>
<polygon points="622.8,582.4 618.7,580.1 618.7,584.7" fill="#ff0000"/>
<polygon points="625.9,582.9 621.8,580.6 621.8,585.2" fill="#ff0000"/>
<polygon points="629.1,583.4 625,581.1 625,585.7" fill="#ff0000"/>
<polygon points="632.2,583.9 628.1,581.6 628.1,586.2" fill="#ff0000"/>
<polygon points="635.3,584.4 631.2,582.1 631.2,586.7" fill="#ff0000"/>
<polygon points="638.4,584.9 634.3,582.6 634.3,587.2" fill="#ff0000"/>
<polygon points="641.5,585.4 637.4,583.1 637.4,587.7" fill="#ff0000"/>
<polygon points="644.7,585.9 640.6,583.6 640.6,588.2" fill="#ff0000"/>
<polygon points="647.8,586.4 643.7,584.1 643.7,588.7" fill="#ff0000"/>
<polygon points="650.9,586.9 646.8,584.6 646.8,589.2" fill="#ff0000"/>
</g>
<rect x="614.9" y="490.8" width="32.9" height="30.9" fill="#fff" stroke="#aaa" stroke-width="0.7"/>
<path d="M616.2 494.3H630.7" stroke="#00ff00" stroke-width="1"/>
<polygon points="623.5,491.5 625.6,494.3 623.5,497.1 621.3,494.3" fill="#00ff00"/>
<text transform="translate(632.1 495.8) scale(0.1)" text-anchor="start" font-size="42" fill="#3c3c3c" stroke="#3c3c3c" stroke-width="1">DBO</text>
<path d="M616.2 500.2H630.7" stroke="#000000" stroke-width="1"/>
<rect x="621.8" y="498.5" width="3.4" height="3.4" fill="#000000"/>
<text transform="translate(632.1 501.7) scale(0.1)" text-anchor="start" font-size="42" fill="#3c3c3c" stroke="#3c3c3c" stroke-width="1">IDBO-1</text>
<path d="M616.2 506.1H630.7" stroke="#0000ff" stroke-width="1"/>
<polygon points="623.5,502.9 624.3,504.9 626.4,505.1 624.8,506.5 625.3,508.6 623.5,507.5 621.6,508.6 622.1,506.5 620.5,505.1 622.6,504.9" fill="#0000ff"/>
<text transform="translate(632.1 507.6) scale(0.1)" text-anchor="start" font-size="42" fill="#3c3c3c" stroke="#3c3c3c" stroke-width="1">IDBO-2</text>
<path d="M616.2 512H630.7" stroke="#00ffff" stroke-width="1"/>
<polygon points="623.5,509.2 625.6,512 623.5,514.8 621.3,512" fill="#00ffff"/>
<text transform="translate(632.1 513.5) scale(0.1)" text-anchor="start" font-size="42" fill="#3c3c3c" stroke="#3c3c3c" stroke-width="1">IDBO-3</text>
<path d="M616.2 517.9H630.7" stroke="#ff0000" stroke-width="1"/>
<polygon points="626,517.9 621.4,515.3 621.4,520.5" fill="#ff0000"/>
<text transform="translate(632.1 519.4) scale(0.1)" text-anchor="start" font-size="42" fill="#3c3c3c" stroke="#3c3c3c" stroke-width="1">IDBO</text>
</g>
<circle cx="469.6" cy="626" r="0.7" fill="#c8c8c0"/>
<g fill="#000">
<rect x="0" y="0" width="685" height="2.1"/>
<rect x="0" y="628.7" width="685" height="2.3"/>
<rect x="0" y="0" width="2.3" height="631"/>
<rect x="682.5" y="0" width="2.5" height="631"/>
<rect x="227.4" y="0" width="2.6" height="631"/>
<rect x="454.8" y="0" width="2.7" height="631"/>
<rect x="0" y="156.9" width="685" height="2.5"/>
<rect x="0" y="314.4" width="685" height="2.1"/>
<rect x="0" y="471.5" width="685" height="2.3"/>
</g>
</svg>
</body></html>
